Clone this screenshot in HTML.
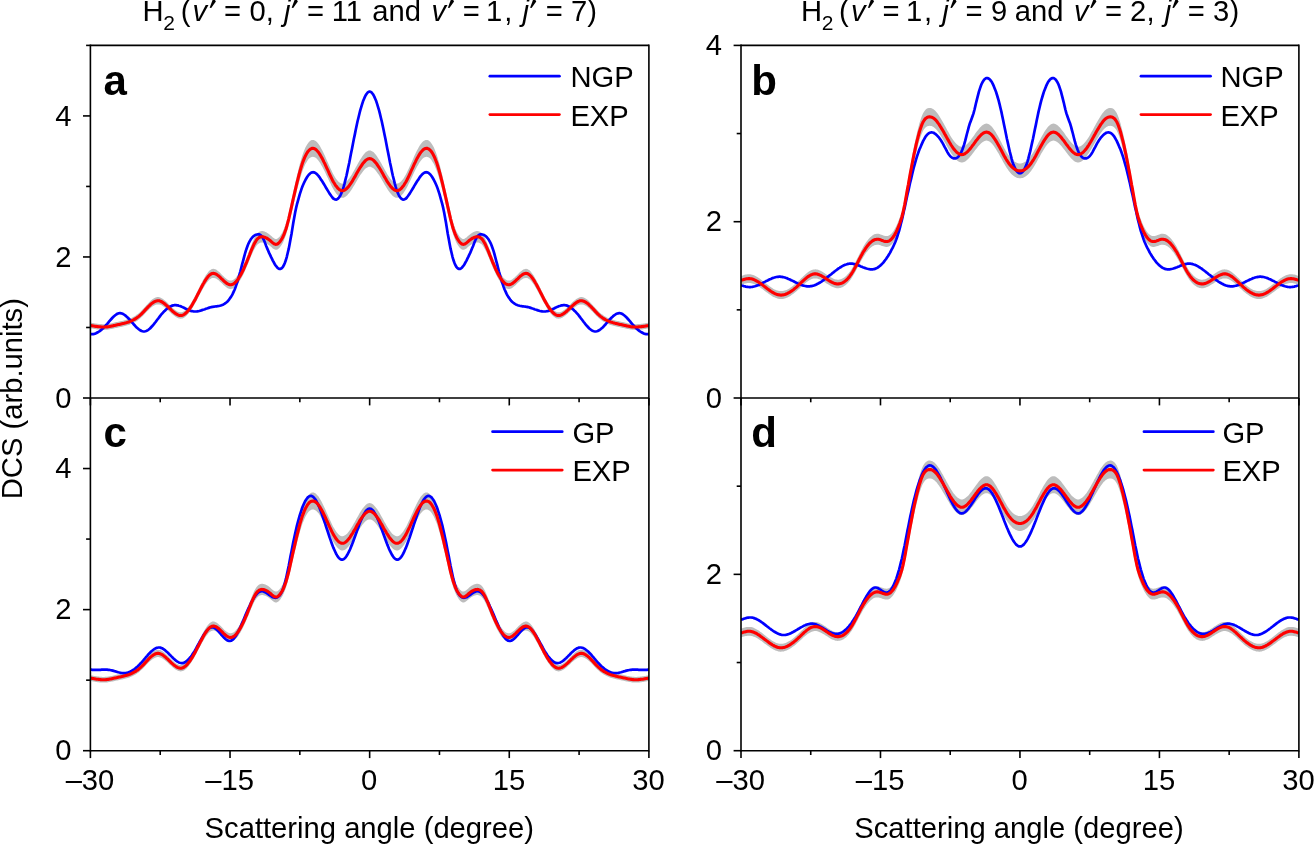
<!DOCTYPE html><html><head><meta charset="utf-8"><style>html,body{margin:0;padding:0;background:#fff}svg{display:block}text{font-family:"Liberation Sans",sans-serif;fill:#000}svg{will-change:transform}</style></head><body>
<svg width="1314" height="846" viewBox="0 0 1314 846">
<rect width="1314" height="846" fill="#fff"/>
<clipPath id="cpa"><rect x="90.4" y="45.4" width="558.5" height="352.6"/></clipPath>
<g clip-path="url(#cpa)" fill="none" stroke-linejoin="round">
<path d="M90.4,322.5 L91.3,322.7 L92.3,322.9 L93.2,323.0 L94.1,323.2 L95.1,323.4 L96.0,323.5 L96.9,323.7 L97.8,323.8 L98.8,323.9 L99.7,324.0 L100.6,324.1 L101.6,324.1 L102.5,324.2 L103.4,324.2 L104.4,324.2 L105.3,324.2 L106.2,324.1 L107.2,324.0 L108.1,323.9 L109.0,323.7 L109.9,323.6 L110.9,323.4 L111.8,323.2 L112.7,323.0 L113.7,322.8 L114.6,322.5 L115.5,322.3 L116.5,322.1 L117.4,321.9 L118.3,321.7 L119.3,321.5 L120.2,321.3 L121.1,321.1 L122.0,320.9 L123.0,320.7 L123.9,320.4 L124.8,320.2 L125.8,319.9 L126.7,319.6 L127.6,319.3 L128.6,319.0 L129.5,318.7 L130.4,318.3 L131.4,317.9 L132.3,317.4 L133.2,317.0 L134.1,316.4 L135.1,315.9 L136.0,315.3 L136.9,314.6 L137.9,313.9 L138.8,313.2 L139.7,312.4 L140.7,311.5 L141.6,310.6 L142.5,309.6 L143.5,308.6 L144.4,307.6 L145.3,306.5 L146.2,305.5 L147.2,304.5 L148.1,303.4 L149.0,302.5 L150.0,301.5 L150.9,300.6 L151.8,299.8 L152.8,299.1 L153.7,298.5 L154.6,297.9 L155.6,297.5 L156.5,297.2 L157.4,297.1 L158.4,297.0 L159.3,297.2 L160.2,297.5 L161.1,297.9 L162.1,298.4 L163.0,299.0 L163.9,299.7 L164.9,300.4 L165.8,301.2 L166.7,302.1 L167.7,303.0 L168.6,303.9 L169.5,304.9 L170.5,305.8 L171.4,306.7 L172.3,307.6 L173.2,308.5 L174.2,309.2 L175.1,310.0 L176.0,310.6 L177.0,311.2 L177.9,311.7 L178.8,312.0 L179.8,312.2 L180.7,312.3 L181.6,312.2 L182.6,312.0 L183.5,311.6 L184.4,311.0 L185.3,310.3 L186.3,309.4 L187.2,308.4 L188.1,307.3 L189.1,306.1 L190.0,304.7 L190.9,303.3 L191.9,301.8 L192.8,300.2 L193.7,298.5 L194.7,296.8 L195.6,295.0 L196.5,293.1 L197.4,291.3 L198.4,289.4 L199.3,287.5 L200.2,285.6 L201.2,283.7 L202.1,281.9 L203.0,280.1 L204.0,278.4 L204.9,276.8 L205.8,275.3 L206.8,273.9 L207.7,272.7 L208.6,271.6 L209.5,270.6 L210.5,269.9 L211.4,269.3 L212.3,269.0 L213.3,268.8 L214.2,268.9 L215.1,269.2 L216.1,269.6 L217.0,270.2 L217.9,270.9 L218.9,271.7 L219.8,272.6 L220.7,273.5 L221.6,274.4 L222.6,275.4 L223.5,276.3 L224.4,277.2 L225.4,278.1 L226.3,278.8 L227.2,279.5 L228.2,280.0 L229.1,280.4 L230.0,280.6 L231.0,280.6 L231.9,280.4 L232.8,280.1 L233.7,279.5 L234.7,278.8 L235.6,277.9 L236.5,276.8 L237.5,275.6 L238.4,274.3 L239.3,272.8 L240.3,271.2 L241.2,269.4 L242.1,267.6 L243.1,265.6 L244.0,263.6 L244.9,261.4 L245.8,259.2 L246.8,256.9 L247.7,254.5 L248.6,252.1 L249.6,249.7 L250.5,247.3 L251.4,244.9 L252.4,242.6 L253.3,240.5 L254.2,238.5 L255.2,236.7 L256.1,235.1 L257.0,233.8 L258.0,232.8 L258.9,232.1 L259.8,231.6 L260.7,231.3 L261.7,231.1 L262.6,231.1 L263.5,231.3 L264.5,231.5 L265.4,231.9 L266.3,232.3 L267.3,232.9 L268.2,233.5 L269.1,234.2 L270.1,234.9 L271.0,235.8 L271.9,236.6 L272.8,237.4 L273.8,238.1 L274.7,238.7 L275.6,238.9 L276.6,238.9 L277.5,238.5 L278.4,237.8 L279.4,236.9 L280.3,235.7 L281.2,234.3 L282.2,232.7 L283.1,230.8 L284.0,228.7 L284.9,226.2 L285.9,223.4 L286.8,220.2 L287.7,216.7 L288.7,212.9 L289.6,208.8 L290.5,204.6 L291.5,200.2 L292.4,195.9 L293.3,191.6 L294.3,187.4 L295.2,183.3 L296.1,179.3 L297.0,175.3 L298.0,171.4 L298.9,167.6 L299.8,164.0 L300.8,160.7 L301.7,157.5 L302.6,154.7 L303.6,152.1 L304.5,149.7 L305.4,147.6 L306.4,145.8 L307.3,144.2 L308.2,142.9 L309.1,141.8 L310.1,140.9 L311.0,140.3 L311.9,140.0 L312.9,139.9 L313.8,140.0 L314.7,140.4 L315.7,141.0 L316.6,141.8 L317.5,142.8 L318.5,144.0 L319.4,145.3 L320.3,146.8 L321.2,148.5 L322.2,150.2 L323.1,152.1 L324.0,154.0 L325.0,156.1 L325.9,158.2 L326.8,160.3 L327.8,162.4 L328.7,164.5 L329.6,166.6 L330.6,168.7 L331.5,170.6 L332.4,172.5 L333.3,174.3 L334.3,176.0 L335.2,177.5 L336.1,178.9 L337.1,180.1 L338.0,181.2 L338.9,182.1 L339.9,182.8 L340.8,183.2 L341.7,183.5 L342.7,183.6 L343.6,183.4 L344.5,183.0 L345.4,182.4 L346.4,181.6 L347.3,180.7 L348.2,179.6 L349.2,178.4 L350.1,177.1 L351.0,175.7 L352.0,174.2 L352.9,172.6 L353.8,171.0 L354.8,169.3 L355.7,167.6 L356.6,165.9 L357.5,164.2 L358.5,162.6 L359.4,161.0 L360.3,159.4 L361.3,157.9 L362.2,156.5 L363.1,155.2 L364.1,154.1 L365.0,153.0 L365.9,152.1 L366.9,151.4 L367.8,150.9 L368.7,150.6 L369.6,150.5 L370.6,150.6 L371.5,150.9 L372.4,151.4 L373.4,152.1 L374.3,153.0 L375.2,154.1 L376.2,155.2 L377.1,156.5 L378.0,157.9 L379.0,159.4 L379.9,161.0 L380.8,162.6 L381.8,164.2 L382.7,165.9 L383.6,167.6 L384.5,169.3 L385.5,171.0 L386.4,172.6 L387.3,174.2 L388.3,175.7 L389.2,177.1 L390.1,178.4 L391.1,179.6 L392.0,180.7 L392.9,181.6 L393.9,182.4 L394.8,183.0 L395.7,183.4 L396.6,183.6 L397.6,183.5 L398.5,183.2 L399.4,182.8 L400.4,182.1 L401.3,181.2 L402.2,180.1 L403.2,178.9 L404.1,177.5 L405.0,176.0 L406.0,174.3 L406.9,172.5 L407.8,170.6 L408.7,168.7 L409.7,166.6 L410.6,164.5 L411.5,162.4 L412.5,160.3 L413.4,158.2 L414.3,156.1 L415.3,154.0 L416.2,152.1 L417.1,150.2 L418.1,148.5 L419.0,146.8 L419.9,145.3 L420.8,144.0 L421.8,142.8 L422.7,141.8 L423.6,141.0 L424.6,140.4 L425.5,140.0 L426.4,139.9 L427.4,140.0 L428.3,140.3 L429.2,140.9 L430.2,141.8 L431.1,142.9 L432.0,144.2 L432.9,145.8 L433.9,147.6 L434.8,149.7 L435.7,152.1 L436.7,154.7 L437.6,157.5 L438.5,160.7 L439.5,164.0 L440.4,167.6 L441.3,171.4 L442.3,175.3 L443.2,179.3 L444.1,183.3 L445.0,187.4 L446.0,191.6 L446.9,195.9 L447.8,200.2 L448.8,204.6 L449.7,208.8 L450.6,212.9 L451.6,216.7 L452.5,220.2 L453.4,223.4 L454.4,226.2 L455.3,228.7 L456.2,230.8 L457.1,232.7 L458.1,234.3 L459.0,235.7 L459.9,236.9 L460.9,237.8 L461.8,238.5 L462.7,238.9 L463.7,238.9 L464.6,238.7 L465.5,238.1 L466.5,237.4 L467.4,236.6 L468.3,235.8 L469.2,234.9 L470.2,234.2 L471.1,233.5 L472.0,232.9 L473.0,232.3 L473.9,231.9 L474.8,231.5 L475.8,231.3 L476.7,231.1 L477.6,231.1 L478.6,231.3 L479.5,231.6 L480.4,232.1 L481.4,232.8 L482.3,233.8 L483.2,235.1 L484.1,236.7 L485.1,238.5 L486.0,240.5 L486.9,242.6 L487.9,244.9 L488.8,247.3 L489.7,249.7 L490.7,252.1 L491.6,254.5 L492.5,256.9 L493.5,259.2 L494.4,261.4 L495.3,263.6 L496.2,265.6 L497.2,267.6 L498.1,269.4 L499.0,271.2 L500.0,272.8 L500.9,274.3 L501.8,275.6 L502.8,276.8 L503.7,277.9 L504.6,278.8 L505.6,279.5 L506.5,280.1 L507.4,280.4 L508.3,280.6 L509.3,280.6 L510.2,280.4 L511.1,280.0 L512.1,279.5 L513.0,278.8 L513.9,278.1 L514.9,277.2 L515.8,276.3 L516.7,275.4 L517.7,274.4 L518.6,273.5 L519.5,272.6 L520.4,271.7 L521.4,270.9 L522.3,270.2 L523.2,269.6 L524.2,269.2 L525.1,268.9 L526.0,268.8 L527.0,269.0 L527.9,269.3 L528.8,269.9 L529.8,270.6 L530.7,271.6 L531.6,272.7 L532.5,273.9 L533.5,275.3 L534.4,276.8 L535.3,278.4 L536.3,280.1 L537.2,281.9 L538.1,283.7 L539.1,285.6 L540.0,287.5 L540.9,289.4 L541.9,291.3 L542.8,293.1 L543.7,295.0 L544.6,296.8 L545.6,298.5 L546.5,300.2 L547.4,301.8 L548.4,303.3 L549.3,304.7 L550.2,306.1 L551.2,307.3 L552.1,308.4 L553.0,309.4 L554.0,310.3 L554.9,311.0 L555.8,311.6 L556.7,312.0 L557.7,312.2 L558.6,312.3 L559.5,312.2 L560.5,312.0 L561.4,311.7 L562.3,311.2 L563.3,310.6 L564.2,310.0 L565.1,309.2 L566.1,308.5 L567.0,307.6 L567.9,306.7 L568.8,305.8 L569.8,304.9 L570.7,303.9 L571.6,303.0 L572.6,302.1 L573.5,301.2 L574.4,300.4 L575.4,299.7 L576.3,299.0 L577.2,298.4 L578.2,297.9 L579.1,297.5 L580.0,297.2 L580.9,297.0 L581.9,297.1 L582.8,297.2 L583.7,297.5 L584.7,297.9 L585.6,298.5 L586.5,299.1 L587.5,299.8 L588.4,300.6 L589.3,301.5 L590.3,302.5 L591.2,303.4 L592.1,304.5 L593.1,305.5 L594.0,306.5 L594.9,307.6 L595.8,308.6 L596.8,309.6 L597.7,310.6 L598.6,311.5 L599.6,312.4 L600.5,313.2 L601.4,313.9 L602.4,314.6 L603.3,315.3 L604.2,315.9 L605.2,316.4 L606.1,317.0 L607.0,317.4 L607.9,317.9 L608.9,318.3 L609.8,318.7 L610.7,319.0 L611.7,319.3 L612.6,319.6 L613.5,319.9 L614.5,320.2 L615.4,320.4 L616.3,320.7 L617.3,320.9 L618.2,321.1 L619.1,321.3 L620.0,321.5 L621.0,321.7 L621.9,321.9 L622.8,322.1 L623.8,322.3 L624.7,322.5 L625.6,322.8 L626.6,323.0 L627.5,323.2 L628.4,323.4 L629.4,323.6 L630.3,323.7 L631.2,323.9 L632.1,324.0 L633.1,324.1 L634.0,324.2 L634.9,324.2 L635.9,324.2 L636.8,324.2 L637.7,324.1 L638.7,324.1 L639.6,324.0 L640.5,323.9 L641.5,323.8 L642.4,323.7 L643.3,323.5 L644.2,323.4 L645.2,323.2 L646.1,323.0 L647.0,322.9 L648.0,322.7 L648.9,322.5 L648.9,328.3 L648.0,328.5 L647.0,328.6 L646.1,328.8 L645.2,328.9 L644.2,329.1 L643.3,329.2 L642.4,329.4 L641.5,329.5 L640.5,329.6 L639.6,329.7 L638.7,329.8 L637.7,329.8 L636.8,329.9 L635.9,329.9 L634.9,329.9 L634.0,329.8 L633.1,329.8 L632.1,329.7 L631.2,329.6 L630.3,329.4 L629.4,329.3 L628.4,329.1 L627.5,328.9 L626.6,328.7 L625.6,328.5 L624.7,328.3 L623.8,328.1 L622.8,327.9 L621.9,327.7 L621.0,327.5 L620.0,327.3 L619.1,327.1 L618.2,326.9 L617.3,326.7 L616.3,326.5 L615.4,326.3 L614.5,326.1 L613.5,325.8 L612.6,325.6 L611.7,325.3 L610.7,325.0 L609.8,324.7 L608.9,324.3 L607.9,323.9 L607.0,323.5 L606.1,323.1 L605.2,322.6 L604.2,322.1 L603.3,321.5 L602.4,320.9 L601.4,320.2 L600.5,319.5 L599.6,318.8 L598.6,318.0 L597.7,317.1 L596.8,316.2 L595.8,315.2 L594.9,314.3 L594.0,313.3 L593.1,312.3 L592.1,311.3 L591.2,310.4 L590.3,309.5 L589.3,308.6 L588.4,307.8 L587.5,307.0 L586.5,306.3 L585.6,305.7 L584.7,305.2 L583.7,304.8 L582.8,304.5 L581.9,304.4 L580.9,304.4 L580.0,304.5 L579.1,304.8 L578.2,305.1 L577.2,305.6 L576.3,306.2 L575.4,306.8 L574.4,307.5 L573.5,308.3 L572.6,309.1 L571.6,310.0 L570.7,310.8 L569.8,311.7 L568.8,312.6 L567.9,313.5 L567.0,314.3 L566.1,315.1 L565.1,315.8 L564.2,316.5 L563.3,317.1 L562.3,317.7 L561.4,318.1 L560.5,318.4 L559.5,318.6 L558.6,318.7 L557.7,318.6 L556.7,318.4 L555.8,318.0 L554.9,317.5 L554.0,316.8 L553.0,316.0 L552.1,315.1 L551.2,314.0 L550.2,312.9 L549.3,311.6 L548.4,310.2 L547.4,308.8 L546.5,307.3 L545.6,305.7 L544.6,304.1 L543.7,302.4 L542.8,300.7 L541.9,299.0 L540.9,297.2 L540.0,295.4 L539.1,293.6 L538.1,291.9 L537.2,290.2 L536.3,288.5 L535.3,286.9 L534.4,285.4 L533.5,284.0 L532.5,282.7 L531.6,281.5 L530.7,280.4 L529.8,279.6 L528.8,278.9 L527.9,278.3 L527.0,278.0 L526.0,277.9 L525.1,278.0 L524.2,278.2 L523.2,278.6 L522.3,279.2 L521.4,279.8 L520.4,280.6 L519.5,281.4 L518.6,282.2 L517.7,283.1 L516.7,284.0 L515.8,284.9 L514.9,285.8 L513.9,286.5 L513.0,287.3 L512.1,287.9 L511.1,288.4 L510.2,288.7 L509.3,288.9 L508.3,289.0 L507.4,288.8 L506.5,288.4 L505.6,287.9 L504.6,287.2 L503.7,286.4 L502.8,285.4 L501.8,284.3 L500.9,283.0 L500.0,281.6 L499.0,280.1 L498.1,278.5 L497.2,276.7 L496.2,274.9 L495.3,272.9 L494.4,270.9 L493.5,268.8 L492.5,266.7 L491.6,264.5 L490.7,262.2 L489.7,259.9 L488.8,257.6 L487.9,255.4 L486.9,253.3 L486.0,251.2 L485.1,249.4 L484.1,247.7 L483.2,246.2 L482.3,245.0 L481.4,244.1 L480.4,243.4 L479.5,242.9 L478.6,242.6 L477.6,242.5 L476.7,242.5 L475.8,242.6 L474.8,242.8 L473.9,243.2 L473.0,243.6 L472.0,244.1 L471.1,244.7 L470.2,245.3 L469.2,246.1 L468.3,246.8 L467.4,247.6 L466.5,248.4 L465.5,249.1 L464.6,249.6 L463.7,249.8 L462.7,249.8 L461.8,249.4 L460.9,248.8 L459.9,247.9 L459.0,246.7 L458.1,245.4 L457.1,243.9 L456.2,242.2 L455.3,240.2 L454.4,237.8 L453.4,235.2 L452.5,232.2 L451.6,228.9 L450.6,225.3 L449.7,221.5 L448.8,217.5 L447.8,213.5 L446.9,209.4 L446.0,205.4 L445.0,201.4 L444.1,197.6 L443.2,193.8 L442.3,190.1 L441.3,186.4 L440.4,182.9 L439.5,179.5 L438.5,176.3 L437.6,173.4 L436.7,170.7 L435.7,168.3 L434.8,166.1 L433.9,164.1 L432.9,162.4 L432.0,160.9 L431.1,159.6 L430.2,158.6 L429.2,157.8 L428.3,157.2 L427.4,156.9 L426.4,156.8 L425.5,156.9 L424.6,157.3 L423.6,157.8 L422.7,158.6 L421.8,159.5 L420.8,160.7 L419.9,161.9 L419.0,163.3 L418.1,164.9 L417.1,166.5 L416.2,168.3 L415.3,170.1 L414.3,172.0 L413.4,174.0 L412.5,176.0 L411.5,178.0 L410.6,180.0 L409.7,181.9 L408.7,183.8 L407.8,185.7 L406.9,187.5 L406.0,189.1 L405.0,190.7 L404.1,192.1 L403.2,193.4 L402.2,194.6 L401.3,195.6 L400.4,196.4 L399.4,197.1 L398.5,197.5 L397.6,197.8 L396.6,197.8 L395.7,197.7 L394.8,197.3 L393.9,196.7 L392.9,196.0 L392.0,195.2 L391.1,194.1 L390.1,193.0 L389.2,191.8 L388.3,190.4 L387.3,189.0 L386.4,187.5 L385.5,186.0 L384.5,184.4 L383.6,182.8 L382.7,181.3 L381.8,179.7 L380.8,178.1 L379.9,176.6 L379.0,175.1 L378.0,173.7 L377.1,172.4 L376.2,171.2 L375.2,170.1 L374.3,169.1 L373.4,168.3 L372.4,167.7 L371.5,167.2 L370.6,166.8 L369.6,166.7 L368.7,166.8 L367.8,167.2 L366.9,167.7 L365.9,168.3 L365.0,169.1 L364.1,170.1 L363.1,171.2 L362.2,172.4 L361.3,173.7 L360.3,175.1 L359.4,176.6 L358.5,178.1 L357.5,179.7 L356.6,181.3 L355.7,182.8 L354.8,184.4 L353.8,186.0 L352.9,187.5 L352.0,189.0 L351.0,190.4 L350.1,191.8 L349.2,193.0 L348.2,194.1 L347.3,195.2 L346.4,196.0 L345.4,196.7 L344.5,197.3 L343.6,197.7 L342.7,197.8 L341.7,197.8 L340.8,197.5 L339.9,197.1 L338.9,196.4 L338.0,195.6 L337.1,194.6 L336.1,193.4 L335.2,192.1 L334.3,190.7 L333.3,189.1 L332.4,187.5 L331.5,185.7 L330.6,183.8 L329.6,181.9 L328.7,180.0 L327.8,178.0 L326.8,176.0 L325.9,174.0 L325.0,172.0 L324.0,170.1 L323.1,168.3 L322.2,166.5 L321.2,164.9 L320.3,163.3 L319.4,161.9 L318.5,160.7 L317.5,159.5 L316.6,158.6 L315.7,157.8 L314.7,157.3 L313.8,156.9 L312.9,156.8 L311.9,156.9 L311.0,157.2 L310.1,157.8 L309.1,158.6 L308.2,159.6 L307.3,160.9 L306.4,162.4 L305.4,164.1 L304.5,166.1 L303.6,168.3 L302.6,170.7 L301.7,173.4 L300.8,176.3 L299.8,179.5 L298.9,182.9 L298.0,186.4 L297.0,190.1 L296.1,193.8 L295.2,197.6 L294.3,201.4 L293.3,205.4 L292.4,209.4 L291.5,213.5 L290.5,217.5 L289.6,221.5 L288.7,225.3 L287.7,228.9 L286.8,232.2 L285.9,235.2 L284.9,237.8 L284.0,240.2 L283.1,242.2 L282.2,243.9 L281.2,245.4 L280.3,246.7 L279.4,247.9 L278.4,248.8 L277.5,249.4 L276.6,249.8 L275.6,249.8 L274.7,249.6 L273.8,249.1 L272.8,248.4 L271.9,247.6 L271.0,246.8 L270.1,246.1 L269.1,245.3 L268.2,244.7 L267.3,244.1 L266.3,243.6 L265.4,243.2 L264.5,242.8 L263.5,242.6 L262.6,242.5 L261.7,242.5 L260.7,242.6 L259.8,242.9 L258.9,243.4 L258.0,244.1 L257.0,245.0 L256.1,246.2 L255.2,247.7 L254.2,249.4 L253.3,251.2 L252.4,253.3 L251.4,255.4 L250.5,257.6 L249.6,259.9 L248.6,262.2 L247.7,264.5 L246.8,266.7 L245.8,268.8 L244.9,270.9 L244.0,272.9 L243.1,274.9 L242.1,276.7 L241.2,278.5 L240.3,280.1 L239.3,281.6 L238.4,283.0 L237.5,284.3 L236.5,285.4 L235.6,286.4 L234.7,287.2 L233.7,287.9 L232.8,288.4 L231.9,288.8 L231.0,289.0 L230.0,288.9 L229.1,288.7 L228.2,288.4 L227.2,287.9 L226.3,287.3 L225.4,286.5 L224.4,285.8 L223.5,284.9 L222.6,284.0 L221.6,283.1 L220.7,282.2 L219.8,281.4 L218.9,280.6 L217.9,279.8 L217.0,279.2 L216.1,278.6 L215.1,278.2 L214.2,278.0 L213.3,277.9 L212.3,278.0 L211.4,278.3 L210.5,278.9 L209.5,279.6 L208.6,280.4 L207.7,281.5 L206.8,282.7 L205.8,284.0 L204.9,285.4 L204.0,286.9 L203.0,288.5 L202.1,290.2 L201.2,291.9 L200.2,293.6 L199.3,295.4 L198.4,297.2 L197.4,299.0 L196.5,300.7 L195.6,302.4 L194.7,304.1 L193.7,305.7 L192.8,307.3 L191.9,308.8 L190.9,310.2 L190.0,311.6 L189.1,312.9 L188.1,314.0 L187.2,315.1 L186.3,316.0 L185.3,316.8 L184.4,317.5 L183.5,318.0 L182.6,318.4 L181.6,318.6 L180.7,318.7 L179.8,318.6 L178.8,318.4 L177.9,318.1 L177.0,317.7 L176.0,317.1 L175.1,316.5 L174.2,315.8 L173.2,315.1 L172.3,314.3 L171.4,313.5 L170.5,312.6 L169.5,311.7 L168.6,310.8 L167.7,310.0 L166.7,309.1 L165.8,308.3 L164.9,307.5 L163.9,306.8 L163.0,306.2 L162.1,305.6 L161.1,305.1 L160.2,304.8 L159.3,304.5 L158.4,304.4 L157.4,304.4 L156.5,304.5 L155.6,304.8 L154.6,305.2 L153.7,305.7 L152.8,306.3 L151.8,307.0 L150.9,307.8 L150.0,308.6 L149.0,309.5 L148.1,310.4 L147.2,311.3 L146.2,312.3 L145.3,313.3 L144.4,314.3 L143.5,315.2 L142.5,316.2 L141.6,317.1 L140.7,318.0 L139.7,318.8 L138.8,319.5 L137.9,320.2 L136.9,320.9 L136.0,321.5 L135.1,322.1 L134.1,322.6 L133.2,323.1 L132.3,323.5 L131.4,323.9 L130.4,324.3 L129.5,324.7 L128.6,325.0 L127.6,325.3 L126.7,325.6 L125.8,325.8 L124.8,326.1 L123.9,326.3 L123.0,326.5 L122.0,326.7 L121.1,326.9 L120.2,327.1 L119.3,327.3 L118.3,327.5 L117.4,327.7 L116.5,327.9 L115.5,328.1 L114.6,328.3 L113.7,328.5 L112.7,328.7 L111.8,328.9 L110.9,329.1 L109.9,329.3 L109.0,329.4 L108.1,329.6 L107.2,329.7 L106.2,329.8 L105.3,329.8 L104.4,329.9 L103.4,329.9 L102.5,329.9 L101.6,329.8 L100.6,329.8 L99.7,329.7 L98.8,329.6 L97.8,329.5 L96.9,329.4 L96.0,329.2 L95.1,329.1 L94.1,328.9 L93.2,328.8 L92.3,328.6 L91.3,328.5 L90.4,328.3Z" fill="#bdbdbd" stroke="none"/>
<path d="M90.4,334.2 L91.3,334.2 L92.3,334.2 L93.2,334.1 L94.1,333.9 L95.1,333.6 L96.0,333.3 L96.9,332.8 L97.8,332.3 L98.8,331.7 L99.7,331.1 L100.6,330.4 L101.6,329.6 L102.5,328.7 L103.4,327.9 L104.4,326.9 L105.3,326.0 L106.2,324.9 L107.2,323.9 L108.1,322.8 L109.0,321.7 L109.9,320.6 L110.9,319.5 L111.8,318.5 L112.7,317.5 L113.7,316.6 L114.6,315.7 L115.5,315.0 L116.5,314.3 L117.4,313.8 L118.3,313.4 L119.3,313.2 L120.2,313.2 L121.1,313.3 L122.0,313.5 L123.0,313.9 L123.9,314.5 L124.8,315.1 L125.8,315.8 L126.7,316.7 L127.6,317.5 L128.6,318.5 L129.5,319.5 L130.4,320.5 L131.4,321.6 L132.3,322.7 L133.2,323.7 L134.1,324.8 L135.1,325.8 L136.0,326.8 L136.9,327.7 L137.9,328.5 L138.8,329.3 L139.7,330.0 L140.7,330.5 L141.6,331.0 L142.5,331.3 L143.5,331.5 L144.4,331.5 L145.3,331.3 L146.2,331.0 L147.2,330.6 L148.1,330.0 L149.0,329.3 L150.0,328.5 L150.9,327.5 L151.8,326.5 L152.8,325.5 L153.7,324.4 L154.6,323.2 L155.6,322.0 L156.5,320.7 L157.4,319.5 L158.4,318.3 L159.3,317.1 L160.2,315.9 L161.1,314.7 L162.1,313.6 L163.0,312.6 L163.9,311.6 L164.9,310.7 L165.8,309.8 L166.7,309.0 L167.7,308.2 L168.6,307.6 L169.5,307.0 L170.5,306.4 L171.4,306.0 L172.3,305.6 L173.2,305.4 L174.2,305.2 L175.1,305.1 L176.0,305.2 L177.0,305.3 L177.9,305.4 L178.8,305.7 L179.8,306.0 L180.7,306.3 L181.6,306.7 L182.6,307.1 L183.5,307.6 L184.4,308.0 L185.3,308.5 L186.3,308.9 L187.2,309.4 L188.1,309.8 L189.1,310.2 L190.0,310.6 L190.9,310.9 L191.9,311.1 L192.8,311.3 L193.7,311.5 L194.7,311.5 L195.6,311.5 L196.5,311.5 L197.4,311.3 L198.4,311.2 L199.3,311.0 L200.2,310.7 L201.2,310.4 L202.1,310.1 L203.0,309.8 L204.0,309.5 L204.9,309.2 L205.8,308.8 L206.8,308.5 L207.7,308.2 L208.6,307.9 L209.5,307.6 L210.5,307.3 L211.4,307.1 L212.3,306.9 L213.3,306.8 L214.2,306.6 L215.1,306.5 L216.1,306.4 L217.0,306.3 L217.9,306.1 L218.9,306.0 L219.8,305.8 L220.7,305.5 L221.6,305.2 L222.6,304.8 L223.5,304.4 L224.4,303.9 L225.4,303.2 L226.3,302.5 L227.2,301.7 L228.2,300.7 L229.1,299.6 L230.0,298.3 L231.0,296.9 L231.9,295.4 L232.8,293.6 L233.7,291.6 L234.7,289.5 L235.6,287.1 L236.5,284.4 L237.5,281.5 L238.4,278.3 L239.3,275.0 L240.3,271.5 L241.2,268.0 L242.1,264.4 L243.1,260.8 L244.0,257.3 L244.9,254.0 L245.8,250.9 L246.8,248.0 L247.7,245.5 L248.6,243.3 L249.6,241.4 L250.5,239.8 L251.4,238.5 L252.4,237.3 L253.3,236.4 L254.2,235.7 L255.2,235.1 L256.1,234.7 L257.0,234.5 L258.0,234.3 L258.9,234.4 L259.8,234.6 L260.7,235.1 L261.7,236.1 L262.6,237.5 L263.5,239.3 L264.5,241.5 L265.4,243.9 L266.3,246.3 L267.3,248.6 L268.2,250.8 L269.1,252.9 L270.1,254.9 L271.0,256.9 L271.9,258.7 L272.8,260.6 L273.8,262.3 L274.7,264.0 L275.6,265.5 L276.6,266.7 L277.5,267.8 L278.4,268.5 L279.4,268.9 L280.3,269.0 L281.2,268.6 L282.2,267.8 L283.1,266.6 L284.0,264.9 L284.9,262.7 L285.9,260.0 L286.8,256.8 L287.7,253.0 L288.7,248.9 L289.6,244.3 L290.5,239.3 L291.5,234.0 L292.4,228.4 L293.3,222.8 L294.3,217.3 L295.2,212.3 L296.1,207.9 L297.0,204.2 L298.0,200.7 L298.9,197.4 L299.8,194.1 L300.8,191.1 L301.7,188.4 L302.6,186.0 L303.6,183.8 L304.5,181.8 L305.4,180.0 L306.4,178.3 L307.3,176.8 L308.2,175.5 L309.1,174.4 L310.1,173.5 L311.0,172.8 L311.9,172.4 L312.9,172.2 L313.8,172.3 L314.7,172.6 L315.7,173.2 L316.6,173.9 L317.5,174.8 L318.5,175.9 L319.4,177.1 L320.3,178.5 L321.2,179.9 L322.2,181.3 L323.1,182.8 L324.0,184.3 L325.0,185.9 L325.9,187.5 L326.8,189.0 L327.8,190.6 L328.7,192.1 L329.6,193.6 L330.6,195.0 L331.5,196.3 L332.4,197.5 L333.3,198.5 L334.3,199.1 L335.2,199.5 L336.1,199.6 L337.1,199.3 L338.0,198.6 L338.9,197.6 L339.9,196.3 L340.8,194.5 L341.7,192.4 L342.7,189.8 L343.6,186.9 L344.5,183.6 L345.4,179.9 L346.4,176.0 L347.3,171.9 L348.2,167.5 L349.2,163.0 L350.1,158.3 L351.0,153.6 L352.0,148.8 L352.9,144.0 L353.8,139.3 L354.8,134.6 L355.7,130.1 L356.6,125.7 L357.5,121.5 L358.5,117.5 L359.4,113.7 L360.3,110.2 L361.3,106.9 L362.2,103.9 L363.1,101.1 L364.1,98.7 L365.0,96.6 L365.9,94.9 L366.9,93.5 L367.8,92.4 L368.7,91.8 L369.6,91.6 L370.6,91.8 L371.5,92.4 L372.4,93.5 L373.4,94.9 L374.3,96.6 L375.2,98.7 L376.2,101.1 L377.1,103.9 L378.0,106.9 L379.0,110.2 L379.9,113.7 L380.8,117.5 L381.8,121.5 L382.7,125.7 L383.6,130.1 L384.5,134.6 L385.5,139.3 L386.4,144.0 L387.3,148.8 L388.3,153.6 L389.2,158.3 L390.1,163.0 L391.1,167.5 L392.0,171.9 L392.9,176.0 L393.9,179.9 L394.8,183.6 L395.7,186.9 L396.6,189.8 L397.6,192.4 L398.5,194.5 L399.4,196.3 L400.4,197.6 L401.3,198.6 L402.2,199.3 L403.2,199.6 L404.1,199.5 L405.0,199.1 L406.0,198.5 L406.9,197.5 L407.8,196.3 L408.7,195.0 L409.7,193.6 L410.6,192.1 L411.5,190.6 L412.5,189.0 L413.4,187.5 L414.3,185.9 L415.3,184.3 L416.2,182.8 L417.1,181.3 L418.1,179.9 L419.0,178.5 L419.9,177.1 L420.8,175.9 L421.8,174.8 L422.7,173.9 L423.6,173.2 L424.6,172.6 L425.5,172.3 L426.4,172.2 L427.4,172.4 L428.3,172.8 L429.2,173.5 L430.2,174.4 L431.1,175.5 L432.0,176.8 L432.9,178.3 L433.9,180.0 L434.8,181.8 L435.7,183.8 L436.7,186.0 L437.6,188.4 L438.5,191.1 L439.5,194.1 L440.4,197.4 L441.3,200.7 L442.3,204.2 L443.2,207.9 L444.1,212.3 L445.0,217.3 L446.0,222.8 L446.9,228.4 L447.8,234.0 L448.8,239.3 L449.7,244.3 L450.6,248.9 L451.6,253.0 L452.5,256.8 L453.4,260.0 L454.4,262.7 L455.3,264.9 L456.2,266.6 L457.1,267.8 L458.1,268.6 L459.0,269.0 L459.9,268.9 L460.9,268.5 L461.8,267.8 L462.7,266.7 L463.7,265.5 L464.6,264.0 L465.5,262.3 L466.5,260.6 L467.4,258.7 L468.3,256.9 L469.2,254.9 L470.2,252.9 L471.1,250.8 L472.0,248.6 L473.0,246.3 L473.9,243.9 L474.8,241.5 L475.8,239.3 L476.7,237.5 L477.6,236.1 L478.6,235.1 L479.5,234.6 L480.4,234.4 L481.4,234.3 L482.3,234.5 L483.2,234.7 L484.1,235.1 L485.1,235.7 L486.0,236.4 L486.9,237.3 L487.9,238.5 L488.8,239.8 L489.7,241.4 L490.7,243.3 L491.6,245.5 L492.5,248.0 L493.5,250.9 L494.4,254.0 L495.3,257.3 L496.2,260.8 L497.2,264.4 L498.1,268.0 L499.0,271.5 L500.0,275.0 L500.9,278.3 L501.8,281.5 L502.8,284.4 L503.7,287.1 L504.6,289.5 L505.6,291.6 L506.5,293.6 L507.4,295.4 L508.3,296.9 L509.3,298.3 L510.2,299.6 L511.1,300.7 L512.1,301.7 L513.0,302.5 L513.9,303.2 L514.9,303.9 L515.8,304.4 L516.7,304.8 L517.7,305.2 L518.6,305.5 L519.5,305.8 L520.4,306.0 L521.4,306.1 L522.3,306.3 L523.2,306.4 L524.2,306.5 L525.1,306.6 L526.0,306.8 L527.0,306.9 L527.9,307.1 L528.8,307.3 L529.8,307.6 L530.7,307.9 L531.6,308.2 L532.5,308.5 L533.5,308.8 L534.4,309.2 L535.3,309.5 L536.3,309.8 L537.2,310.1 L538.1,310.4 L539.1,310.7 L540.0,311.0 L540.9,311.2 L541.9,311.3 L542.8,311.5 L543.7,311.5 L544.6,311.5 L545.6,311.5 L546.5,311.3 L547.4,311.1 L548.4,310.9 L549.3,310.6 L550.2,310.2 L551.2,309.8 L552.1,309.4 L553.0,308.9 L554.0,308.5 L554.9,308.0 L555.8,307.6 L556.7,307.1 L557.7,306.7 L558.6,306.3 L559.5,306.0 L560.5,305.7 L561.4,305.4 L562.3,305.3 L563.3,305.2 L564.2,305.1 L565.1,305.2 L566.1,305.4 L567.0,305.6 L567.9,306.0 L568.8,306.4 L569.8,307.0 L570.7,307.6 L571.6,308.2 L572.6,309.0 L573.5,309.8 L574.4,310.7 L575.4,311.6 L576.3,312.6 L577.2,313.6 L578.2,314.7 L579.1,315.9 L580.0,317.1 L580.9,318.3 L581.9,319.5 L582.8,320.7 L583.7,322.0 L584.7,323.2 L585.6,324.4 L586.5,325.5 L587.5,326.5 L588.4,327.5 L589.3,328.5 L590.3,329.3 L591.2,330.0 L592.1,330.6 L593.1,331.0 L594.0,331.3 L594.9,331.5 L595.8,331.5 L596.8,331.3 L597.7,331.0 L598.6,330.5 L599.6,330.0 L600.5,329.3 L601.4,328.5 L602.4,327.7 L603.3,326.8 L604.2,325.8 L605.2,324.8 L606.1,323.7 L607.0,322.7 L607.9,321.6 L608.9,320.5 L609.8,319.5 L610.7,318.5 L611.7,317.5 L612.6,316.7 L613.5,315.8 L614.5,315.1 L615.4,314.5 L616.3,313.9 L617.3,313.5 L618.2,313.3 L619.1,313.2 L620.0,313.2 L621.0,313.4 L621.9,313.8 L622.8,314.3 L623.8,315.0 L624.7,315.7 L625.6,316.6 L626.6,317.5 L627.5,318.5 L628.4,319.5 L629.4,320.6 L630.3,321.7 L631.2,322.8 L632.1,323.9 L633.1,324.9 L634.0,326.0 L634.9,326.9 L635.9,327.9 L636.8,328.7 L637.7,329.6 L638.7,330.4 L639.6,331.1 L640.5,331.7 L641.5,332.3 L642.4,332.8 L643.3,333.3 L644.2,333.6 L645.2,333.9 L646.1,334.1 L647.0,334.2 L648.0,334.2 L648.9,334.2" stroke="#0000ff" stroke-width="2.7"/>
<path d="M90.4,325.4 L91.3,325.6 L92.3,325.7 L93.2,325.9 L94.1,326.1 L95.1,326.2 L96.0,326.4 L96.9,326.5 L97.8,326.6 L98.8,326.7 L99.7,326.8 L100.6,326.9 L101.6,327.0 L102.5,327.0 L103.4,327.0 L104.4,327.0 L105.3,327.0 L106.2,326.9 L107.2,326.9 L108.1,326.7 L109.0,326.6 L109.9,326.4 L110.9,326.3 L111.8,326.1 L112.7,325.9 L113.7,325.6 L114.6,325.4 L115.5,325.2 L116.5,325.0 L117.4,324.8 L118.3,324.6 L119.3,324.4 L120.2,324.2 L121.1,324.0 L122.0,323.8 L123.0,323.6 L123.9,323.4 L124.8,323.1 L125.8,322.9 L126.7,322.6 L127.6,322.3 L128.6,322.0 L129.5,321.7 L130.4,321.3 L131.4,320.9 L132.3,320.5 L133.2,320.0 L134.1,319.5 L135.1,319.0 L136.0,318.4 L136.9,317.8 L137.9,317.1 L138.8,316.4 L139.7,315.6 L140.7,314.7 L141.6,313.8 L142.5,312.9 L143.5,311.9 L144.4,310.9 L145.3,309.9 L146.2,308.9 L147.2,307.9 L148.1,306.9 L149.0,306.0 L150.0,305.1 L150.9,304.2 L151.8,303.4 L152.8,302.7 L153.7,302.1 L154.6,301.6 L155.6,301.2 L156.5,300.9 L157.4,300.7 L158.4,300.7 L159.3,300.8 L160.2,301.1 L161.1,301.5 L162.1,302.0 L163.0,302.6 L163.9,303.2 L164.9,304.0 L165.8,304.8 L166.7,305.6 L167.7,306.5 L168.6,307.4 L169.5,308.3 L170.5,309.2 L171.4,310.1 L172.3,310.9 L173.2,311.8 L174.2,312.5 L175.1,313.2 L176.0,313.9 L177.0,314.4 L177.9,314.9 L178.8,315.2 L179.8,315.4 L180.7,315.5 L181.6,315.4 L182.6,315.2 L183.5,314.8 L184.4,314.2 L185.3,313.5 L186.3,312.7 L187.2,311.7 L188.1,310.7 L189.1,309.5 L190.0,308.2 L190.9,306.8 L191.9,305.3 L192.8,303.7 L193.7,302.1 L194.7,300.4 L195.6,298.7 L196.5,296.9 L197.4,295.1 L198.4,293.3 L199.3,291.4 L200.2,289.6 L201.2,287.8 L202.1,286.0 L203.0,284.3 L204.0,282.7 L204.9,281.1 L205.8,279.6 L206.8,278.3 L207.7,277.1 L208.6,276.0 L209.5,275.1 L210.5,274.4 L211.4,273.8 L212.3,273.5 L213.3,273.4 L214.2,273.5 L215.1,273.7 L216.1,274.1 L217.0,274.7 L217.9,275.4 L218.9,276.1 L219.8,277.0 L220.7,277.9 L221.6,278.8 L222.6,279.7 L223.5,280.6 L224.4,281.5 L225.4,282.3 L226.3,283.0 L227.2,283.7 L228.2,284.2 L229.1,284.6 L230.0,284.8 L231.0,284.8 L231.9,284.6 L232.8,284.3 L233.7,283.7 L234.7,283.0 L235.6,282.2 L236.5,281.1 L237.5,280.0 L238.4,278.6 L239.3,277.2 L240.3,275.6 L241.2,273.9 L242.1,272.2 L243.1,270.3 L244.0,268.3 L244.9,266.2 L245.8,264.0 L246.8,261.8 L247.7,259.5 L248.6,257.2 L249.6,254.8 L250.5,252.4 L251.4,250.2 L252.4,247.9 L253.3,245.9 L254.2,243.9 L255.2,242.2 L256.1,240.7 L257.0,239.4 L258.0,238.4 L258.9,237.7 L259.8,237.2 L260.7,236.9 L261.7,236.8 L262.6,236.8 L263.5,236.9 L264.5,237.2 L265.4,237.5 L266.3,238.0 L267.3,238.5 L268.2,239.1 L269.1,239.8 L270.1,240.5 L271.0,241.3 L271.9,242.1 L272.8,242.9 L273.8,243.6 L274.7,244.1 L275.6,244.4 L276.6,244.3 L277.5,244.0 L278.4,243.3 L279.4,242.4 L280.3,241.2 L281.2,239.9 L282.2,238.3 L283.1,236.5 L284.0,234.4 L284.9,232.0 L285.9,229.3 L286.8,226.2 L287.7,222.8 L288.7,219.1 L289.6,215.2 L290.5,211.1 L291.5,206.8 L292.4,202.6 L293.3,198.5 L294.3,194.4 L295.2,190.4 L296.1,186.5 L297.0,182.7 L298.0,178.9 L298.9,175.2 L299.8,171.8 L300.8,168.5 L301.7,165.5 L302.6,162.7 L303.6,160.2 L304.5,157.9 L305.4,155.9 L306.4,154.1 L307.3,152.5 L308.2,151.2 L309.1,150.2 L310.1,149.4 L311.0,148.8 L311.9,148.4 L312.9,148.3 L313.8,148.5 L314.7,148.8 L315.7,149.4 L316.6,150.2 L317.5,151.2 L318.5,152.3 L319.4,153.6 L320.3,155.1 L321.2,156.7 L322.2,158.4 L323.1,160.2 L324.0,162.1 L325.0,164.0 L325.9,166.1 L326.8,168.1 L327.8,170.2 L328.7,172.2 L329.6,174.3 L330.6,176.3 L331.5,178.2 L332.4,180.0 L333.3,181.7 L334.3,183.3 L335.2,184.8 L336.1,186.1 L337.1,187.3 L338.0,188.4 L338.9,189.2 L339.9,189.9 L340.8,190.4 L341.7,190.6 L342.7,190.7 L343.6,190.5 L344.5,190.1 L345.4,189.6 L346.4,188.8 L347.3,187.9 L348.2,186.9 L349.2,185.7 L350.1,184.4 L351.0,183.1 L352.0,181.6 L352.9,180.1 L353.8,178.5 L354.8,176.9 L355.7,175.2 L356.6,173.6 L357.5,172.0 L358.5,170.3 L359.4,168.8 L360.3,167.3 L361.3,165.8 L362.2,164.5 L363.1,163.2 L364.1,162.1 L365.0,161.1 L365.9,160.2 L366.9,159.5 L367.8,159.0 L368.7,158.7 L369.6,158.6 L370.6,158.7 L371.5,159.0 L372.4,159.5 L373.4,160.2 L374.3,161.1 L375.2,162.1 L376.2,163.2 L377.1,164.5 L378.0,165.8 L379.0,167.3 L379.9,168.8 L380.8,170.3 L381.8,172.0 L382.7,173.6 L383.6,175.2 L384.5,176.9 L385.5,178.5 L386.4,180.1 L387.3,181.6 L388.3,183.1 L389.2,184.4 L390.1,185.7 L391.1,186.9 L392.0,187.9 L392.9,188.8 L393.9,189.6 L394.8,190.1 L395.7,190.5 L396.6,190.7 L397.6,190.6 L398.5,190.4 L399.4,189.9 L400.4,189.2 L401.3,188.4 L402.2,187.3 L403.2,186.1 L404.1,184.8 L405.0,183.3 L406.0,181.7 L406.9,180.0 L407.8,178.2 L408.7,176.3 L409.7,174.3 L410.6,172.2 L411.5,170.2 L412.5,168.1 L413.4,166.1 L414.3,164.0 L415.3,162.1 L416.2,160.2 L417.1,158.4 L418.1,156.7 L419.0,155.1 L419.9,153.6 L420.8,152.3 L421.8,151.2 L422.7,150.2 L423.6,149.4 L424.6,148.8 L425.5,148.5 L426.4,148.3 L427.4,148.4 L428.3,148.8 L429.2,149.4 L430.2,150.2 L431.1,151.2 L432.0,152.5 L432.9,154.1 L433.9,155.9 L434.8,157.9 L435.7,160.2 L436.7,162.7 L437.6,165.5 L438.5,168.5 L439.5,171.8 L440.4,175.2 L441.3,178.9 L442.3,182.7 L443.2,186.5 L444.1,190.4 L445.0,194.4 L446.0,198.5 L446.9,202.6 L447.8,206.8 L448.8,211.1 L449.7,215.2 L450.6,219.1 L451.6,222.8 L452.5,226.2 L453.4,229.3 L454.4,232.0 L455.3,234.4 L456.2,236.5 L457.1,238.3 L458.1,239.9 L459.0,241.2 L459.9,242.4 L460.9,243.3 L461.8,244.0 L462.7,244.3 L463.7,244.4 L464.6,244.1 L465.5,243.6 L466.5,242.9 L467.4,242.1 L468.3,241.3 L469.2,240.5 L470.2,239.8 L471.1,239.1 L472.0,238.5 L473.0,238.0 L473.9,237.5 L474.8,237.2 L475.8,236.9 L476.7,236.8 L477.6,236.8 L478.6,236.9 L479.5,237.2 L480.4,237.7 L481.4,238.4 L482.3,239.4 L483.2,240.7 L484.1,242.2 L485.1,243.9 L486.0,245.9 L486.9,247.9 L487.9,250.2 L488.8,252.4 L489.7,254.8 L490.7,257.2 L491.6,259.5 L492.5,261.8 L493.5,264.0 L494.4,266.2 L495.3,268.3 L496.2,270.3 L497.2,272.2 L498.1,273.9 L499.0,275.6 L500.0,277.2 L500.9,278.6 L501.8,280.0 L502.8,281.1 L503.7,282.2 L504.6,283.0 L505.6,283.7 L506.5,284.3 L507.4,284.6 L508.3,284.8 L509.3,284.8 L510.2,284.6 L511.1,284.2 L512.1,283.7 L513.0,283.0 L513.9,282.3 L514.9,281.5 L515.8,280.6 L516.7,279.7 L517.7,278.8 L518.6,277.9 L519.5,277.0 L520.4,276.1 L521.4,275.4 L522.3,274.7 L523.2,274.1 L524.2,273.7 L525.1,273.5 L526.0,273.4 L527.0,273.5 L527.9,273.8 L528.8,274.4 L529.8,275.1 L530.7,276.0 L531.6,277.1 L532.5,278.3 L533.5,279.6 L534.4,281.1 L535.3,282.7 L536.3,284.3 L537.2,286.0 L538.1,287.8 L539.1,289.6 L540.0,291.4 L540.9,293.3 L541.9,295.1 L542.8,296.9 L543.7,298.7 L544.6,300.4 L545.6,302.1 L546.5,303.7 L547.4,305.3 L548.4,306.8 L549.3,308.2 L550.2,309.5 L551.2,310.7 L552.1,311.7 L553.0,312.7 L554.0,313.5 L554.9,314.2 L555.8,314.8 L556.7,315.2 L557.7,315.4 L558.6,315.5 L559.5,315.4 L560.5,315.2 L561.4,314.9 L562.3,314.4 L563.3,313.9 L564.2,313.2 L565.1,312.5 L566.1,311.8 L567.0,310.9 L567.9,310.1 L568.8,309.2 L569.8,308.3 L570.7,307.4 L571.6,306.5 L572.6,305.6 L573.5,304.8 L574.4,304.0 L575.4,303.2 L576.3,302.6 L577.2,302.0 L578.2,301.5 L579.1,301.1 L580.0,300.8 L580.9,300.7 L581.9,300.7 L582.8,300.9 L583.7,301.2 L584.7,301.6 L585.6,302.1 L586.5,302.7 L587.5,303.4 L588.4,304.2 L589.3,305.1 L590.3,306.0 L591.2,306.9 L592.1,307.9 L593.1,308.9 L594.0,309.9 L594.9,310.9 L595.8,311.9 L596.8,312.9 L597.7,313.8 L598.6,314.7 L599.6,315.6 L600.5,316.4 L601.4,317.1 L602.4,317.8 L603.3,318.4 L604.2,319.0 L605.2,319.5 L606.1,320.0 L607.0,320.5 L607.9,320.9 L608.9,321.3 L609.8,321.7 L610.7,322.0 L611.7,322.3 L612.6,322.6 L613.5,322.9 L614.5,323.1 L615.4,323.4 L616.3,323.6 L617.3,323.8 L618.2,324.0 L619.1,324.2 L620.0,324.4 L621.0,324.6 L621.9,324.8 L622.8,325.0 L623.8,325.2 L624.7,325.4 L625.6,325.6 L626.6,325.9 L627.5,326.1 L628.4,326.3 L629.4,326.4 L630.3,326.6 L631.2,326.7 L632.1,326.9 L633.1,326.9 L634.0,327.0 L634.9,327.0 L635.9,327.0 L636.8,327.0 L637.7,327.0 L638.7,326.9 L639.6,326.8 L640.5,326.7 L641.5,326.6 L642.4,326.5 L643.3,326.4 L644.2,326.2 L645.2,326.1 L646.1,325.9 L647.0,325.7 L648.0,325.6 L648.9,325.4" stroke="#ff0000" stroke-width="3.1"/>
</g>
<clipPath id="cpb"><rect x="741.0" y="45.4" width="557.9" height="352.6"/></clipPath>
<g clip-path="url(#cpb)" fill="none" stroke-linejoin="round">
<path d="M741.0,276.0 L741.9,275.7 L742.9,275.4 L743.8,275.1 L744.7,274.8 L745.6,274.6 L746.6,274.4 L747.5,274.3 L748.4,274.2 L749.4,274.2 L750.3,274.3 L751.2,274.4 L752.2,274.7 L753.1,275.0 L754.0,275.3 L754.9,275.7 L755.9,276.2 L756.8,276.7 L757.7,277.3 L758.7,277.9 L759.6,278.6 L760.5,279.2 L761.5,279.9 L762.4,280.7 L763.3,281.4 L764.2,282.1 L765.2,282.9 L766.1,283.6 L767.0,284.3 L768.0,285.1 L768.9,285.8 L769.8,286.5 L770.8,287.1 L771.7,287.7 L772.6,288.3 L773.5,288.9 L774.5,289.4 L775.4,289.8 L776.3,290.2 L777.3,290.5 L778.2,290.8 L779.1,291.0 L780.1,291.1 L781.0,291.1 L781.9,291.1 L782.8,291.0 L783.8,290.8 L784.7,290.5 L785.6,290.2 L786.6,289.9 L787.5,289.4 L788.4,288.9 L789.4,288.4 L790.3,287.8 L791.2,287.2 L792.1,286.5 L793.1,285.8 L794.0,285.0 L794.9,284.3 L795.9,283.4 L796.8,282.6 L797.7,281.7 L798.6,280.8 L799.6,279.9 L800.5,279.0 L801.4,278.1 L802.4,277.2 L803.3,276.3 L804.2,275.4 L805.2,274.6 L806.1,273.7 L807.0,273.0 L807.9,272.3 L808.9,271.6 L809.8,271.0 L810.7,270.5 L811.7,270.1 L812.6,269.7 L813.5,269.5 L814.5,269.4 L815.4,269.3 L816.3,269.4 L817.2,269.6 L818.2,269.8 L819.1,270.2 L820.0,270.6 L821.0,271.0 L821.9,271.6 L822.8,272.1 L823.8,272.7 L824.7,273.3 L825.6,273.9 L826.5,274.6 L827.5,275.2 L828.4,275.9 L829.3,276.5 L830.3,277.0 L831.2,277.6 L832.1,278.1 L833.1,278.5 L834.0,278.9 L834.9,279.3 L835.8,279.5 L836.8,279.6 L837.7,279.7 L838.6,279.7 L839.6,279.6 L840.5,279.3 L841.4,279.0 L842.4,278.6 L843.3,278.1 L844.2,277.5 L845.1,276.8 L846.1,276.0 L847.0,275.1 L847.9,274.1 L848.9,272.9 L849.8,271.7 L850.7,270.4 L851.7,269.0 L852.6,267.4 L853.5,265.8 L854.4,264.0 L855.4,262.2 L856.3,260.4 L857.2,258.6 L858.2,256.7 L859.1,254.8 L860.0,253.0 L860.9,251.2 L861.9,249.4 L862.8,247.7 L863.7,246.1 L864.7,244.6 L865.6,243.1 L866.5,241.8 L867.5,240.5 L868.4,239.3 L869.3,238.3 L870.2,237.3 L871.2,236.4 L872.1,235.7 L873.0,235.0 L874.0,234.5 L874.9,234.1 L875.8,233.9 L876.8,233.7 L877.7,233.7 L878.6,233.8 L879.5,234.1 L880.5,234.4 L881.4,234.7 L882.3,235.1 L883.3,235.4 L884.2,235.7 L885.1,236.0 L886.1,236.1 L887.0,236.1 L887.9,235.9 L888.8,235.6 L889.8,235.1 L890.7,234.3 L891.6,233.4 L892.6,232.2 L893.5,230.9 L894.4,229.4 L895.4,227.8 L896.3,225.9 L897.2,223.9 L898.1,221.7 L899.1,219.3 L900.0,216.8 L900.9,214.1 L901.9,210.9 L902.8,207.2 L903.7,202.9 L904.7,198.1 L905.6,192.9 L906.5,187.7 L907.4,182.4 L908.4,177.1 L909.3,171.8 L910.2,166.6 L911.2,161.4 L912.1,156.4 L913.0,151.5 L913.9,146.8 L914.9,142.3 L915.8,138.0 L916.7,134.0 L917.7,130.1 L918.6,126.4 L919.5,123.0 L920.5,119.9 L921.4,117.2 L922.3,114.9 L923.2,113.0 L924.2,111.4 L925.1,110.2 L926.0,109.3 L927.0,108.6 L927.9,108.2 L928.8,108.0 L929.8,108.0 L930.7,108.1 L931.6,108.3 L932.5,108.7 L933.5,109.2 L934.4,110.0 L935.3,110.8 L936.3,111.9 L937.2,113.0 L938.1,114.3 L939.1,115.7 L940.0,117.2 L940.9,118.7 L941.8,120.3 L942.8,121.9 L943.7,123.6 L944.6,125.3 L945.6,127.0 L946.5,128.7 L947.4,130.4 L948.4,132.1 L949.3,133.8 L950.2,135.4 L951.1,136.9 L952.1,138.4 L953.0,139.8 L953.9,141.0 L954.9,142.2 L955.8,143.3 L956.7,144.2 L957.7,145.0 L958.6,145.7 L959.5,146.2 L960.4,146.6 L961.4,146.7 L962.3,146.7 L963.2,146.6 L964.2,146.2 L965.1,145.7 L966.0,145.0 L966.9,144.2 L967.9,143.3 L968.8,142.3 L969.7,141.2 L970.7,140.0 L971.6,138.8 L972.5,137.5 L973.5,136.2 L974.4,134.9 L975.3,133.6 L976.2,132.3 L977.2,131.1 L978.1,129.9 L979.0,128.7 L980.0,127.6 L980.9,126.7 L981.8,125.8 L982.8,125.1 L983.7,124.4 L984.6,124.0 L985.5,123.7 L986.5,123.6 L987.4,123.7 L988.3,124.0 L989.3,124.5 L990.2,125.2 L991.1,126.0 L992.1,127.0 L993.0,128.2 L993.9,129.4 L994.8,130.8 L995.8,132.3 L996.7,133.9 L997.6,135.6 L998.6,137.3 L999.5,139.0 L1000.4,140.8 L1001.4,142.6 L1002.3,144.4 L1003.2,146.1 L1004.1,147.9 L1005.1,149.6 L1006.0,151.2 L1006.9,152.8 L1007.9,154.3 L1008.8,155.6 L1009.7,156.9 L1010.7,158.1 L1011.6,159.1 L1012.5,160.0 L1013.4,160.8 L1014.4,161.5 L1015.3,162.1 L1016.2,162.6 L1017.2,163.0 L1018.1,163.3 L1019.0,163.4 L1020.0,163.5 L1020.9,163.4 L1021.8,163.3 L1022.7,163.0 L1023.7,162.6 L1024.6,162.1 L1025.5,161.5 L1026.5,160.8 L1027.4,160.0 L1028.3,159.1 L1029.2,158.1 L1030.2,156.9 L1031.1,155.6 L1032.0,154.3 L1033.0,152.8 L1033.9,151.2 L1034.8,149.6 L1035.8,147.9 L1036.7,146.1 L1037.6,144.4 L1038.5,142.6 L1039.5,140.8 L1040.4,139.0 L1041.3,137.3 L1042.3,135.6 L1043.2,133.9 L1044.1,132.3 L1045.1,130.8 L1046.0,129.4 L1046.9,128.2 L1047.8,127.0 L1048.8,126.0 L1049.7,125.2 L1050.6,124.5 L1051.6,124.0 L1052.5,123.7 L1053.4,123.6 L1054.4,123.7 L1055.3,124.0 L1056.2,124.4 L1057.1,125.1 L1058.1,125.8 L1059.0,126.7 L1059.9,127.6 L1060.9,128.7 L1061.8,129.9 L1062.7,131.1 L1063.7,132.3 L1064.6,133.6 L1065.5,134.9 L1066.4,136.2 L1067.4,137.5 L1068.3,138.8 L1069.2,140.0 L1070.2,141.2 L1071.1,142.3 L1072.0,143.3 L1073.0,144.2 L1073.9,145.0 L1074.8,145.7 L1075.7,146.2 L1076.7,146.6 L1077.6,146.7 L1078.5,146.7 L1079.5,146.6 L1080.4,146.2 L1081.3,145.7 L1082.2,145.0 L1083.2,144.2 L1084.1,143.3 L1085.0,142.2 L1086.0,141.0 L1086.9,139.8 L1087.8,138.4 L1088.8,136.9 L1089.7,135.4 L1090.6,133.8 L1091.5,132.1 L1092.5,130.4 L1093.4,128.7 L1094.3,127.0 L1095.3,125.3 L1096.2,123.6 L1097.1,121.9 L1098.1,120.3 L1099.0,118.7 L1099.9,117.2 L1100.8,115.7 L1101.8,114.3 L1102.7,113.0 L1103.6,111.9 L1104.6,110.8 L1105.5,110.0 L1106.4,109.2 L1107.4,108.7 L1108.3,108.3 L1109.2,108.1 L1110.1,108.0 L1111.1,108.0 L1112.0,108.2 L1112.9,108.6 L1113.9,109.3 L1114.8,110.2 L1115.7,111.4 L1116.7,113.0 L1117.6,114.9 L1118.5,117.2 L1119.4,119.9 L1120.4,123.0 L1121.3,126.4 L1122.2,130.1 L1123.2,134.0 L1124.1,138.0 L1125.0,142.3 L1126.0,146.8 L1126.9,151.5 L1127.8,156.4 L1128.7,161.4 L1129.7,166.6 L1130.6,171.8 L1131.5,177.1 L1132.5,182.4 L1133.4,187.7 L1134.3,192.9 L1135.2,198.1 L1136.2,202.9 L1137.1,207.2 L1138.0,210.9 L1139.0,214.1 L1139.9,216.8 L1140.8,219.3 L1141.8,221.7 L1142.7,223.9 L1143.6,225.9 L1144.5,227.8 L1145.5,229.4 L1146.4,230.9 L1147.3,232.2 L1148.3,233.4 L1149.2,234.3 L1150.1,235.1 L1151.1,235.6 L1152.0,235.9 L1152.9,236.1 L1153.8,236.1 L1154.8,236.0 L1155.7,235.7 L1156.6,235.4 L1157.6,235.1 L1158.5,234.7 L1159.4,234.4 L1160.4,234.1 L1161.3,233.8 L1162.2,233.7 L1163.1,233.7 L1164.1,233.9 L1165.0,234.1 L1165.9,234.5 L1166.9,235.0 L1167.8,235.7 L1168.7,236.4 L1169.7,237.3 L1170.6,238.3 L1171.5,239.3 L1172.4,240.5 L1173.4,241.8 L1174.3,243.1 L1175.2,244.6 L1176.2,246.1 L1177.1,247.7 L1178.0,249.4 L1179.0,251.2 L1179.9,253.0 L1180.8,254.8 L1181.7,256.7 L1182.7,258.6 L1183.6,260.4 L1184.5,262.2 L1185.5,264.0 L1186.4,265.8 L1187.3,267.4 L1188.2,269.0 L1189.2,270.4 L1190.1,271.7 L1191.0,272.9 L1192.0,274.1 L1192.9,275.1 L1193.8,276.0 L1194.8,276.8 L1195.7,277.5 L1196.6,278.1 L1197.5,278.6 L1198.5,279.0 L1199.4,279.3 L1200.3,279.6 L1201.3,279.7 L1202.2,279.7 L1203.1,279.6 L1204.1,279.5 L1205.0,279.3 L1205.9,278.9 L1206.8,278.5 L1207.8,278.1 L1208.7,277.6 L1209.6,277.0 L1210.6,276.5 L1211.5,275.9 L1212.4,275.2 L1213.4,274.6 L1214.3,273.9 L1215.2,273.3 L1216.1,272.7 L1217.1,272.1 L1218.0,271.6 L1218.9,271.0 L1219.9,270.6 L1220.8,270.2 L1221.7,269.8 L1222.7,269.6 L1223.6,269.4 L1224.5,269.3 L1225.4,269.4 L1226.4,269.5 L1227.3,269.7 L1228.2,270.1 L1229.2,270.5 L1230.1,271.0 L1231.0,271.6 L1232.0,272.3 L1232.9,273.0 L1233.8,273.7 L1234.7,274.6 L1235.7,275.4 L1236.6,276.3 L1237.5,277.2 L1238.5,278.1 L1239.4,279.0 L1240.3,279.9 L1241.3,280.8 L1242.2,281.7 L1243.1,282.6 L1244.0,283.4 L1245.0,284.3 L1245.9,285.0 L1246.8,285.8 L1247.8,286.5 L1248.7,287.2 L1249.6,287.8 L1250.5,288.4 L1251.5,288.9 L1252.4,289.4 L1253.3,289.9 L1254.3,290.2 L1255.2,290.5 L1256.1,290.8 L1257.1,291.0 L1258.0,291.1 L1258.9,291.1 L1259.8,291.1 L1260.8,291.0 L1261.7,290.8 L1262.6,290.5 L1263.6,290.2 L1264.5,289.8 L1265.4,289.4 L1266.4,288.9 L1267.3,288.3 L1268.2,287.7 L1269.1,287.1 L1270.1,286.5 L1271.0,285.8 L1271.9,285.1 L1272.9,284.3 L1273.8,283.6 L1274.7,282.9 L1275.7,282.1 L1276.6,281.4 L1277.5,280.7 L1278.4,279.9 L1279.4,279.2 L1280.3,278.6 L1281.2,277.9 L1282.2,277.3 L1283.1,276.7 L1284.0,276.2 L1285.0,275.7 L1285.9,275.3 L1286.8,275.0 L1287.7,274.7 L1288.7,274.4 L1289.6,274.3 L1290.5,274.2 L1291.5,274.2 L1292.4,274.3 L1293.3,274.4 L1294.3,274.6 L1295.2,274.8 L1296.1,275.1 L1297.0,275.4 L1298.0,275.7 L1298.9,276.0 L1298.9,284.8 L1298.0,284.4 L1297.0,284.1 L1296.1,283.9 L1295.2,283.6 L1294.3,283.4 L1293.3,283.2 L1292.4,283.1 L1291.5,283.0 L1290.5,283.0 L1289.6,283.1 L1288.7,283.2 L1287.7,283.4 L1286.8,283.7 L1285.9,284.1 L1285.0,284.5 L1284.0,284.9 L1283.1,285.4 L1282.2,285.9 L1281.2,286.5 L1280.3,287.1 L1279.4,287.8 L1278.4,288.4 L1277.5,289.1 L1276.6,289.8 L1275.7,290.5 L1274.7,291.2 L1273.8,291.9 L1272.9,292.6 L1271.9,293.3 L1271.0,293.9 L1270.1,294.6 L1269.1,295.2 L1268.2,295.8 L1267.3,296.4 L1266.4,296.9 L1265.4,297.3 L1264.5,297.8 L1263.6,298.1 L1262.6,298.5 L1261.7,298.7 L1260.8,298.9 L1259.8,299.0 L1258.9,299.0 L1258.0,299.0 L1257.1,298.9 L1256.1,298.7 L1255.2,298.5 L1254.3,298.2 L1253.3,297.8 L1252.4,297.4 L1251.5,296.9 L1250.5,296.4 L1249.6,295.9 L1248.7,295.3 L1247.8,294.6 L1246.8,294.0 L1245.9,293.3 L1245.0,292.5 L1244.0,291.7 L1243.1,290.9 L1242.2,290.1 L1241.3,289.3 L1240.3,288.4 L1239.4,287.6 L1238.5,286.7 L1237.5,285.8 L1236.6,285.0 L1235.7,284.1 L1234.7,283.3 L1233.8,282.6 L1232.9,281.8 L1232.0,281.2 L1231.0,280.5 L1230.1,280.0 L1229.2,279.5 L1228.2,279.1 L1227.3,278.8 L1226.4,278.5 L1225.4,278.4 L1224.5,278.4 L1223.6,278.5 L1222.7,278.6 L1221.7,278.9 L1220.8,279.2 L1219.9,279.6 L1218.9,280.0 L1218.0,280.5 L1217.1,281.0 L1216.1,281.6 L1215.2,282.2 L1214.3,282.8 L1213.4,283.4 L1212.4,284.0 L1211.5,284.6 L1210.6,285.1 L1209.6,285.7 L1208.7,286.2 L1207.8,286.7 L1206.8,287.1 L1205.9,287.5 L1205.0,287.8 L1204.1,288.0 L1203.1,288.2 L1202.2,288.2 L1201.3,288.2 L1200.3,288.1 L1199.4,287.9 L1198.5,287.6 L1197.5,287.2 L1196.6,286.7 L1195.7,286.1 L1194.8,285.5 L1193.8,284.7 L1192.9,283.8 L1192.0,282.9 L1191.0,281.8 L1190.1,280.7 L1189.2,279.4 L1188.2,278.0 L1187.3,276.6 L1186.4,275.0 L1185.5,273.4 L1184.5,271.7 L1183.6,270.0 L1182.7,268.2 L1181.7,266.4 L1180.8,264.7 L1179.9,262.9 L1179.0,261.2 L1178.0,259.6 L1177.1,258.0 L1176.2,256.4 L1175.2,255.0 L1174.3,253.6 L1173.4,252.3 L1172.4,251.2 L1171.5,250.0 L1170.6,249.0 L1169.7,248.1 L1168.7,247.3 L1167.8,246.6 L1166.9,246.0 L1165.9,245.5 L1165.0,245.1 L1164.1,244.9 L1163.1,244.7 L1162.2,244.7 L1161.3,244.8 L1160.4,245.0 L1159.4,245.3 L1158.5,245.7 L1157.6,246.0 L1156.6,246.3 L1155.7,246.6 L1154.8,246.8 L1153.8,247.0 L1152.9,247.0 L1152.0,246.8 L1151.1,246.5 L1150.1,246.0 L1149.2,245.3 L1148.3,244.4 L1147.3,243.3 L1146.4,242.1 L1145.5,240.7 L1144.5,239.1 L1143.6,237.3 L1142.7,235.4 L1141.8,233.4 L1140.8,231.1 L1139.9,228.8 L1139.0,226.2 L1138.0,223.2 L1137.1,219.7 L1136.2,215.6 L1135.2,211.0 L1134.3,206.2 L1133.4,201.2 L1132.5,196.2 L1131.5,191.2 L1130.6,186.2 L1129.7,181.2 L1128.7,176.4 L1127.8,171.6 L1126.9,167.0 L1126.0,162.5 L1125.0,158.3 L1124.1,154.3 L1123.2,150.4 L1122.2,146.8 L1121.3,143.3 L1120.4,140.1 L1119.4,137.1 L1118.5,134.6 L1117.6,132.4 L1116.7,130.6 L1115.7,129.1 L1114.8,127.9 L1113.9,127.0 L1112.9,126.4 L1112.0,126.1 L1111.1,125.9 L1110.1,125.8 L1109.2,125.9 L1108.3,126.1 L1107.4,126.5 L1106.4,127.0 L1105.5,127.7 L1104.6,128.5 L1103.6,129.5 L1102.7,130.6 L1101.8,131.8 L1100.8,133.1 L1099.9,134.5 L1099.0,136.0 L1098.1,137.5 L1097.1,139.0 L1096.2,140.6 L1095.3,142.2 L1094.3,143.8 L1093.4,145.5 L1092.5,147.1 L1091.5,148.7 L1090.6,150.2 L1089.7,151.7 L1088.8,153.2 L1087.8,154.6 L1086.9,155.9 L1086.0,157.1 L1085.0,158.2 L1084.1,159.2 L1083.2,160.1 L1082.2,160.9 L1081.3,161.5 L1080.4,162.0 L1079.5,162.3 L1078.5,162.5 L1077.6,162.5 L1076.7,162.3 L1075.7,162.0 L1074.8,161.5 L1073.9,160.9 L1073.0,160.1 L1072.0,159.2 L1071.1,158.3 L1070.2,157.2 L1069.2,156.1 L1068.3,155.0 L1067.4,153.8 L1066.4,152.5 L1065.5,151.3 L1064.6,150.1 L1063.7,148.9 L1062.7,147.7 L1061.8,146.5 L1060.9,145.4 L1059.9,144.4 L1059.0,143.5 L1058.1,142.7 L1057.1,142.0 L1056.2,141.4 L1055.3,141.0 L1054.4,140.7 L1053.4,140.6 L1052.5,140.7 L1051.6,141.0 L1050.6,141.4 L1049.7,142.1 L1048.8,142.9 L1047.8,143.8 L1046.9,144.9 L1046.0,146.1 L1045.1,147.5 L1044.1,148.9 L1043.2,150.4 L1042.3,151.9 L1041.3,153.5 L1040.4,155.2 L1039.5,156.9 L1038.5,158.6 L1037.6,160.2 L1036.7,161.9 L1035.8,163.6 L1034.8,165.2 L1033.9,166.7 L1033.0,168.2 L1032.0,169.6 L1031.1,170.9 L1030.2,172.1 L1029.2,173.2 L1028.3,174.2 L1027.4,175.0 L1026.5,175.8 L1025.5,176.5 L1024.6,177.0 L1023.7,177.5 L1022.7,177.9 L1021.8,178.1 L1020.9,178.3 L1020.0,178.3 L1019.0,178.3 L1018.1,178.1 L1017.2,177.9 L1016.2,177.5 L1015.3,177.0 L1014.4,176.5 L1013.4,175.8 L1012.5,175.0 L1011.6,174.2 L1010.7,173.2 L1009.7,172.1 L1008.8,170.9 L1007.9,169.6 L1006.9,168.2 L1006.0,166.7 L1005.1,165.2 L1004.1,163.6 L1003.2,161.9 L1002.3,160.2 L1001.4,158.6 L1000.4,156.9 L999.5,155.2 L998.6,153.5 L997.6,151.9 L996.7,150.4 L995.8,148.9 L994.8,147.5 L993.9,146.1 L993.0,144.9 L992.1,143.8 L991.1,142.9 L990.2,142.1 L989.3,141.4 L988.3,141.0 L987.4,140.7 L986.5,140.6 L985.5,140.7 L984.6,141.0 L983.7,141.4 L982.8,142.0 L981.8,142.7 L980.9,143.5 L980.0,144.4 L979.0,145.4 L978.1,146.5 L977.2,147.7 L976.2,148.9 L975.3,150.1 L974.4,151.3 L973.5,152.5 L972.5,153.8 L971.6,155.0 L970.7,156.1 L969.7,157.2 L968.8,158.3 L967.9,159.2 L966.9,160.1 L966.0,160.9 L965.1,161.5 L964.2,162.0 L963.2,162.3 L962.3,162.5 L961.4,162.5 L960.4,162.3 L959.5,162.0 L958.6,161.5 L957.7,160.9 L956.7,160.1 L955.8,159.2 L954.9,158.2 L953.9,157.1 L953.0,155.9 L952.1,154.6 L951.1,153.2 L950.2,151.7 L949.3,150.2 L948.4,148.7 L947.4,147.1 L946.5,145.5 L945.6,143.8 L944.6,142.2 L943.7,140.6 L942.8,139.0 L941.8,137.5 L940.9,136.0 L940.0,134.5 L939.1,133.1 L938.1,131.8 L937.2,130.6 L936.3,129.5 L935.3,128.5 L934.4,127.7 L933.5,127.0 L932.5,126.5 L931.6,126.1 L930.7,125.9 L929.8,125.8 L928.8,125.9 L927.9,126.1 L927.0,126.4 L926.0,127.0 L925.1,127.9 L924.2,129.1 L923.2,130.6 L922.3,132.4 L921.4,134.6 L920.5,137.1 L919.5,140.1 L918.6,143.3 L917.7,146.8 L916.7,150.4 L915.8,154.3 L914.9,158.3 L913.9,162.5 L913.0,167.0 L912.1,171.6 L911.2,176.4 L910.2,181.2 L909.3,186.2 L908.4,191.2 L907.4,196.2 L906.5,201.2 L905.6,206.2 L904.7,211.0 L903.7,215.6 L902.8,219.7 L901.9,223.2 L900.9,226.2 L900.0,228.8 L899.1,231.1 L898.1,233.4 L897.2,235.4 L896.3,237.3 L895.4,239.1 L894.4,240.7 L893.5,242.1 L892.6,243.3 L891.6,244.4 L890.7,245.3 L889.8,246.0 L888.8,246.5 L887.9,246.8 L887.0,247.0 L886.1,247.0 L885.1,246.8 L884.2,246.6 L883.3,246.3 L882.3,246.0 L881.4,245.7 L880.5,245.3 L879.5,245.0 L878.6,244.8 L877.7,244.7 L876.8,244.7 L875.8,244.9 L874.9,245.1 L874.0,245.5 L873.0,246.0 L872.1,246.6 L871.2,247.3 L870.2,248.1 L869.3,249.0 L868.4,250.0 L867.5,251.2 L866.5,252.3 L865.6,253.6 L864.7,255.0 L863.7,256.4 L862.8,258.0 L861.9,259.6 L860.9,261.2 L860.0,262.9 L859.1,264.7 L858.2,266.4 L857.2,268.2 L856.3,270.0 L855.4,271.7 L854.4,273.4 L853.5,275.0 L852.6,276.6 L851.7,278.0 L850.7,279.4 L849.8,280.7 L848.9,281.8 L847.9,282.9 L847.0,283.8 L846.1,284.7 L845.1,285.5 L844.2,286.1 L843.3,286.7 L842.4,287.2 L841.4,287.6 L840.5,287.9 L839.6,288.1 L838.6,288.2 L837.7,288.2 L836.8,288.2 L835.8,288.0 L834.9,287.8 L834.0,287.5 L833.1,287.1 L832.1,286.7 L831.2,286.2 L830.3,285.7 L829.3,285.1 L828.4,284.6 L827.5,284.0 L826.5,283.4 L825.6,282.8 L824.7,282.2 L823.8,281.6 L822.8,281.0 L821.9,280.5 L821.0,280.0 L820.0,279.6 L819.1,279.2 L818.2,278.9 L817.2,278.6 L816.3,278.5 L815.4,278.4 L814.5,278.4 L813.5,278.5 L812.6,278.8 L811.7,279.1 L810.7,279.5 L809.8,280.0 L808.9,280.5 L807.9,281.2 L807.0,281.8 L806.1,282.6 L805.2,283.3 L804.2,284.1 L803.3,285.0 L802.4,285.8 L801.4,286.7 L800.5,287.6 L799.6,288.4 L798.6,289.3 L797.7,290.1 L796.8,290.9 L795.9,291.7 L794.9,292.5 L794.0,293.3 L793.1,294.0 L792.1,294.6 L791.2,295.3 L790.3,295.9 L789.4,296.4 L788.4,296.9 L787.5,297.4 L786.6,297.8 L785.6,298.2 L784.7,298.5 L783.8,298.7 L782.8,298.9 L781.9,299.0 L781.0,299.0 L780.1,299.0 L779.1,298.9 L778.2,298.7 L777.3,298.5 L776.3,298.1 L775.4,297.8 L774.5,297.3 L773.5,296.9 L772.6,296.4 L771.7,295.8 L770.8,295.2 L769.8,294.6 L768.9,293.9 L768.0,293.3 L767.0,292.6 L766.1,291.9 L765.2,291.2 L764.2,290.5 L763.3,289.8 L762.4,289.1 L761.5,288.4 L760.5,287.8 L759.6,287.1 L758.7,286.5 L757.7,285.9 L756.8,285.4 L755.9,284.9 L754.9,284.5 L754.0,284.1 L753.1,283.7 L752.2,283.4 L751.2,283.2 L750.3,283.1 L749.4,283.0 L748.4,283.0 L747.5,283.1 L746.6,283.2 L745.6,283.4 L744.7,283.6 L743.8,283.9 L742.9,284.1 L741.9,284.4 L741.0,284.8Z" fill="#bdbdbd" stroke="none"/>
<path d="M741.0,285.2 L741.9,285.5 L742.9,285.8 L743.8,286.1 L744.7,286.3 L745.6,286.6 L746.6,286.8 L747.5,286.9 L748.4,287.0 L749.4,287.1 L750.3,287.1 L751.2,287.0 L752.2,286.9 L753.1,286.7 L754.0,286.5 L754.9,286.3 L755.9,286.0 L756.8,285.6 L757.7,285.3 L758.7,284.9 L759.6,284.5 L760.5,284.0 L761.5,283.6 L762.4,283.1 L763.3,282.6 L764.2,282.1 L765.2,281.6 L766.1,281.1 L767.0,280.7 L768.0,280.2 L768.9,279.7 L769.8,279.3 L770.8,278.9 L771.7,278.5 L772.6,278.1 L773.5,277.8 L774.5,277.5 L775.4,277.2 L776.3,277.0 L777.3,276.9 L778.2,276.8 L779.1,276.7 L780.1,276.7 L781.0,276.8 L781.9,276.9 L782.8,277.1 L783.8,277.3 L784.7,277.5 L785.6,277.8 L786.6,278.1 L787.5,278.5 L788.4,278.9 L789.4,279.3 L790.3,279.7 L791.2,280.2 L792.1,280.6 L793.1,281.1 L794.0,281.5 L794.9,282.0 L795.9,282.5 L796.8,282.9 L797.7,283.4 L798.6,283.8 L799.6,284.2 L800.5,284.6 L801.4,285.0 L802.4,285.3 L803.3,285.6 L804.2,285.8 L805.2,286.0 L806.1,286.2 L807.0,286.3 L807.9,286.4 L808.9,286.4 L809.8,286.3 L810.7,286.2 L811.7,286.1 L812.6,285.8 L813.5,285.6 L814.5,285.3 L815.4,284.9 L816.3,284.5 L817.2,284.0 L818.2,283.5 L819.1,283.0 L820.0,282.5 L821.0,281.9 L821.9,281.3 L822.8,280.6 L823.8,279.9 L824.7,279.3 L825.6,278.6 L826.5,277.9 L827.5,277.1 L828.4,276.4 L829.3,275.6 L830.3,274.9 L831.2,274.2 L832.1,273.4 L833.1,272.7 L834.0,271.9 L834.9,271.2 L835.8,270.5 L836.8,269.8 L837.7,269.1 L838.6,268.4 L839.6,267.8 L840.5,267.2 L841.4,266.7 L842.4,266.1 L843.3,265.6 L844.2,265.2 L845.1,264.8 L846.1,264.5 L847.0,264.2 L847.9,263.9 L848.9,263.8 L849.8,263.6 L850.7,263.6 L851.7,263.6 L852.6,263.7 L853.5,263.9 L854.4,264.1 L855.4,264.3 L856.3,264.6 L857.2,264.9 L858.2,265.3 L859.1,265.6 L860.0,266.0 L860.9,266.4 L861.9,266.8 L862.8,267.2 L863.7,267.5 L864.7,267.9 L865.6,268.2 L866.5,268.5 L867.5,268.8 L868.4,269.0 L869.3,269.2 L870.2,269.3 L871.2,269.4 L872.1,269.4 L873.0,269.3 L874.0,269.1 L874.9,268.9 L875.8,268.5 L876.8,268.1 L877.7,267.6 L878.6,266.9 L879.5,266.2 L880.5,265.4 L881.4,264.6 L882.3,263.6 L883.3,262.6 L884.2,261.4 L885.1,260.2 L886.1,259.0 L887.0,257.6 L887.9,256.2 L888.8,254.7 L889.8,253.1 L890.7,251.5 L891.6,249.7 L892.6,247.9 L893.5,246.0 L894.4,244.0 L895.4,241.8 L896.3,239.4 L897.2,236.7 L898.1,233.9 L899.1,230.8 L900.0,227.4 L900.9,223.7 L901.9,219.9 L902.8,215.9 L903.7,211.8 L904.7,207.6 L905.6,203.3 L906.5,199.0 L907.4,194.8 L908.4,190.6 L909.3,186.4 L910.2,182.3 L911.2,178.3 L912.1,174.4 L913.0,170.7 L913.9,167.0 L914.9,163.6 L915.8,160.3 L916.7,157.3 L917.7,154.4 L918.6,151.8 L919.5,149.3 L920.5,147.1 L921.4,144.9 L922.3,142.9 L923.2,140.9 L924.2,139.1 L925.1,137.5 L926.0,136.1 L927.0,134.9 L927.9,134.0 L928.8,133.2 L929.8,132.8 L930.7,132.5 L931.6,132.4 L932.5,132.5 L933.5,132.8 L934.4,133.3 L935.3,133.9 L936.3,134.7 L937.2,135.6 L938.1,136.6 L939.1,137.7 L940.0,139.0 L940.9,140.3 L941.8,141.8 L942.8,143.4 L943.7,145.1 L944.6,146.9 L945.6,148.7 L946.5,150.4 L947.4,152.1 L948.4,153.7 L949.3,155.0 L950.2,156.1 L951.1,157.0 L952.1,157.7 L953.0,158.1 L953.9,158.4 L954.9,158.4 L955.8,158.3 L956.7,157.9 L957.7,157.3 L958.6,156.4 L959.5,155.2 L960.4,153.8 L961.4,151.9 L962.3,149.8 L963.2,147.2 L964.2,144.4 L965.1,141.2 L966.0,137.7 L966.9,134.0 L967.9,130.4 L968.8,126.9 L969.7,123.8 L970.7,121.2 L971.6,118.8 L972.5,116.3 L973.5,113.4 L974.4,110.0 L975.3,106.2 L976.2,102.3 L977.2,98.4 L978.1,94.8 L979.0,91.4 L980.0,88.4 L980.9,85.8 L981.8,83.6 L982.8,81.7 L983.7,80.3 L984.6,79.2 L985.5,78.5 L986.5,78.1 L987.4,78.1 L988.3,78.4 L989.3,79.0 L990.2,79.9 L991.1,81.1 L992.1,82.6 L993.0,84.4 L993.9,86.4 L994.8,88.7 L995.8,91.2 L996.7,94.0 L997.6,97.0 L998.6,100.3 L999.5,103.9 L1000.4,107.8 L1001.4,111.9 L1002.3,116.2 L1003.2,120.6 L1004.1,125.1 L1005.1,129.7 L1006.0,134.2 L1006.9,138.7 L1007.9,143.1 L1008.8,147.3 L1009.7,151.4 L1010.7,155.1 L1011.6,158.6 L1012.5,161.8 L1013.4,164.6 L1014.4,166.9 L1015.3,168.9 L1016.2,170.5 L1017.2,171.8 L1018.1,172.6 L1019.0,173.1 L1020.0,173.3 L1020.9,173.1 L1021.8,172.6 L1022.7,171.8 L1023.7,170.5 L1024.6,168.9 L1025.5,166.9 L1026.5,164.6 L1027.4,161.8 L1028.3,158.6 L1029.2,155.1 L1030.2,151.4 L1031.1,147.3 L1032.0,143.1 L1033.0,138.7 L1033.9,134.2 L1034.8,129.7 L1035.8,125.1 L1036.7,120.6 L1037.6,116.2 L1038.5,111.9 L1039.5,107.8 L1040.4,103.9 L1041.3,100.3 L1042.3,97.0 L1043.2,94.0 L1044.1,91.2 L1045.1,88.7 L1046.0,86.4 L1046.9,84.4 L1047.8,82.6 L1048.8,81.1 L1049.7,79.9 L1050.6,79.0 L1051.6,78.4 L1052.5,78.1 L1053.4,78.1 L1054.4,78.5 L1055.3,79.2 L1056.2,80.3 L1057.1,81.7 L1058.1,83.6 L1059.0,85.8 L1059.9,88.4 L1060.9,91.4 L1061.8,94.8 L1062.7,98.4 L1063.7,102.3 L1064.6,106.2 L1065.5,110.0 L1066.4,113.4 L1067.4,116.3 L1068.3,118.8 L1069.2,121.2 L1070.2,123.8 L1071.1,126.9 L1072.0,130.4 L1073.0,134.0 L1073.9,137.7 L1074.8,141.2 L1075.7,144.4 L1076.7,147.2 L1077.6,149.8 L1078.5,151.9 L1079.5,153.8 L1080.4,155.2 L1081.3,156.4 L1082.2,157.3 L1083.2,157.9 L1084.1,158.3 L1085.0,158.4 L1086.0,158.4 L1086.9,158.1 L1087.8,157.7 L1088.8,157.0 L1089.7,156.1 L1090.6,155.0 L1091.5,153.7 L1092.5,152.1 L1093.4,150.4 L1094.3,148.7 L1095.3,146.9 L1096.2,145.1 L1097.1,143.4 L1098.1,141.8 L1099.0,140.3 L1099.9,139.0 L1100.8,137.7 L1101.8,136.6 L1102.7,135.6 L1103.6,134.7 L1104.6,133.9 L1105.5,133.3 L1106.4,132.8 L1107.4,132.5 L1108.3,132.4 L1109.2,132.5 L1110.1,132.8 L1111.1,133.2 L1112.0,134.0 L1112.9,134.9 L1113.9,136.1 L1114.8,137.5 L1115.7,139.1 L1116.7,140.9 L1117.6,142.9 L1118.5,144.9 L1119.4,147.1 L1120.4,149.3 L1121.3,151.8 L1122.2,154.4 L1123.2,157.3 L1124.1,160.3 L1125.0,163.6 L1126.0,167.0 L1126.9,170.7 L1127.8,174.4 L1128.7,178.3 L1129.7,182.3 L1130.6,186.4 L1131.5,190.6 L1132.5,194.8 L1133.4,199.0 L1134.3,203.3 L1135.2,207.6 L1136.2,211.8 L1137.1,215.9 L1138.0,219.9 L1139.0,223.7 L1139.9,227.4 L1140.8,230.8 L1141.8,233.9 L1142.7,236.7 L1143.6,239.4 L1144.5,241.8 L1145.5,244.0 L1146.4,246.0 L1147.3,247.9 L1148.3,249.7 L1149.2,251.5 L1150.1,253.1 L1151.1,254.7 L1152.0,256.2 L1152.9,257.6 L1153.8,259.0 L1154.8,260.2 L1155.7,261.4 L1156.6,262.6 L1157.6,263.6 L1158.5,264.6 L1159.4,265.4 L1160.4,266.2 L1161.3,266.9 L1162.2,267.6 L1163.1,268.1 L1164.1,268.5 L1165.0,268.9 L1165.9,269.1 L1166.9,269.3 L1167.8,269.4 L1168.7,269.4 L1169.7,269.3 L1170.6,269.2 L1171.5,269.0 L1172.4,268.8 L1173.4,268.5 L1174.3,268.2 L1175.2,267.9 L1176.2,267.5 L1177.1,267.2 L1178.0,266.8 L1179.0,266.4 L1179.9,266.0 L1180.8,265.6 L1181.7,265.3 L1182.7,264.9 L1183.6,264.6 L1184.5,264.3 L1185.5,264.1 L1186.4,263.9 L1187.3,263.7 L1188.2,263.6 L1189.2,263.6 L1190.1,263.6 L1191.0,263.8 L1192.0,263.9 L1192.9,264.2 L1193.8,264.5 L1194.8,264.8 L1195.7,265.2 L1196.6,265.6 L1197.5,266.1 L1198.5,266.7 L1199.4,267.2 L1200.3,267.8 L1201.3,268.4 L1202.2,269.1 L1203.1,269.8 L1204.1,270.5 L1205.0,271.2 L1205.9,271.9 L1206.8,272.7 L1207.8,273.4 L1208.7,274.2 L1209.6,274.9 L1210.6,275.6 L1211.5,276.4 L1212.4,277.1 L1213.4,277.9 L1214.3,278.6 L1215.2,279.3 L1216.1,279.9 L1217.1,280.6 L1218.0,281.3 L1218.9,281.9 L1219.9,282.5 L1220.8,283.0 L1221.7,283.5 L1222.7,284.0 L1223.6,284.5 L1224.5,284.9 L1225.4,285.3 L1226.4,285.6 L1227.3,285.8 L1228.2,286.1 L1229.2,286.2 L1230.1,286.3 L1231.0,286.4 L1232.0,286.4 L1232.9,286.3 L1233.8,286.2 L1234.7,286.0 L1235.7,285.8 L1236.6,285.6 L1237.5,285.3 L1238.5,285.0 L1239.4,284.6 L1240.3,284.2 L1241.3,283.8 L1242.2,283.4 L1243.1,282.9 L1244.0,282.5 L1245.0,282.0 L1245.9,281.5 L1246.8,281.1 L1247.8,280.6 L1248.7,280.2 L1249.6,279.7 L1250.5,279.3 L1251.5,278.9 L1252.4,278.5 L1253.3,278.1 L1254.3,277.8 L1255.2,277.5 L1256.1,277.3 L1257.1,277.1 L1258.0,276.9 L1258.9,276.8 L1259.8,276.7 L1260.8,276.7 L1261.7,276.8 L1262.6,276.9 L1263.6,277.0 L1264.5,277.2 L1265.4,277.5 L1266.4,277.8 L1267.3,278.1 L1268.2,278.5 L1269.1,278.9 L1270.1,279.3 L1271.0,279.7 L1271.9,280.2 L1272.9,280.7 L1273.8,281.1 L1274.7,281.6 L1275.7,282.1 L1276.6,282.6 L1277.5,283.1 L1278.4,283.6 L1279.4,284.0 L1280.3,284.5 L1281.2,284.9 L1282.2,285.3 L1283.1,285.6 L1284.0,286.0 L1285.0,286.3 L1285.9,286.5 L1286.8,286.7 L1287.7,286.9 L1288.7,287.0 L1289.6,287.1 L1290.5,287.1 L1291.5,287.0 L1292.4,286.9 L1293.3,286.8 L1294.3,286.6 L1295.2,286.3 L1296.1,286.1 L1297.0,285.8 L1298.0,285.5 L1298.9,285.2" stroke="#0000ff" stroke-width="2.7"/>
<path d="M741.0,280.4 L741.9,280.1 L742.9,279.8 L743.8,279.5 L744.7,279.2 L745.6,279.0 L746.6,278.8 L747.5,278.7 L748.4,278.6 L749.4,278.6 L750.3,278.7 L751.2,278.8 L752.2,279.0 L753.1,279.3 L754.0,279.7 L754.9,280.1 L755.9,280.6 L756.8,281.1 L757.7,281.6 L758.7,282.2 L759.6,282.9 L760.5,283.5 L761.5,284.2 L762.4,284.9 L763.3,285.6 L764.2,286.3 L765.2,287.0 L766.1,287.8 L767.0,288.5 L768.0,289.2 L768.9,289.9 L769.8,290.5 L770.8,291.2 L771.7,291.8 L772.6,292.3 L773.5,292.9 L774.5,293.4 L775.4,293.8 L776.3,294.2 L777.3,294.5 L778.2,294.8 L779.1,294.9 L780.1,295.0 L781.0,295.1 L781.9,295.0 L782.8,294.9 L783.8,294.7 L784.7,294.5 L785.6,294.2 L786.6,293.8 L787.5,293.4 L788.4,292.9 L789.4,292.4 L790.3,291.9 L791.2,291.2 L792.1,290.6 L793.1,289.9 L794.0,289.2 L794.9,288.4 L795.9,287.6 L796.8,286.8 L797.7,285.9 L798.6,285.1 L799.6,284.2 L800.5,283.3 L801.4,282.4 L802.4,281.5 L803.3,280.6 L804.2,279.8 L805.2,278.9 L806.1,278.2 L807.0,277.4 L807.9,276.7 L808.9,276.1 L809.8,275.5 L810.7,275.0 L811.7,274.6 L812.6,274.3 L813.5,274.0 L814.5,273.9 L815.4,273.9 L816.3,273.9 L817.2,274.1 L818.2,274.4 L819.1,274.7 L820.0,275.1 L821.0,275.5 L821.9,276.0 L822.8,276.6 L823.8,277.1 L824.7,277.7 L825.6,278.4 L826.5,279.0 L827.5,279.6 L828.4,280.2 L829.3,280.8 L830.3,281.4 L831.2,281.9 L832.1,282.4 L833.1,282.8 L834.0,283.2 L834.9,283.5 L835.8,283.8 L836.8,283.9 L837.7,284.0 L838.6,283.9 L839.6,283.8 L840.5,283.6 L841.4,283.3 L842.4,282.9 L843.3,282.4 L844.2,281.8 L845.1,281.1 L846.1,280.3 L847.0,279.5 L847.9,278.5 L848.9,277.4 L849.8,276.2 L850.7,274.9 L851.7,273.5 L852.6,272.0 L853.5,270.4 L854.4,268.7 L855.4,267.0 L856.3,265.2 L857.2,263.4 L858.2,261.6 L859.1,259.7 L860.0,257.9 L860.9,256.2 L861.9,254.5 L862.8,252.8 L863.7,251.3 L864.7,249.8 L865.6,248.4 L866.5,247.1 L867.5,245.8 L868.4,244.7 L869.3,243.6 L870.2,242.7 L871.2,241.9 L872.1,241.1 L873.0,240.5 L874.0,240.0 L874.9,239.6 L875.8,239.4 L876.8,239.2 L877.7,239.2 L878.6,239.3 L879.5,239.6 L880.5,239.8 L881.4,240.2 L882.3,240.5 L883.3,240.9 L884.2,241.2 L885.1,241.4 L886.1,241.5 L887.0,241.5 L887.9,241.4 L888.8,241.1 L889.8,240.5 L890.7,239.8 L891.6,238.9 L892.6,237.8 L893.5,236.5 L894.4,235.1 L895.4,233.4 L896.3,231.6 L897.2,229.7 L898.1,227.5 L899.1,225.2 L900.0,222.8 L900.9,220.1 L901.9,217.0 L902.8,213.5 L903.7,209.3 L904.7,204.5 L905.6,199.6 L906.5,194.5 L907.4,189.3 L908.4,184.2 L909.3,179.0 L910.2,173.9 L911.2,168.9 L912.1,164.0 L913.0,159.2 L913.9,154.7 L914.9,150.3 L915.8,146.2 L916.7,142.2 L917.7,138.4 L918.6,134.9 L919.5,131.5 L920.5,128.5 L921.4,125.9 L922.3,123.6 L923.2,121.8 L924.2,120.2 L925.1,119.0 L926.0,118.2 L927.0,117.5 L927.9,117.1 L928.8,116.9 L929.8,116.9 L930.7,117.0 L931.6,117.2 L932.5,117.6 L933.5,118.1 L934.4,118.8 L935.3,119.7 L936.3,120.7 L937.2,121.8 L938.1,123.1 L939.1,124.4 L940.0,125.9 L940.9,127.3 L941.8,128.9 L942.8,130.5 L943.7,132.1 L944.6,133.8 L945.6,135.4 L946.5,137.1 L947.4,138.7 L948.4,140.4 L949.3,142.0 L950.2,143.5 L951.1,145.0 L952.1,146.5 L953.0,147.8 L953.9,149.1 L954.9,150.2 L955.8,151.2 L956.7,152.2 L957.7,152.9 L958.6,153.6 L959.5,154.1 L960.4,154.4 L961.4,154.6 L962.3,154.6 L963.2,154.4 L964.2,154.1 L965.1,153.6 L966.0,152.9 L966.9,152.2 L967.9,151.3 L968.8,150.3 L969.7,149.2 L970.7,148.1 L971.6,146.9 L972.5,145.6 L973.5,144.4 L974.4,143.1 L975.3,141.8 L976.2,140.6 L977.2,139.4 L978.1,138.2 L979.0,137.1 L980.0,136.0 L980.9,135.1 L981.8,134.2 L982.8,133.5 L983.7,132.9 L984.6,132.5 L985.5,132.2 L986.5,132.1 L987.4,132.2 L988.3,132.5 L989.3,133.0 L990.2,133.6 L991.1,134.4 L992.1,135.4 L993.0,136.5 L993.9,137.8 L994.8,139.1 L995.8,140.6 L996.7,142.1 L997.6,143.7 L998.6,145.4 L999.5,147.1 L1000.4,148.8 L1001.4,150.6 L1002.3,152.3 L1003.2,154.0 L1004.1,155.7 L1005.1,157.4 L1006.0,159.0 L1006.9,160.5 L1007.9,161.9 L1008.8,163.3 L1009.7,164.5 L1010.7,165.6 L1011.6,166.6 L1012.5,167.5 L1013.4,168.3 L1014.4,169.0 L1015.3,169.6 L1016.2,170.1 L1017.2,170.4 L1018.1,170.7 L1019.0,170.8 L1020.0,170.9 L1020.9,170.8 L1021.8,170.7 L1022.7,170.4 L1023.7,170.1 L1024.6,169.6 L1025.5,169.0 L1026.5,168.3 L1027.4,167.5 L1028.3,166.6 L1029.2,165.6 L1030.2,164.5 L1031.1,163.3 L1032.0,161.9 L1033.0,160.5 L1033.9,159.0 L1034.8,157.4 L1035.8,155.7 L1036.7,154.0 L1037.6,152.3 L1038.5,150.6 L1039.5,148.8 L1040.4,147.1 L1041.3,145.4 L1042.3,143.7 L1043.2,142.1 L1044.1,140.6 L1045.1,139.1 L1046.0,137.8 L1046.9,136.5 L1047.8,135.4 L1048.8,134.4 L1049.7,133.6 L1050.6,133.0 L1051.6,132.5 L1052.5,132.2 L1053.4,132.1 L1054.4,132.2 L1055.3,132.5 L1056.2,132.9 L1057.1,133.5 L1058.1,134.2 L1059.0,135.1 L1059.9,136.0 L1060.9,137.1 L1061.8,138.2 L1062.7,139.4 L1063.7,140.6 L1064.6,141.8 L1065.5,143.1 L1066.4,144.4 L1067.4,145.6 L1068.3,146.9 L1069.2,148.1 L1070.2,149.2 L1071.1,150.3 L1072.0,151.3 L1073.0,152.2 L1073.9,152.9 L1074.8,153.6 L1075.7,154.1 L1076.7,154.4 L1077.6,154.6 L1078.5,154.6 L1079.5,154.4 L1080.4,154.1 L1081.3,153.6 L1082.2,152.9 L1083.2,152.2 L1084.1,151.2 L1085.0,150.2 L1086.0,149.1 L1086.9,147.8 L1087.8,146.5 L1088.8,145.0 L1089.7,143.5 L1090.6,142.0 L1091.5,140.4 L1092.5,138.7 L1093.4,137.1 L1094.3,135.4 L1095.3,133.8 L1096.2,132.1 L1097.1,130.5 L1098.1,128.9 L1099.0,127.3 L1099.9,125.9 L1100.8,124.4 L1101.8,123.1 L1102.7,121.8 L1103.6,120.7 L1104.6,119.7 L1105.5,118.8 L1106.4,118.1 L1107.4,117.6 L1108.3,117.2 L1109.2,117.0 L1110.1,116.9 L1111.1,116.9 L1112.0,117.1 L1112.9,117.5 L1113.9,118.2 L1114.8,119.0 L1115.7,120.2 L1116.7,121.8 L1117.6,123.6 L1118.5,125.9 L1119.4,128.5 L1120.4,131.5 L1121.3,134.9 L1122.2,138.4 L1123.2,142.2 L1124.1,146.2 L1125.0,150.3 L1126.0,154.7 L1126.9,159.2 L1127.8,164.0 L1128.7,168.9 L1129.7,173.9 L1130.6,179.0 L1131.5,184.2 L1132.5,189.3 L1133.4,194.5 L1134.3,199.6 L1135.2,204.5 L1136.2,209.3 L1137.1,213.5 L1138.0,217.0 L1139.0,220.1 L1139.9,222.8 L1140.8,225.2 L1141.8,227.5 L1142.7,229.7 L1143.6,231.6 L1144.5,233.4 L1145.5,235.1 L1146.4,236.5 L1147.3,237.8 L1148.3,238.9 L1149.2,239.8 L1150.1,240.5 L1151.1,241.1 L1152.0,241.4 L1152.9,241.5 L1153.8,241.5 L1154.8,241.4 L1155.7,241.2 L1156.6,240.9 L1157.6,240.5 L1158.5,240.2 L1159.4,239.8 L1160.4,239.6 L1161.3,239.3 L1162.2,239.2 L1163.1,239.2 L1164.1,239.4 L1165.0,239.6 L1165.9,240.0 L1166.9,240.5 L1167.8,241.1 L1168.7,241.9 L1169.7,242.7 L1170.6,243.6 L1171.5,244.7 L1172.4,245.8 L1173.4,247.1 L1174.3,248.4 L1175.2,249.8 L1176.2,251.3 L1177.1,252.8 L1178.0,254.5 L1179.0,256.2 L1179.9,257.9 L1180.8,259.7 L1181.7,261.6 L1182.7,263.4 L1183.6,265.2 L1184.5,267.0 L1185.5,268.7 L1186.4,270.4 L1187.3,272.0 L1188.2,273.5 L1189.2,274.9 L1190.1,276.2 L1191.0,277.4 L1192.0,278.5 L1192.9,279.5 L1193.8,280.3 L1194.8,281.1 L1195.7,281.8 L1196.6,282.4 L1197.5,282.9 L1198.5,283.3 L1199.4,283.6 L1200.3,283.8 L1201.3,283.9 L1202.2,284.0 L1203.1,283.9 L1204.1,283.8 L1205.0,283.5 L1205.9,283.2 L1206.8,282.8 L1207.8,282.4 L1208.7,281.9 L1209.6,281.4 L1210.6,280.8 L1211.5,280.2 L1212.4,279.6 L1213.4,279.0 L1214.3,278.4 L1215.2,277.7 L1216.1,277.1 L1217.1,276.6 L1218.0,276.0 L1218.9,275.5 L1219.9,275.1 L1220.8,274.7 L1221.7,274.4 L1222.7,274.1 L1223.6,273.9 L1224.5,273.9 L1225.4,273.9 L1226.4,274.0 L1227.3,274.3 L1228.2,274.6 L1229.2,275.0 L1230.1,275.5 L1231.0,276.1 L1232.0,276.7 L1232.9,277.4 L1233.8,278.2 L1234.7,278.9 L1235.7,279.8 L1236.6,280.6 L1237.5,281.5 L1238.5,282.4 L1239.4,283.3 L1240.3,284.2 L1241.3,285.1 L1242.2,285.9 L1243.1,286.8 L1244.0,287.6 L1245.0,288.4 L1245.9,289.2 L1246.8,289.9 L1247.8,290.6 L1248.7,291.2 L1249.6,291.9 L1250.5,292.4 L1251.5,292.9 L1252.4,293.4 L1253.3,293.8 L1254.3,294.2 L1255.2,294.5 L1256.1,294.7 L1257.1,294.9 L1258.0,295.0 L1258.9,295.1 L1259.8,295.0 L1260.8,294.9 L1261.7,294.8 L1262.6,294.5 L1263.6,294.2 L1264.5,293.8 L1265.4,293.4 L1266.4,292.9 L1267.3,292.3 L1268.2,291.8 L1269.1,291.2 L1270.1,290.5 L1271.0,289.9 L1271.9,289.2 L1272.9,288.5 L1273.8,287.8 L1274.7,287.0 L1275.7,286.3 L1276.6,285.6 L1277.5,284.9 L1278.4,284.2 L1279.4,283.5 L1280.3,282.9 L1281.2,282.2 L1282.2,281.6 L1283.1,281.1 L1284.0,280.6 L1285.0,280.1 L1285.9,279.7 L1286.8,279.3 L1287.7,279.0 L1288.7,278.8 L1289.6,278.7 L1290.5,278.6 L1291.5,278.6 L1292.4,278.7 L1293.3,278.8 L1294.3,279.0 L1295.2,279.2 L1296.1,279.5 L1297.0,279.8 L1298.0,280.1 L1298.9,280.4" stroke="#ff0000" stroke-width="3.1"/>
</g>
<clipPath id="cpc"><rect x="90.4" y="398.0" width="558.5" height="352.7"/></clipPath>
<g clip-path="url(#cpc)" fill="none" stroke-linejoin="round">
<path d="M90.4,675.2 L91.3,675.4 L92.3,675.5 L93.2,675.7 L94.1,675.9 L95.1,676.0 L96.0,676.2 L96.9,676.3 L97.8,676.5 L98.8,676.6 L99.7,676.7 L100.6,676.8 L101.6,676.8 L102.5,676.9 L103.4,676.9 L104.4,676.9 L105.3,676.8 L106.2,676.8 L107.2,676.7 L108.1,676.6 L109.0,676.4 L109.9,676.3 L110.9,676.1 L111.8,675.9 L112.7,675.7 L113.7,675.4 L114.6,675.2 L115.5,675.0 L116.5,674.8 L117.4,674.6 L118.3,674.4 L119.3,674.2 L120.2,674.0 L121.1,673.8 L122.0,673.5 L123.0,673.3 L123.9,673.1 L124.8,672.9 L125.8,672.6 L126.7,672.3 L127.6,672.0 L128.6,671.7 L129.5,671.3 L130.4,671.0 L131.4,670.6 L132.3,670.1 L133.2,669.6 L134.1,669.1 L135.1,668.6 L136.0,668.0 L136.9,667.3 L137.9,666.6 L138.8,665.9 L139.7,665.0 L140.7,664.2 L141.6,663.3 L142.5,662.3 L143.5,661.3 L144.4,660.3 L145.3,659.2 L146.2,658.2 L147.2,657.1 L148.1,656.1 L149.0,655.1 L150.0,654.2 L150.9,653.3 L151.8,652.5 L152.8,651.8 L153.7,651.1 L154.6,650.6 L155.6,650.2 L156.5,649.9 L157.4,649.7 L158.4,649.7 L159.3,649.9 L160.2,650.1 L161.1,650.5 L162.1,651.0 L163.0,651.6 L163.9,652.3 L164.9,653.1 L165.8,653.9 L166.7,654.8 L167.7,655.7 L168.6,656.6 L169.5,657.5 L170.5,658.5 L171.4,659.4 L172.3,660.3 L173.2,661.1 L174.2,661.9 L175.1,662.7 L176.0,663.3 L177.0,663.9 L177.9,664.3 L178.8,664.7 L179.8,664.9 L180.7,665.0 L181.6,664.9 L182.6,664.7 L183.5,664.3 L184.4,663.7 L185.3,663.0 L186.3,662.1 L187.2,661.1 L188.1,660.0 L189.1,658.7 L190.0,657.4 L190.9,656.0 L191.9,654.4 L192.8,652.8 L193.7,651.2 L194.7,649.4 L195.6,647.6 L196.5,645.8 L197.4,643.9 L198.4,642.1 L199.3,640.2 L200.2,638.3 L201.2,636.4 L202.1,634.6 L203.0,632.8 L204.0,631.1 L204.9,629.5 L205.8,628.0 L206.8,626.6 L207.7,625.3 L208.6,624.2 L209.5,623.3 L210.5,622.5 L211.4,622.0 L212.3,621.6 L213.3,621.5 L214.2,621.6 L215.1,621.9 L216.1,622.3 L217.0,622.9 L217.9,623.6 L218.9,624.4 L219.8,625.2 L220.7,626.1 L221.6,627.1 L222.6,628.0 L223.5,629.0 L224.4,629.9 L225.4,630.7 L226.3,631.5 L227.2,632.1 L228.2,632.7 L229.1,633.1 L230.0,633.3 L231.0,633.3 L231.9,633.1 L232.8,632.7 L233.7,632.2 L234.7,631.5 L235.6,630.6 L236.5,629.5 L237.5,628.3 L238.4,627.0 L239.3,625.5 L240.3,623.8 L241.2,622.1 L242.1,620.3 L243.1,618.3 L244.0,616.2 L244.9,614.1 L245.8,611.9 L246.8,609.6 L247.7,607.2 L248.6,604.8 L249.6,602.3 L250.5,599.9 L251.4,597.6 L252.4,595.3 L253.3,593.1 L254.2,591.1 L255.2,589.3 L256.1,587.8 L257.0,586.5 L258.0,585.5 L258.9,584.7 L259.8,584.2 L260.7,583.9 L261.7,583.8 L262.6,583.8 L263.5,583.9 L264.5,584.2 L265.4,584.5 L266.3,585.0 L267.3,585.5 L268.2,586.1 L269.1,586.8 L270.1,587.6 L271.0,588.4 L271.9,589.3 L272.8,590.1 L273.8,590.8 L274.7,591.3 L275.6,591.6 L276.6,591.6 L277.5,591.2 L278.4,590.5 L279.4,589.5 L280.3,588.3 L281.2,586.9 L282.2,585.3 L283.1,583.5 L284.0,581.3 L284.9,578.8 L285.9,576.0 L286.8,572.9 L287.7,569.4 L288.7,565.5 L289.6,561.5 L290.5,557.2 L291.5,552.9 L292.4,548.5 L293.3,544.2 L294.3,540.0 L295.2,535.9 L296.1,531.9 L297.0,527.9 L298.0,524.0 L298.9,520.3 L299.8,516.7 L300.8,513.3 L301.7,510.2 L302.6,507.3 L303.6,504.7 L304.5,502.4 L305.4,500.3 L306.4,498.4 L307.3,496.8 L308.2,495.5 L309.1,494.4 L310.1,493.6 L311.0,493.0 L311.9,492.6 L312.9,492.5 L313.8,492.6 L314.7,493.0 L315.7,493.6 L316.6,494.4 L317.5,495.4 L318.5,496.6 L319.4,498.0 L320.3,499.5 L321.2,501.1 L322.2,502.9 L323.1,504.7 L324.0,506.7 L325.0,508.7 L325.9,510.8 L326.8,512.9 L327.8,515.0 L328.7,517.2 L329.6,519.3 L330.6,521.3 L331.5,523.3 L332.4,525.2 L333.3,526.9 L334.3,528.6 L335.2,530.1 L336.1,531.5 L337.1,532.7 L338.0,533.8 L338.9,534.7 L339.9,535.4 L340.8,535.9 L341.7,536.2 L342.7,536.2 L343.6,536.0 L344.5,535.6 L345.4,535.0 L346.4,534.3 L347.3,533.4 L348.2,532.3 L349.2,531.1 L350.1,529.7 L351.0,528.3 L352.0,526.8 L352.9,525.2 L353.8,523.6 L354.8,521.9 L355.7,520.2 L356.6,518.6 L357.5,516.9 L358.5,515.2 L359.4,513.6 L360.3,512.0 L361.3,510.5 L362.2,509.1 L363.1,507.9 L364.1,506.7 L365.0,505.7 L365.9,504.8 L366.9,504.1 L367.8,503.5 L368.7,503.2 L369.6,503.1 L370.6,503.2 L371.5,503.5 L372.4,504.1 L373.4,504.8 L374.3,505.7 L375.2,506.7 L376.2,507.9 L377.1,509.1 L378.0,510.5 L379.0,512.0 L379.9,513.6 L380.8,515.2 L381.8,516.9 L382.7,518.6 L383.6,520.2 L384.5,521.9 L385.5,523.6 L386.4,525.2 L387.3,526.8 L388.3,528.3 L389.2,529.7 L390.1,531.1 L391.1,532.3 L392.0,533.4 L392.9,534.3 L393.9,535.0 L394.8,535.6 L395.7,536.0 L396.6,536.2 L397.6,536.2 L398.5,535.9 L399.4,535.4 L400.4,534.7 L401.3,533.8 L402.2,532.7 L403.2,531.5 L404.1,530.1 L405.0,528.6 L406.0,526.9 L406.9,525.2 L407.8,523.3 L408.7,521.3 L409.7,519.3 L410.6,517.2 L411.5,515.0 L412.5,512.9 L413.4,510.8 L414.3,508.7 L415.3,506.7 L416.2,504.7 L417.1,502.9 L418.1,501.1 L419.0,499.5 L419.9,498.0 L420.8,496.6 L421.8,495.4 L422.7,494.4 L423.6,493.6 L424.6,493.0 L425.5,492.6 L426.4,492.5 L427.4,492.6 L428.3,493.0 L429.2,493.6 L430.2,494.4 L431.1,495.5 L432.0,496.8 L432.9,498.4 L433.9,500.3 L434.8,502.4 L435.7,504.7 L436.7,507.3 L437.6,510.2 L438.5,513.3 L439.5,516.7 L440.4,520.3 L441.3,524.0 L442.3,527.9 L443.2,531.9 L444.1,535.9 L445.0,540.0 L446.0,544.2 L446.9,548.5 L447.8,552.9 L448.8,557.2 L449.7,561.5 L450.6,565.5 L451.6,569.4 L452.5,572.9 L453.4,576.0 L454.4,578.8 L455.3,581.3 L456.2,583.5 L457.1,585.3 L458.1,586.9 L459.0,588.3 L459.9,589.5 L460.9,590.5 L461.8,591.2 L462.7,591.6 L463.7,591.6 L464.6,591.3 L465.5,590.8 L466.5,590.1 L467.4,589.3 L468.3,588.4 L469.2,587.6 L470.2,586.8 L471.1,586.1 L472.0,585.5 L473.0,585.0 L473.9,584.5 L474.8,584.2 L475.8,583.9 L476.7,583.8 L477.6,583.8 L478.6,583.9 L479.5,584.2 L480.4,584.7 L481.4,585.5 L482.3,586.5 L483.2,587.8 L484.1,589.3 L485.1,591.1 L486.0,593.1 L486.9,595.3 L487.9,597.6 L488.8,599.9 L489.7,602.3 L490.7,604.8 L491.6,607.2 L492.5,609.6 L493.5,611.9 L494.4,614.1 L495.3,616.2 L496.2,618.3 L497.2,620.3 L498.1,622.1 L499.0,623.8 L500.0,625.5 L500.9,627.0 L501.8,628.3 L502.8,629.5 L503.7,630.6 L504.6,631.5 L505.6,632.2 L506.5,632.7 L507.4,633.1 L508.3,633.3 L509.3,633.3 L510.2,633.1 L511.1,632.7 L512.1,632.1 L513.0,631.5 L513.9,630.7 L514.9,629.9 L515.8,629.0 L516.7,628.0 L517.7,627.1 L518.6,626.1 L519.5,625.2 L520.4,624.4 L521.4,623.6 L522.3,622.9 L523.2,622.3 L524.2,621.9 L525.1,621.6 L526.0,621.5 L527.0,621.6 L527.9,622.0 L528.8,622.5 L529.8,623.3 L530.7,624.2 L531.6,625.3 L532.5,626.6 L533.5,628.0 L534.4,629.5 L535.3,631.1 L536.3,632.8 L537.2,634.6 L538.1,636.4 L539.1,638.3 L540.0,640.2 L540.9,642.1 L541.9,643.9 L542.8,645.8 L543.7,647.6 L544.6,649.4 L545.6,651.2 L546.5,652.8 L547.4,654.4 L548.4,656.0 L549.3,657.4 L550.2,658.7 L551.2,660.0 L552.1,661.1 L553.0,662.1 L554.0,663.0 L554.9,663.7 L555.8,664.3 L556.7,664.7 L557.7,664.9 L558.6,665.0 L559.5,664.9 L560.5,664.7 L561.4,664.3 L562.3,663.9 L563.3,663.3 L564.2,662.7 L565.1,661.9 L566.1,661.1 L567.0,660.3 L567.9,659.4 L568.8,658.5 L569.8,657.5 L570.7,656.6 L571.6,655.7 L572.6,654.8 L573.5,653.9 L574.4,653.1 L575.4,652.3 L576.3,651.6 L577.2,651.0 L578.2,650.5 L579.1,650.1 L580.0,649.9 L580.9,649.7 L581.9,649.7 L582.8,649.9 L583.7,650.2 L584.7,650.6 L585.6,651.1 L586.5,651.8 L587.5,652.5 L588.4,653.3 L589.3,654.2 L590.3,655.1 L591.2,656.1 L592.1,657.1 L593.1,658.2 L594.0,659.2 L594.9,660.3 L595.8,661.3 L596.8,662.3 L597.7,663.3 L598.6,664.2 L599.6,665.0 L600.5,665.9 L601.4,666.6 L602.4,667.3 L603.3,668.0 L604.2,668.6 L605.2,669.1 L606.1,669.6 L607.0,670.1 L607.9,670.6 L608.9,671.0 L609.8,671.3 L610.7,671.7 L611.7,672.0 L612.6,672.3 L613.5,672.6 L614.5,672.9 L615.4,673.1 L616.3,673.3 L617.3,673.5 L618.2,673.8 L619.1,674.0 L620.0,674.2 L621.0,674.4 L621.9,674.6 L622.8,674.8 L623.8,675.0 L624.7,675.2 L625.6,675.4 L626.6,675.7 L627.5,675.9 L628.4,676.1 L629.4,676.3 L630.3,676.4 L631.2,676.6 L632.1,676.7 L633.1,676.8 L634.0,676.8 L634.9,676.9 L635.9,676.9 L636.8,676.9 L637.7,676.8 L638.7,676.8 L639.6,676.7 L640.5,676.6 L641.5,676.5 L642.4,676.3 L643.3,676.2 L644.2,676.0 L645.2,675.9 L646.1,675.7 L647.0,675.5 L648.0,675.4 L648.9,675.2 L648.9,681.0 L648.0,681.1 L647.0,681.3 L646.1,681.5 L645.2,681.6 L644.2,681.8 L643.3,681.9 L642.4,682.0 L641.5,682.2 L640.5,682.3 L639.6,682.4 L638.7,682.4 L637.7,682.5 L636.8,682.5 L635.9,682.6 L634.9,682.5 L634.0,682.5 L633.1,682.5 L632.1,682.4 L631.2,682.3 L630.3,682.1 L629.4,682.0 L628.4,681.8 L627.5,681.6 L626.6,681.4 L625.6,681.2 L624.7,681.0 L623.8,680.8 L622.8,680.6 L621.9,680.4 L621.0,680.2 L620.0,680.0 L619.1,679.8 L618.2,679.6 L617.3,679.4 L616.3,679.2 L615.4,679.0 L614.5,678.8 L613.5,678.5 L612.6,678.3 L611.7,678.0 L610.7,677.7 L609.8,677.4 L608.9,677.0 L607.9,676.6 L607.0,676.2 L606.1,675.8 L605.2,675.3 L604.2,674.7 L603.3,674.2 L602.4,673.6 L601.4,672.9 L600.5,672.2 L599.6,671.4 L598.6,670.6 L597.7,669.8 L596.8,668.9 L595.8,667.9 L594.9,666.9 L594.0,666.0 L593.1,665.0 L592.1,664.0 L591.2,663.1 L590.3,662.1 L589.3,661.3 L588.4,660.4 L587.5,659.7 L586.5,659.0 L585.6,658.4 L584.7,657.9 L583.7,657.5 L582.8,657.2 L581.9,657.1 L580.9,657.1 L580.0,657.2 L579.1,657.4 L578.2,657.8 L577.2,658.3 L576.3,658.9 L575.4,659.5 L574.4,660.2 L573.5,661.0 L572.6,661.8 L571.6,662.6 L570.7,663.5 L569.8,664.4 L568.8,665.3 L567.9,666.1 L567.0,667.0 L566.1,667.8 L565.1,668.5 L564.2,669.2 L563.3,669.8 L562.3,670.3 L561.4,670.8 L560.5,671.1 L559.5,671.3 L558.6,671.4 L557.7,671.3 L556.7,671.1 L555.8,670.7 L554.9,670.2 L554.0,669.5 L553.0,668.7 L552.1,667.7 L551.2,666.7 L550.2,665.5 L549.3,664.3 L548.4,662.9 L547.4,661.5 L546.5,660.0 L545.6,658.4 L544.6,656.8 L543.7,655.1 L542.8,653.4 L541.9,651.6 L540.9,649.8 L540.0,648.1 L539.1,646.3 L538.1,644.5 L537.2,642.8 L536.3,641.2 L535.3,639.6 L534.4,638.1 L533.5,636.6 L532.5,635.3 L531.6,634.2 L530.7,633.1 L529.8,632.2 L528.8,631.5 L527.9,631.0 L527.0,630.7 L526.0,630.6 L525.1,630.6 L524.2,630.9 L523.2,631.3 L522.3,631.9 L521.4,632.5 L520.4,633.2 L519.5,634.1 L518.6,634.9 L517.7,635.8 L516.7,636.7 L515.8,637.6 L514.9,638.4 L513.9,639.2 L513.0,639.9 L512.1,640.5 L511.1,641.0 L510.2,641.4 L509.3,641.6 L508.3,641.6 L507.4,641.5 L506.5,641.1 L505.6,640.6 L504.6,639.9 L503.7,639.1 L502.8,638.1 L501.8,636.9 L500.9,635.7 L500.0,634.3 L499.0,632.8 L498.1,631.1 L497.2,629.4 L496.2,627.5 L495.3,625.6 L494.4,623.6 L493.5,621.5 L492.5,619.3 L491.6,617.1 L490.7,614.9 L489.7,612.6 L488.8,610.3 L487.9,608.1 L486.9,605.9 L486.0,603.9 L485.1,602.0 L484.1,600.3 L483.2,598.9 L482.3,597.7 L481.4,596.7 L480.4,596.0 L479.5,595.5 L478.6,595.3 L477.6,595.1 L476.7,595.1 L475.8,595.3 L474.8,595.5 L473.9,595.8 L473.0,596.3 L472.0,596.8 L471.1,597.3 L470.2,598.0 L469.2,598.7 L468.3,599.5 L467.4,600.3 L466.5,601.1 L465.5,601.7 L464.6,602.2 L463.7,602.5 L462.7,602.4 L461.8,602.1 L460.9,601.4 L459.9,600.5 L459.0,599.4 L458.1,598.1 L457.1,596.6 L456.2,594.8 L455.3,592.8 L454.4,590.5 L453.4,587.9 L452.5,584.9 L451.6,581.6 L450.6,578.0 L449.7,574.2 L448.8,570.2 L447.8,566.1 L446.9,562.0 L446.0,558.0 L445.0,554.1 L444.1,550.2 L443.2,546.4 L442.3,542.7 L441.3,539.0 L440.4,535.5 L439.5,532.1 L438.5,529.0 L437.6,526.0 L436.7,523.3 L435.7,520.9 L434.8,518.7 L433.9,516.7 L432.9,515.0 L432.0,513.5 L431.1,512.2 L430.2,511.2 L429.2,510.4 L428.3,509.9 L427.4,509.5 L426.4,509.4 L425.5,509.6 L424.6,509.9 L423.6,510.5 L422.7,511.2 L421.8,512.2 L420.8,513.3 L419.9,514.6 L419.0,516.0 L418.1,517.5 L417.1,519.2 L416.2,520.9 L415.3,522.7 L414.3,524.6 L413.4,526.6 L412.5,528.6 L411.5,530.6 L410.6,532.6 L409.7,534.6 L408.7,536.5 L407.8,538.3 L406.9,540.1 L406.0,541.8 L405.0,543.3 L404.1,544.8 L403.2,546.1 L402.2,547.2 L401.3,548.2 L400.4,549.1 L399.4,549.7 L398.5,550.2 L397.6,550.4 L396.6,550.5 L395.7,550.3 L394.8,549.9 L393.9,549.4 L392.9,548.7 L392.0,547.8 L391.1,546.8 L390.1,545.6 L389.2,544.4 L388.3,543.1 L387.3,541.7 L386.4,540.2 L385.5,538.6 L384.5,537.1 L383.6,535.5 L382.7,533.9 L381.8,532.3 L380.8,530.8 L379.9,529.2 L379.0,527.8 L378.0,526.4 L377.1,525.1 L376.2,523.9 L375.2,522.8 L374.3,521.8 L373.4,521.0 L372.4,520.3 L371.5,519.8 L370.6,519.5 L369.6,519.4 L368.7,519.5 L367.8,519.8 L366.9,520.3 L365.9,521.0 L365.0,521.8 L364.1,522.8 L363.1,523.9 L362.2,525.1 L361.3,526.4 L360.3,527.8 L359.4,529.2 L358.5,530.8 L357.5,532.3 L356.6,533.9 L355.7,535.5 L354.8,537.1 L353.8,538.6 L352.9,540.2 L352.0,541.7 L351.0,543.1 L350.1,544.4 L349.2,545.6 L348.2,546.8 L347.3,547.8 L346.4,548.7 L345.4,549.4 L344.5,549.9 L343.6,550.3 L342.7,550.5 L341.7,550.4 L340.8,550.2 L339.9,549.7 L338.9,549.1 L338.0,548.2 L337.1,547.2 L336.1,546.1 L335.2,544.8 L334.3,543.3 L333.3,541.8 L332.4,540.1 L331.5,538.3 L330.6,536.5 L329.6,534.6 L328.7,532.6 L327.8,530.6 L326.8,528.6 L325.9,526.6 L325.0,524.6 L324.0,522.7 L323.1,520.9 L322.2,519.2 L321.2,517.5 L320.3,516.0 L319.4,514.6 L318.5,513.3 L317.5,512.2 L316.6,511.2 L315.7,510.5 L314.7,509.9 L313.8,509.6 L312.9,509.4 L311.9,509.5 L311.0,509.9 L310.1,510.4 L309.1,511.2 L308.2,512.2 L307.3,513.5 L306.4,515.0 L305.4,516.7 L304.5,518.7 L303.6,520.9 L302.6,523.3 L301.7,526.0 L300.8,529.0 L299.8,532.1 L298.9,535.5 L298.0,539.0 L297.0,542.7 L296.1,546.4 L295.2,550.2 L294.3,554.1 L293.3,558.0 L292.4,562.0 L291.5,566.1 L290.5,570.2 L289.6,574.2 L288.7,578.0 L287.7,581.6 L286.8,584.9 L285.9,587.9 L284.9,590.5 L284.0,592.8 L283.1,594.8 L282.2,596.6 L281.2,598.1 L280.3,599.4 L279.4,600.5 L278.4,601.4 L277.5,602.1 L276.6,602.4 L275.6,602.5 L274.7,602.2 L273.8,601.7 L272.8,601.1 L271.9,600.3 L271.0,599.5 L270.1,598.7 L269.1,598.0 L268.2,597.3 L267.3,596.8 L266.3,596.3 L265.4,595.8 L264.5,595.5 L263.5,595.3 L262.6,595.1 L261.7,595.1 L260.7,595.3 L259.8,595.5 L258.9,596.0 L258.0,596.7 L257.0,597.7 L256.1,598.9 L255.2,600.3 L254.2,602.0 L253.3,603.9 L252.4,605.9 L251.4,608.1 L250.5,610.3 L249.6,612.6 L248.6,614.9 L247.7,617.1 L246.8,619.3 L245.8,621.5 L244.9,623.6 L244.0,625.6 L243.1,627.5 L242.1,629.4 L241.2,631.1 L240.3,632.8 L239.3,634.3 L238.4,635.7 L237.5,636.9 L236.5,638.1 L235.6,639.1 L234.7,639.9 L233.7,640.6 L232.8,641.1 L231.9,641.5 L231.0,641.6 L230.0,641.6 L229.1,641.4 L228.2,641.0 L227.2,640.5 L226.3,639.9 L225.4,639.2 L224.4,638.4 L223.5,637.6 L222.6,636.7 L221.6,635.8 L220.7,634.9 L219.8,634.1 L218.9,633.2 L217.9,632.5 L217.0,631.9 L216.1,631.3 L215.1,630.9 L214.2,630.6 L213.3,630.6 L212.3,630.7 L211.4,631.0 L210.5,631.5 L209.5,632.2 L208.6,633.1 L207.7,634.2 L206.8,635.3 L205.8,636.6 L204.9,638.1 L204.0,639.6 L203.0,641.2 L202.1,642.8 L201.2,644.5 L200.2,646.3 L199.3,648.1 L198.4,649.8 L197.4,651.6 L196.5,653.4 L195.6,655.1 L194.7,656.8 L193.7,658.4 L192.8,660.0 L191.9,661.5 L190.9,662.9 L190.0,664.3 L189.1,665.5 L188.1,666.7 L187.2,667.7 L186.3,668.7 L185.3,669.5 L184.4,670.2 L183.5,670.7 L182.6,671.1 L181.6,671.3 L180.7,671.4 L179.8,671.3 L178.8,671.1 L177.9,670.8 L177.0,670.3 L176.0,669.8 L175.1,669.2 L174.2,668.5 L173.2,667.8 L172.3,667.0 L171.4,666.1 L170.5,665.3 L169.5,664.4 L168.6,663.5 L167.7,662.6 L166.7,661.8 L165.8,661.0 L164.9,660.2 L163.9,659.5 L163.0,658.9 L162.1,658.3 L161.1,657.8 L160.2,657.4 L159.3,657.2 L158.4,657.1 L157.4,657.1 L156.5,657.2 L155.6,657.5 L154.6,657.9 L153.7,658.4 L152.8,659.0 L151.8,659.7 L150.9,660.4 L150.0,661.3 L149.0,662.1 L148.1,663.1 L147.2,664.0 L146.2,665.0 L145.3,666.0 L144.4,666.9 L143.5,667.9 L142.5,668.9 L141.6,669.8 L140.7,670.6 L139.7,671.4 L138.8,672.2 L137.9,672.9 L136.9,673.6 L136.0,674.2 L135.1,674.7 L134.1,675.3 L133.2,675.8 L132.3,676.2 L131.4,676.6 L130.4,677.0 L129.5,677.4 L128.6,677.7 L127.6,678.0 L126.7,678.3 L125.8,678.5 L124.8,678.8 L123.9,679.0 L123.0,679.2 L122.0,679.4 L121.1,679.6 L120.2,679.8 L119.3,680.0 L118.3,680.2 L117.4,680.4 L116.5,680.6 L115.5,680.8 L114.6,681.0 L113.7,681.2 L112.7,681.4 L111.8,681.6 L110.9,681.8 L109.9,682.0 L109.0,682.1 L108.1,682.3 L107.2,682.4 L106.2,682.5 L105.3,682.5 L104.4,682.5 L103.4,682.6 L102.5,682.5 L101.6,682.5 L100.6,682.4 L99.7,682.4 L98.8,682.3 L97.8,682.2 L96.9,682.0 L96.0,681.9 L95.1,681.8 L94.1,681.6 L93.2,681.5 L92.3,681.3 L91.3,681.1 L90.4,681.0Z" fill="#bdbdbd" stroke="none"/>
<path d="M90.4,669.7 L91.3,669.7 L92.3,669.8 L93.2,669.8 L94.1,669.8 L95.1,669.8 L96.0,669.8 L96.9,669.8 L97.8,669.8 L98.8,669.8 L99.7,669.8 L100.6,669.8 L101.6,669.7 L102.5,669.7 L103.4,669.7 L104.4,669.6 L105.3,669.6 L106.2,669.7 L107.2,669.7 L108.1,669.8 L109.0,669.9 L109.9,670.0 L110.9,670.2 L111.8,670.4 L112.7,670.6 L113.7,670.9 L114.6,671.2 L115.5,671.4 L116.5,671.7 L117.4,672.0 L118.3,672.3 L119.3,672.5 L120.2,672.7 L121.1,672.9 L122.0,673.0 L123.0,673.1 L123.9,673.1 L124.8,673.1 L125.8,673.0 L126.7,672.8 L127.6,672.6 L128.6,672.3 L129.5,671.9 L130.4,671.5 L131.4,671.0 L132.3,670.5 L133.2,669.9 L134.1,669.3 L135.1,668.6 L136.0,667.8 L136.9,667.0 L137.9,666.2 L138.8,665.3 L139.7,664.3 L140.7,663.3 L141.6,662.3 L142.5,661.3 L143.5,660.2 L144.4,659.1 L145.3,658.0 L146.2,656.9 L147.2,655.8 L148.1,654.7 L149.0,653.7 L150.0,652.7 L150.9,651.8 L151.8,651.0 L152.8,650.2 L153.7,649.5 L154.6,648.9 L155.6,648.3 L156.5,647.9 L157.4,647.7 L158.4,647.5 L159.3,647.5 L160.2,647.6 L161.1,647.9 L162.1,648.3 L163.0,648.8 L163.9,649.4 L164.9,650.1 L165.8,650.9 L166.7,651.7 L167.7,652.6 L168.6,653.5 L169.5,654.5 L170.5,655.4 L171.4,656.4 L172.3,657.3 L173.2,658.2 L174.2,659.1 L175.1,659.9 L176.0,660.6 L177.0,661.3 L177.9,661.9 L178.8,662.4 L179.8,662.8 L180.7,663.0 L181.6,663.1 L182.6,663.1 L183.5,662.9 L184.4,662.5 L185.3,662.0 L186.3,661.4 L187.2,660.6 L188.1,659.7 L189.1,658.7 L190.0,657.6 L190.9,656.5 L191.9,655.2 L192.8,653.8 L193.7,652.4 L194.7,650.9 L195.6,649.3 L196.5,647.7 L197.4,646.0 L198.4,644.3 L199.3,642.6 L200.2,640.9 L201.2,639.3 L202.1,637.6 L203.0,636.1 L204.0,634.6 L204.9,633.2 L205.8,631.9 L206.8,630.7 L207.7,629.7 L208.6,628.8 L209.5,628.1 L210.5,627.6 L211.4,627.4 L212.3,627.3 L213.3,627.5 L214.2,627.8 L215.1,628.4 L216.1,629.1 L217.0,629.9 L217.9,630.8 L218.9,631.8 L219.8,632.9 L220.7,634.0 L221.6,635.1 L222.6,636.1 L223.5,637.1 L224.4,638.1 L225.4,639.0 L226.3,639.7 L227.2,640.3 L228.2,640.8 L229.1,641.0 L230.0,641.0 L231.0,640.8 L231.9,640.3 L232.8,639.6 L233.7,638.7 L234.7,637.5 L235.6,636.2 L236.5,634.7 L237.5,633.0 L238.4,631.2 L239.3,629.3 L240.3,627.3 L241.2,625.2 L242.1,623.0 L243.1,620.9 L244.0,618.7 L244.9,616.5 L245.8,614.3 L246.8,612.1 L247.7,610.0 L248.6,608.0 L249.6,606.0 L250.5,604.0 L251.4,602.2 L252.4,600.5 L253.3,598.9 L254.2,597.4 L255.2,596.0 L256.1,594.8 L257.0,593.7 L258.0,592.8 L258.9,592.1 L259.8,591.6 L260.7,591.3 L261.7,591.2 L262.6,591.2 L263.5,591.5 L264.5,591.9 L265.4,592.3 L266.3,592.9 L267.3,593.5 L268.2,594.2 L269.1,594.9 L270.1,595.5 L271.0,596.1 L271.9,596.7 L272.8,597.2 L273.8,597.5 L274.7,597.7 L275.6,597.8 L276.6,597.6 L277.5,597.2 L278.4,596.6 L279.4,595.7 L280.3,594.5 L281.2,593.0 L282.2,591.1 L283.1,588.8 L284.0,586.0 L284.9,582.8 L285.9,579.2 L286.8,575.1 L287.7,570.7 L288.7,566.0 L289.6,561.2 L290.5,556.3 L291.5,551.4 L292.4,546.7 L293.3,542.0 L294.3,537.6 L295.2,533.3 L296.1,529.2 L297.0,525.4 L298.0,521.7 L298.9,518.3 L299.8,515.1 L300.8,512.1 L301.7,509.3 L302.6,506.8 L303.6,504.5 L304.5,502.5 L305.4,500.7 L306.4,499.2 L307.3,498.0 L308.2,497.0 L309.1,496.4 L310.1,496.0 L311.0,495.9 L311.9,496.1 L312.9,496.7 L313.8,497.5 L314.7,498.6 L315.7,499.9 L316.6,501.5 L317.5,503.4 L318.5,505.4 L319.4,507.6 L320.3,509.9 L321.2,512.4 L322.2,515.0 L323.1,517.7 L324.0,520.4 L325.0,523.2 L325.9,526.1 L326.8,528.9 L327.8,531.8 L328.7,534.6 L329.6,537.4 L330.6,540.1 L331.5,542.7 L332.4,545.2 L333.3,547.6 L334.3,549.8 L335.2,551.8 L336.1,553.7 L337.1,555.4 L338.0,556.8 L338.9,557.9 L339.9,558.8 L340.8,559.4 L341.7,559.7 L342.7,559.6 L343.6,559.2 L344.5,558.5 L345.4,557.6 L346.4,556.3 L347.3,554.8 L348.2,553.1 L349.2,551.2 L350.1,549.2 L351.0,546.9 L352.0,544.6 L352.9,542.2 L353.8,539.7 L354.8,537.1 L355.7,534.5 L356.6,532.0 L357.5,529.4 L358.5,526.9 L359.4,524.4 L360.3,522.0 L361.3,519.8 L362.2,517.7 L363.1,515.7 L364.1,513.9 L365.0,512.4 L365.9,511.0 L366.9,510.0 L367.8,509.2 L368.7,508.7 L369.6,508.5 L370.6,508.7 L371.5,509.2 L372.4,510.0 L373.4,511.0 L374.3,512.4 L375.2,513.9 L376.2,515.7 L377.1,517.7 L378.0,519.8 L379.0,522.0 L379.9,524.4 L380.8,526.9 L381.8,529.4 L382.7,532.0 L383.6,534.5 L384.5,537.1 L385.5,539.7 L386.4,542.2 L387.3,544.6 L388.3,546.9 L389.2,549.2 L390.1,551.2 L391.1,553.1 L392.0,554.8 L392.9,556.3 L393.9,557.6 L394.8,558.5 L395.7,559.2 L396.6,559.6 L397.6,559.7 L398.5,559.4 L399.4,558.8 L400.4,557.9 L401.3,556.8 L402.2,555.4 L403.2,553.7 L404.1,551.8 L405.0,549.8 L406.0,547.6 L406.9,545.2 L407.8,542.7 L408.7,540.1 L409.7,537.4 L410.6,534.6 L411.5,531.8 L412.5,528.9 L413.4,526.1 L414.3,523.2 L415.3,520.4 L416.2,517.7 L417.1,515.0 L418.1,512.4 L419.0,509.9 L419.9,507.6 L420.8,505.4 L421.8,503.4 L422.7,501.5 L423.6,499.9 L424.6,498.6 L425.5,497.5 L426.4,496.7 L427.4,496.1 L428.3,495.9 L429.2,496.0 L430.2,496.4 L431.1,497.0 L432.0,498.0 L432.9,499.2 L433.9,500.7 L434.8,502.5 L435.7,504.5 L436.7,506.8 L437.6,509.3 L438.5,512.1 L439.5,515.1 L440.4,518.3 L441.3,521.7 L442.3,525.4 L443.2,529.2 L444.1,533.3 L445.0,537.6 L446.0,542.0 L446.9,546.7 L447.8,551.4 L448.8,556.3 L449.7,561.2 L450.6,566.0 L451.6,570.7 L452.5,575.1 L453.4,579.2 L454.4,582.8 L455.3,586.0 L456.2,588.8 L457.1,591.1 L458.1,593.0 L459.0,594.5 L459.9,595.7 L460.9,596.6 L461.8,597.2 L462.7,597.6 L463.7,597.8 L464.6,597.7 L465.5,597.5 L466.5,597.2 L467.4,596.7 L468.3,596.1 L469.2,595.5 L470.2,594.9 L471.1,594.2 L472.0,593.5 L473.0,592.9 L473.9,592.3 L474.8,591.9 L475.8,591.5 L476.7,591.2 L477.6,591.2 L478.6,591.3 L479.5,591.6 L480.4,592.1 L481.4,592.8 L482.3,593.7 L483.2,594.8 L484.1,596.0 L485.1,597.4 L486.0,598.9 L486.9,600.5 L487.9,602.2 L488.8,604.0 L489.7,606.0 L490.7,608.0 L491.6,610.0 L492.5,612.1 L493.5,614.3 L494.4,616.5 L495.3,618.7 L496.2,620.9 L497.2,623.0 L498.1,625.2 L499.0,627.3 L500.0,629.3 L500.9,631.2 L501.8,633.0 L502.8,634.7 L503.7,636.2 L504.6,637.5 L505.6,638.7 L506.5,639.6 L507.4,640.3 L508.3,640.8 L509.3,641.0 L510.2,641.0 L511.1,640.8 L512.1,640.3 L513.0,639.7 L513.9,639.0 L514.9,638.1 L515.8,637.1 L516.7,636.1 L517.7,635.1 L518.6,634.0 L519.5,632.9 L520.4,631.8 L521.4,630.8 L522.3,629.9 L523.2,629.1 L524.2,628.4 L525.1,627.8 L526.0,627.5 L527.0,627.3 L527.9,627.4 L528.8,627.6 L529.8,628.1 L530.7,628.8 L531.6,629.7 L532.5,630.7 L533.5,631.9 L534.4,633.2 L535.3,634.6 L536.3,636.1 L537.2,637.6 L538.1,639.3 L539.1,640.9 L540.0,642.6 L540.9,644.3 L541.9,646.0 L542.8,647.7 L543.7,649.3 L544.6,650.9 L545.6,652.4 L546.5,653.8 L547.4,655.2 L548.4,656.5 L549.3,657.6 L550.2,658.7 L551.2,659.7 L552.1,660.6 L553.0,661.4 L554.0,662.0 L554.9,662.5 L555.8,662.9 L556.7,663.1 L557.7,663.1 L558.6,663.0 L559.5,662.8 L560.5,662.4 L561.4,661.9 L562.3,661.3 L563.3,660.6 L564.2,659.9 L565.1,659.1 L566.1,658.2 L567.0,657.3 L567.9,656.4 L568.8,655.4 L569.8,654.5 L570.7,653.5 L571.6,652.6 L572.6,651.7 L573.5,650.9 L574.4,650.1 L575.4,649.4 L576.3,648.8 L577.2,648.3 L578.2,647.9 L579.1,647.6 L580.0,647.5 L580.9,647.5 L581.9,647.7 L582.8,647.9 L583.7,648.3 L584.7,648.9 L585.6,649.5 L586.5,650.2 L587.5,651.0 L588.4,651.8 L589.3,652.7 L590.3,653.7 L591.2,654.7 L592.1,655.8 L593.1,656.9 L594.0,658.0 L594.9,659.1 L595.8,660.2 L596.8,661.3 L597.7,662.3 L598.6,663.3 L599.6,664.3 L600.5,665.3 L601.4,666.2 L602.4,667.0 L603.3,667.8 L604.2,668.6 L605.2,669.3 L606.1,669.9 L607.0,670.5 L607.9,671.0 L608.9,671.5 L609.8,671.9 L610.7,672.3 L611.7,672.6 L612.6,672.8 L613.5,673.0 L614.5,673.1 L615.4,673.1 L616.3,673.1 L617.3,673.0 L618.2,672.9 L619.1,672.7 L620.0,672.5 L621.0,672.3 L621.9,672.0 L622.8,671.7 L623.8,671.4 L624.7,671.2 L625.6,670.9 L626.6,670.6 L627.5,670.4 L628.4,670.2 L629.4,670.0 L630.3,669.9 L631.2,669.8 L632.1,669.7 L633.1,669.7 L634.0,669.6 L634.9,669.6 L635.9,669.7 L636.8,669.7 L637.7,669.7 L638.7,669.8 L639.6,669.8 L640.5,669.8 L641.5,669.8 L642.4,669.8 L643.3,669.8 L644.2,669.8 L645.2,669.8 L646.1,669.8 L647.0,669.8 L648.0,669.7 L648.9,669.7" stroke="#0000ff" stroke-width="2.7"/>
<path d="M90.4,678.1 L91.3,678.3 L92.3,678.4 L93.2,678.6 L94.1,678.8 L95.1,678.9 L96.0,679.1 L96.9,679.2 L97.8,679.3 L98.8,679.4 L99.7,679.5 L100.6,679.6 L101.6,679.7 L102.5,679.7 L103.4,679.7 L104.4,679.7 L105.3,679.7 L106.2,679.6 L107.2,679.5 L108.1,679.4 L109.0,679.3 L109.9,679.1 L110.9,678.9 L111.8,678.7 L112.7,678.5 L113.7,678.3 L114.6,678.1 L115.5,677.9 L116.5,677.7 L117.4,677.5 L118.3,677.3 L119.3,677.1 L120.2,676.9 L121.1,676.7 L122.0,676.5 L123.0,676.3 L123.9,676.0 L124.8,675.8 L125.8,675.6 L126.7,675.3 L127.6,675.0 L128.6,674.7 L129.5,674.4 L130.4,674.0 L131.4,673.6 L132.3,673.2 L133.2,672.7 L134.1,672.2 L135.1,671.7 L136.0,671.1 L136.9,670.4 L137.9,669.8 L138.8,669.0 L139.7,668.2 L140.7,667.4 L141.6,666.5 L142.5,665.6 L143.5,664.6 L144.4,663.6 L145.3,662.6 L146.2,661.6 L147.2,660.6 L148.1,659.6 L149.0,658.6 L150.0,657.7 L150.9,656.9 L151.8,656.1 L152.8,655.4 L153.7,654.8 L154.6,654.2 L155.6,653.8 L156.5,653.5 L157.4,653.4 L158.4,653.4 L159.3,653.5 L160.2,653.8 L161.1,654.2 L162.1,654.7 L163.0,655.2 L163.9,655.9 L164.9,656.7 L165.8,657.4 L166.7,658.3 L167.7,659.2 L168.6,660.1 L169.5,661.0 L170.5,661.9 L171.4,662.8 L172.3,663.6 L173.2,664.4 L174.2,665.2 L175.1,665.9 L176.0,666.6 L177.0,667.1 L177.9,667.6 L178.8,667.9 L179.8,668.1 L180.7,668.2 L181.6,668.1 L182.6,667.9 L183.5,667.5 L184.4,666.9 L185.3,666.2 L186.3,665.4 L187.2,664.4 L188.1,663.3 L189.1,662.1 L190.0,660.8 L190.9,659.4 L191.9,658.0 L192.8,656.4 L193.7,654.8 L194.7,653.1 L195.6,651.4 L196.5,649.6 L197.4,647.8 L198.4,646.0 L199.3,644.1 L200.2,642.3 L201.2,640.5 L202.1,638.7 L203.0,637.0 L204.0,635.3 L204.9,633.8 L205.8,632.3 L206.8,631.0 L207.7,629.7 L208.6,628.7 L209.5,627.8 L210.5,627.0 L211.4,626.5 L212.3,626.2 L213.3,626.0 L214.2,626.1 L215.1,626.4 L216.1,626.8 L217.0,627.4 L217.9,628.0 L218.9,628.8 L219.8,629.6 L220.7,630.5 L221.6,631.4 L222.6,632.4 L223.5,633.3 L224.4,634.1 L225.4,635.0 L226.3,635.7 L227.2,636.3 L228.2,636.9 L229.1,637.2 L230.0,637.4 L231.0,637.5 L231.9,637.3 L232.8,636.9 L233.7,636.4 L234.7,635.7 L235.6,634.8 L236.5,633.8 L237.5,632.6 L238.4,631.3 L239.3,629.9 L240.3,628.3 L241.2,626.6 L242.1,624.8 L243.1,622.9 L244.0,620.9 L244.9,618.8 L245.8,616.7 L246.8,614.5 L247.7,612.2 L248.6,609.8 L249.6,607.5 L250.5,605.1 L251.4,602.8 L252.4,600.6 L253.3,598.5 L254.2,596.6 L255.2,594.8 L256.1,593.3 L257.0,592.1 L258.0,591.1 L258.9,590.4 L259.8,589.9 L260.7,589.6 L261.7,589.4 L262.6,589.5 L263.5,589.6 L264.5,589.8 L265.4,590.2 L266.3,590.6 L267.3,591.1 L268.2,591.7 L269.1,592.4 L270.1,593.2 L271.0,594.0 L271.9,594.8 L272.8,595.6 L273.8,596.3 L274.7,596.8 L275.6,597.0 L276.6,597.0 L277.5,596.6 L278.4,595.9 L279.4,595.0 L280.3,593.9 L281.2,592.5 L282.2,591.0 L283.1,589.2 L284.0,587.1 L284.9,584.7 L285.9,582.0 L286.8,578.9 L287.7,575.5 L288.7,571.8 L289.6,567.8 L290.5,563.7 L291.5,559.5 L292.4,555.3 L293.3,551.1 L294.3,547.1 L295.2,543.1 L296.1,539.2 L297.0,535.3 L298.0,531.5 L298.9,527.9 L299.8,524.4 L300.8,521.1 L301.7,518.1 L302.6,515.3 L303.6,512.8 L304.5,510.5 L305.4,508.5 L306.4,506.7 L307.3,505.2 L308.2,503.9 L309.1,502.8 L310.1,502.0 L311.0,501.4 L311.9,501.1 L312.9,501.0 L313.8,501.1 L314.7,501.5 L315.7,502.0 L316.6,502.8 L317.5,503.8 L318.5,505.0 L319.4,506.3 L320.3,507.7 L321.2,509.3 L322.2,511.0 L323.1,512.8 L324.0,514.7 L325.0,516.7 L325.9,518.7 L326.8,520.8 L327.8,522.8 L328.7,524.9 L329.6,526.9 L330.6,528.9 L331.5,530.8 L332.4,532.6 L333.3,534.4 L334.3,536.0 L335.2,537.4 L336.1,538.8 L337.1,540.0 L338.0,541.0 L338.9,541.9 L339.9,542.5 L340.8,543.0 L341.7,543.3 L342.7,543.3 L343.6,543.2 L344.5,542.8 L345.4,542.2 L346.4,541.5 L347.3,540.6 L348.2,539.5 L349.2,538.4 L350.1,537.1 L351.0,535.7 L352.0,534.2 L352.9,532.7 L353.8,531.1 L354.8,529.5 L355.7,527.9 L356.6,526.2 L357.5,524.6 L358.5,523.0 L359.4,521.4 L360.3,519.9 L361.3,518.5 L362.2,517.1 L363.1,515.9 L364.1,514.7 L365.0,513.7 L365.9,512.9 L366.9,512.2 L367.8,511.7 L368.7,511.3 L369.6,511.2 L370.6,511.3 L371.5,511.7 L372.4,512.2 L373.4,512.9 L374.3,513.7 L375.2,514.7 L376.2,515.9 L377.1,517.1 L378.0,518.5 L379.0,519.9 L379.9,521.4 L380.8,523.0 L381.8,524.6 L382.7,526.2 L383.6,527.9 L384.5,529.5 L385.5,531.1 L386.4,532.7 L387.3,534.2 L388.3,535.7 L389.2,537.1 L390.1,538.4 L391.1,539.5 L392.0,540.6 L392.9,541.5 L393.9,542.2 L394.8,542.8 L395.7,543.2 L396.6,543.3 L397.6,543.3 L398.5,543.0 L399.4,542.5 L400.4,541.9 L401.3,541.0 L402.2,540.0 L403.2,538.8 L404.1,537.4 L405.0,536.0 L406.0,534.4 L406.9,532.6 L407.8,530.8 L408.7,528.9 L409.7,526.9 L410.6,524.9 L411.5,522.8 L412.5,520.8 L413.4,518.7 L414.3,516.7 L415.3,514.7 L416.2,512.8 L417.1,511.0 L418.1,509.3 L419.0,507.7 L419.9,506.3 L420.8,505.0 L421.8,503.8 L422.7,502.8 L423.6,502.0 L424.6,501.5 L425.5,501.1 L426.4,501.0 L427.4,501.1 L428.3,501.4 L429.2,502.0 L430.2,502.8 L431.1,503.9 L432.0,505.2 L432.9,506.7 L433.9,508.5 L434.8,510.5 L435.7,512.8 L436.7,515.3 L437.6,518.1 L438.5,521.1 L439.5,524.4 L440.4,527.9 L441.3,531.5 L442.3,535.3 L443.2,539.2 L444.1,543.1 L445.0,547.1 L446.0,551.1 L446.9,555.3 L447.8,559.5 L448.8,563.7 L449.7,567.8 L450.6,571.8 L451.6,575.5 L452.5,578.9 L453.4,582.0 L454.4,584.7 L455.3,587.1 L456.2,589.2 L457.1,591.0 L458.1,592.5 L459.0,593.9 L459.9,595.0 L460.9,595.9 L461.8,596.6 L462.7,597.0 L463.7,597.0 L464.6,596.8 L465.5,596.3 L466.5,595.6 L467.4,594.8 L468.3,594.0 L469.2,593.2 L470.2,592.4 L471.1,591.7 L472.0,591.1 L473.0,590.6 L473.9,590.2 L474.8,589.8 L475.8,589.6 L476.7,589.5 L477.6,589.4 L478.6,589.6 L479.5,589.9 L480.4,590.4 L481.4,591.1 L482.3,592.1 L483.2,593.3 L484.1,594.8 L485.1,596.6 L486.0,598.5 L486.9,600.6 L487.9,602.8 L488.8,605.1 L489.7,607.5 L490.7,609.8 L491.6,612.2 L492.5,614.5 L493.5,616.7 L494.4,618.8 L495.3,620.9 L496.2,622.9 L497.2,624.8 L498.1,626.6 L499.0,628.3 L500.0,629.9 L500.9,631.3 L501.8,632.6 L502.8,633.8 L503.7,634.8 L504.6,635.7 L505.6,636.4 L506.5,636.9 L507.4,637.3 L508.3,637.5 L509.3,637.4 L510.2,637.2 L511.1,636.9 L512.1,636.3 L513.0,635.7 L513.9,635.0 L514.9,634.1 L515.8,633.3 L516.7,632.4 L517.7,631.4 L518.6,630.5 L519.5,629.6 L520.4,628.8 L521.4,628.0 L522.3,627.4 L523.2,626.8 L524.2,626.4 L525.1,626.1 L526.0,626.0 L527.0,626.2 L527.9,626.5 L528.8,627.0 L529.8,627.8 L530.7,628.7 L531.6,629.7 L532.5,631.0 L533.5,632.3 L534.4,633.8 L535.3,635.3 L536.3,637.0 L537.2,638.7 L538.1,640.5 L539.1,642.3 L540.0,644.1 L540.9,646.0 L541.9,647.8 L542.8,649.6 L543.7,651.4 L544.6,653.1 L545.6,654.8 L546.5,656.4 L547.4,658.0 L548.4,659.4 L549.3,660.8 L550.2,662.1 L551.2,663.3 L552.1,664.4 L553.0,665.4 L554.0,666.2 L554.9,666.9 L555.8,667.5 L556.7,667.9 L557.7,668.1 L558.6,668.2 L559.5,668.1 L560.5,667.9 L561.4,667.6 L562.3,667.1 L563.3,666.6 L564.2,665.9 L565.1,665.2 L566.1,664.4 L567.0,663.6 L567.9,662.8 L568.8,661.9 L569.8,661.0 L570.7,660.1 L571.6,659.2 L572.6,658.3 L573.5,657.4 L574.4,656.7 L575.4,655.9 L576.3,655.2 L577.2,654.7 L578.2,654.2 L579.1,653.8 L580.0,653.5 L580.9,653.4 L581.9,653.4 L582.8,653.5 L583.7,653.8 L584.7,654.2 L585.6,654.8 L586.5,655.4 L587.5,656.1 L588.4,656.9 L589.3,657.7 L590.3,658.6 L591.2,659.6 L592.1,660.6 L593.1,661.6 L594.0,662.6 L594.9,663.6 L595.8,664.6 L596.8,665.6 L597.7,666.5 L598.6,667.4 L599.6,668.2 L600.5,669.0 L601.4,669.8 L602.4,670.4 L603.3,671.1 L604.2,671.7 L605.2,672.2 L606.1,672.7 L607.0,673.2 L607.9,673.6 L608.9,674.0 L609.8,674.4 L610.7,674.7 L611.7,675.0 L612.6,675.3 L613.5,675.6 L614.5,675.8 L615.4,676.0 L616.3,676.3 L617.3,676.5 L618.2,676.7 L619.1,676.9 L620.0,677.1 L621.0,677.3 L621.9,677.5 L622.8,677.7 L623.8,677.9 L624.7,678.1 L625.6,678.3 L626.6,678.5 L627.5,678.7 L628.4,678.9 L629.4,679.1 L630.3,679.3 L631.2,679.4 L632.1,679.5 L633.1,679.6 L634.0,679.7 L634.9,679.7 L635.9,679.7 L636.8,679.7 L637.7,679.7 L638.7,679.6 L639.6,679.5 L640.5,679.4 L641.5,679.3 L642.4,679.2 L643.3,679.1 L644.2,678.9 L645.2,678.8 L646.1,678.6 L647.0,678.4 L648.0,678.3 L648.9,678.1" stroke="#ff0000" stroke-width="3.1"/>
</g>
<clipPath id="cpd"><rect x="741.0" y="398.0" width="557.9" height="352.7"/></clipPath>
<g clip-path="url(#cpd)" fill="none" stroke-linejoin="round">
<path d="M741.0,628.7 L741.9,628.4 L742.9,628.1 L743.8,627.8 L744.7,627.5 L745.6,627.3 L746.6,627.1 L747.5,626.9 L748.4,626.9 L749.4,626.9 L750.3,626.9 L751.2,627.1 L752.2,627.3 L753.1,627.6 L754.0,628.0 L754.9,628.4 L755.9,628.9 L756.8,629.4 L757.7,630.0 L758.7,630.6 L759.6,631.2 L760.5,631.9 L761.5,632.6 L762.4,633.3 L763.3,634.1 L764.2,634.8 L765.2,635.5 L766.1,636.3 L767.0,637.0 L768.0,637.7 L768.9,638.4 L769.8,639.1 L770.8,639.8 L771.7,640.4 L772.6,641.0 L773.5,641.5 L774.5,642.0 L775.4,642.5 L776.3,642.9 L777.3,643.2 L778.2,643.5 L779.1,643.7 L780.1,643.8 L781.0,643.8 L781.9,643.8 L782.8,643.7 L783.8,643.5 L784.7,643.2 L785.6,642.9 L786.6,642.5 L787.5,642.1 L788.4,641.6 L789.4,641.1 L790.3,640.5 L791.2,639.9 L792.1,639.2 L793.1,638.5 L794.0,637.7 L794.9,636.9 L795.9,636.1 L796.8,635.3 L797.7,634.4 L798.6,633.5 L799.6,632.6 L800.5,631.7 L801.4,630.8 L802.4,629.9 L803.3,629.0 L804.2,628.1 L805.2,627.2 L806.1,626.4 L807.0,625.6 L807.9,624.9 L808.9,624.3 L809.8,623.7 L810.7,623.2 L811.7,622.7 L812.6,622.4 L813.5,622.2 L814.5,622.0 L815.4,622.0 L816.3,622.1 L817.2,622.2 L818.2,622.5 L819.1,622.8 L820.0,623.2 L821.0,623.7 L821.9,624.2 L822.8,624.8 L823.8,625.4 L824.7,626.0 L825.6,626.6 L826.5,627.3 L827.5,627.9 L828.4,628.5 L829.3,629.1 L830.3,629.7 L831.2,630.3 L832.1,630.8 L833.1,631.2 L834.0,631.6 L834.9,631.9 L835.8,632.2 L836.8,632.3 L837.7,632.4 L838.6,632.3 L839.6,632.2 L840.5,632.0 L841.4,631.7 L842.4,631.3 L843.3,630.8 L844.2,630.2 L845.1,629.5 L846.1,628.7 L847.0,627.7 L847.9,626.7 L848.9,625.6 L849.8,624.4 L850.7,623.1 L851.7,621.6 L852.6,620.1 L853.5,618.4 L854.4,616.7 L855.4,614.9 L856.3,613.1 L857.2,611.2 L858.2,609.3 L859.1,607.5 L860.0,605.6 L860.9,603.8 L861.9,602.1 L862.8,600.4 L863.7,598.8 L864.7,597.2 L865.6,595.8 L866.5,594.4 L867.5,593.2 L868.4,592.0 L869.3,590.9 L870.2,590.0 L871.2,589.1 L872.1,588.3 L873.0,587.7 L874.0,587.2 L874.9,586.8 L875.8,586.5 L876.8,586.4 L877.7,586.4 L878.6,586.5 L879.5,586.7 L880.5,587.0 L881.4,587.4 L882.3,587.7 L883.3,588.1 L884.2,588.4 L885.1,588.6 L886.1,588.7 L887.0,588.8 L887.9,588.6 L888.8,588.3 L889.8,587.7 L890.7,587.0 L891.6,586.0 L892.6,584.9 L893.5,583.6 L894.4,582.1 L895.4,580.4 L896.3,578.6 L897.2,576.5 L898.1,574.3 L899.1,572.0 L900.0,569.5 L900.9,566.7 L901.9,563.6 L902.8,559.9 L903.7,555.6 L904.7,550.7 L905.6,545.6 L906.5,540.4 L907.4,535.1 L908.4,529.7 L909.3,524.5 L910.2,519.2 L911.2,514.0 L912.1,509.0 L913.0,504.1 L913.9,499.4 L914.9,494.9 L915.8,490.7 L916.7,486.6 L917.7,482.7 L918.6,479.1 L919.5,475.6 L920.5,472.5 L921.4,469.8 L922.3,467.5 L923.2,465.6 L924.2,464.0 L925.1,462.8 L926.0,461.9 L927.0,461.2 L927.9,460.8 L928.8,460.6 L929.8,460.6 L930.7,460.7 L931.6,460.9 L932.5,461.3 L933.5,461.9 L934.4,462.6 L935.3,463.5 L936.3,464.5 L937.2,465.7 L938.1,466.9 L939.1,468.3 L940.0,469.8 L940.9,471.3 L941.8,472.9 L942.8,474.6 L943.7,476.2 L944.6,477.9 L945.6,479.6 L946.5,481.4 L947.4,483.1 L948.4,484.7 L949.3,486.4 L950.2,488.0 L951.1,489.5 L952.1,491.0 L953.0,492.4 L953.9,493.7 L954.9,494.8 L955.8,495.9 L956.7,496.8 L957.7,497.7 L958.6,498.3 L959.5,498.8 L960.4,499.2 L961.4,499.4 L962.3,499.4 L963.2,499.2 L964.2,498.8 L965.1,498.3 L966.0,497.6 L966.9,496.8 L967.9,495.9 L968.8,494.9 L969.7,493.8 L970.7,492.6 L971.6,491.4 L972.5,490.1 L973.5,488.8 L974.4,487.5 L975.3,486.2 L976.2,484.9 L977.2,483.7 L978.1,482.5 L979.0,481.3 L980.0,480.3 L980.9,479.3 L981.8,478.4 L982.8,477.7 L983.7,477.1 L984.6,476.6 L985.5,476.3 L986.5,476.2 L987.4,476.3 L988.3,476.6 L989.3,477.1 L990.2,477.8 L991.1,478.6 L992.1,479.6 L993.0,480.8 L993.9,482.1 L994.8,483.5 L995.8,485.0 L996.7,486.5 L997.6,488.2 L998.6,489.9 L999.5,491.6 L1000.4,493.4 L1001.4,495.2 L1002.3,497.0 L1003.2,498.8 L1004.1,500.5 L1005.1,502.2 L1006.0,503.8 L1006.9,505.4 L1007.9,506.9 L1008.8,508.3 L1009.7,509.5 L1010.7,510.7 L1011.6,511.7 L1012.5,512.7 L1013.4,513.5 L1014.4,514.2 L1015.3,514.8 L1016.2,515.3 L1017.2,515.6 L1018.1,515.9 L1019.0,516.1 L1020.0,516.1 L1020.9,516.1 L1021.8,515.9 L1022.7,515.6 L1023.7,515.3 L1024.6,514.8 L1025.5,514.2 L1026.5,513.5 L1027.4,512.7 L1028.3,511.7 L1029.2,510.7 L1030.2,509.5 L1031.1,508.3 L1032.0,506.9 L1033.0,505.4 L1033.9,503.8 L1034.8,502.2 L1035.8,500.5 L1036.7,498.8 L1037.6,497.0 L1038.5,495.2 L1039.5,493.4 L1040.4,491.6 L1041.3,489.9 L1042.3,488.2 L1043.2,486.5 L1044.1,485.0 L1045.1,483.5 L1046.0,482.1 L1046.9,480.8 L1047.8,479.6 L1048.8,478.6 L1049.7,477.8 L1050.6,477.1 L1051.6,476.6 L1052.5,476.3 L1053.4,476.2 L1054.4,476.3 L1055.3,476.6 L1056.2,477.1 L1057.1,477.7 L1058.1,478.4 L1059.0,479.3 L1059.9,480.3 L1060.9,481.3 L1061.8,482.5 L1062.7,483.7 L1063.7,484.9 L1064.6,486.2 L1065.5,487.5 L1066.4,488.8 L1067.4,490.1 L1068.3,491.4 L1069.2,492.6 L1070.2,493.8 L1071.1,494.9 L1072.0,495.9 L1073.0,496.8 L1073.9,497.6 L1074.8,498.3 L1075.7,498.8 L1076.7,499.2 L1077.6,499.4 L1078.5,499.4 L1079.5,499.2 L1080.4,498.8 L1081.3,498.3 L1082.2,497.7 L1083.2,496.8 L1084.1,495.9 L1085.0,494.8 L1086.0,493.7 L1086.9,492.4 L1087.8,491.0 L1088.8,489.5 L1089.7,488.0 L1090.6,486.4 L1091.5,484.7 L1092.5,483.1 L1093.4,481.4 L1094.3,479.6 L1095.3,477.9 L1096.2,476.2 L1097.1,474.6 L1098.1,472.9 L1099.0,471.3 L1099.9,469.8 L1100.8,468.3 L1101.8,466.9 L1102.7,465.7 L1103.6,464.5 L1104.6,463.5 L1105.5,462.6 L1106.4,461.9 L1107.4,461.3 L1108.3,460.9 L1109.2,460.7 L1110.1,460.6 L1111.1,460.6 L1112.0,460.8 L1112.9,461.2 L1113.9,461.9 L1114.8,462.8 L1115.7,464.0 L1116.7,465.6 L1117.6,467.5 L1118.5,469.8 L1119.4,472.5 L1120.4,475.6 L1121.3,479.1 L1122.2,482.7 L1123.2,486.6 L1124.1,490.7 L1125.0,494.9 L1126.0,499.4 L1126.9,504.1 L1127.8,509.0 L1128.7,514.0 L1129.7,519.2 L1130.6,524.5 L1131.5,529.7 L1132.5,535.1 L1133.4,540.4 L1134.3,545.6 L1135.2,550.7 L1136.2,555.6 L1137.1,559.9 L1138.0,563.6 L1139.0,566.7 L1139.9,569.5 L1140.8,572.0 L1141.8,574.3 L1142.7,576.5 L1143.6,578.6 L1144.5,580.4 L1145.5,582.1 L1146.4,583.6 L1147.3,584.9 L1148.3,586.0 L1149.2,587.0 L1150.1,587.7 L1151.1,588.3 L1152.0,588.6 L1152.9,588.8 L1153.8,588.7 L1154.8,588.6 L1155.7,588.4 L1156.6,588.1 L1157.6,587.7 L1158.5,587.4 L1159.4,587.0 L1160.4,586.7 L1161.3,586.5 L1162.2,586.4 L1163.1,586.4 L1164.1,586.5 L1165.0,586.8 L1165.9,587.2 L1166.9,587.7 L1167.8,588.3 L1168.7,589.1 L1169.7,590.0 L1170.6,590.9 L1171.5,592.0 L1172.4,593.2 L1173.4,594.4 L1174.3,595.8 L1175.2,597.2 L1176.2,598.8 L1177.1,600.4 L1178.0,602.1 L1179.0,603.8 L1179.9,605.6 L1180.8,607.5 L1181.7,609.3 L1182.7,611.2 L1183.6,613.1 L1184.5,614.9 L1185.5,616.7 L1186.4,618.4 L1187.3,620.1 L1188.2,621.6 L1189.2,623.1 L1190.1,624.4 L1191.0,625.6 L1192.0,626.7 L1192.9,627.7 L1193.8,628.7 L1194.8,629.5 L1195.7,630.2 L1196.6,630.8 L1197.5,631.3 L1198.5,631.7 L1199.4,632.0 L1200.3,632.2 L1201.3,632.3 L1202.2,632.4 L1203.1,632.3 L1204.1,632.2 L1205.0,631.9 L1205.9,631.6 L1206.8,631.2 L1207.8,630.8 L1208.7,630.3 L1209.6,629.7 L1210.6,629.1 L1211.5,628.5 L1212.4,627.9 L1213.4,627.3 L1214.3,626.6 L1215.2,626.0 L1216.1,625.4 L1217.1,624.8 L1218.0,624.2 L1218.9,623.7 L1219.9,623.2 L1220.8,622.8 L1221.7,622.5 L1222.7,622.2 L1223.6,622.1 L1224.5,622.0 L1225.4,622.0 L1226.4,622.2 L1227.3,622.4 L1228.2,622.7 L1229.2,623.2 L1230.1,623.7 L1231.0,624.3 L1232.0,624.9 L1232.9,625.6 L1233.8,626.4 L1234.7,627.2 L1235.7,628.1 L1236.6,629.0 L1237.5,629.9 L1238.5,630.8 L1239.4,631.7 L1240.3,632.6 L1241.3,633.5 L1242.2,634.4 L1243.1,635.3 L1244.0,636.1 L1245.0,636.9 L1245.9,637.7 L1246.8,638.5 L1247.8,639.2 L1248.7,639.9 L1249.6,640.5 L1250.5,641.1 L1251.5,641.6 L1252.4,642.1 L1253.3,642.5 L1254.3,642.9 L1255.2,643.2 L1256.1,643.5 L1257.1,643.7 L1258.0,643.8 L1258.9,643.8 L1259.8,643.8 L1260.8,643.7 L1261.7,643.5 L1262.6,643.2 L1263.6,642.9 L1264.5,642.5 L1265.4,642.0 L1266.4,641.5 L1267.3,641.0 L1268.2,640.4 L1269.1,639.8 L1270.1,639.1 L1271.0,638.4 L1271.9,637.7 L1272.9,637.0 L1273.8,636.3 L1274.7,635.5 L1275.7,634.8 L1276.6,634.1 L1277.5,633.3 L1278.4,632.6 L1279.4,631.9 L1280.3,631.2 L1281.2,630.6 L1282.2,630.0 L1283.1,629.4 L1284.0,628.9 L1285.0,628.4 L1285.9,628.0 L1286.8,627.6 L1287.7,627.3 L1288.7,627.1 L1289.6,626.9 L1290.5,626.9 L1291.5,626.9 L1292.4,626.9 L1293.3,627.1 L1294.3,627.3 L1295.2,627.5 L1296.1,627.8 L1297.0,628.1 L1298.0,628.4 L1298.9,628.7 L1298.9,637.4 L1298.0,637.1 L1297.0,636.8 L1296.1,636.5 L1295.2,636.3 L1294.3,636.0 L1293.3,635.9 L1292.4,635.7 L1291.5,635.7 L1290.5,635.7 L1289.6,635.7 L1288.7,635.9 L1287.7,636.1 L1286.8,636.4 L1285.9,636.7 L1285.0,637.1 L1284.0,637.6 L1283.1,638.1 L1282.2,638.6 L1281.2,639.2 L1280.3,639.8 L1279.4,640.4 L1278.4,641.1 L1277.5,641.8 L1276.6,642.5 L1275.7,643.2 L1274.7,643.9 L1273.8,644.6 L1272.9,645.3 L1271.9,645.9 L1271.0,646.6 L1270.1,647.3 L1269.1,647.9 L1268.2,648.5 L1267.3,649.0 L1266.4,649.5 L1265.4,650.0 L1264.5,650.4 L1263.6,650.8 L1262.6,651.1 L1261.7,651.4 L1260.8,651.5 L1259.8,651.7 L1258.9,651.7 L1258.0,651.6 L1257.1,651.5 L1256.1,651.4 L1255.2,651.1 L1254.3,650.8 L1253.3,650.5 L1252.4,650.1 L1251.5,649.6 L1250.5,649.1 L1249.6,648.6 L1248.7,648.0 L1247.8,647.3 L1246.8,646.6 L1245.9,645.9 L1245.0,645.2 L1244.0,644.4 L1243.1,643.6 L1242.2,642.8 L1241.3,642.0 L1240.3,641.1 L1239.4,640.2 L1238.5,639.4 L1237.5,638.5 L1236.6,637.6 L1235.7,636.8 L1234.7,636.0 L1233.8,635.2 L1232.9,634.5 L1232.0,633.8 L1231.0,633.2 L1230.1,632.7 L1229.2,632.2 L1228.2,631.8 L1227.3,631.4 L1226.4,631.2 L1225.4,631.1 L1224.5,631.1 L1223.6,631.1 L1222.7,631.3 L1221.7,631.5 L1220.8,631.9 L1219.9,632.2 L1218.9,632.7 L1218.0,633.2 L1217.1,633.7 L1216.1,634.3 L1215.2,634.8 L1214.3,635.4 L1213.4,636.0 L1212.4,636.6 L1211.5,637.2 L1210.6,637.8 L1209.6,638.4 L1208.7,638.9 L1207.8,639.4 L1206.8,639.8 L1205.9,640.1 L1205.0,640.4 L1204.1,640.7 L1203.1,640.8 L1202.2,640.9 L1201.3,640.8 L1200.3,640.7 L1199.4,640.5 L1198.5,640.2 L1197.5,639.8 L1196.6,639.4 L1195.7,638.8 L1194.8,638.1 L1193.8,637.4 L1192.9,636.5 L1192.0,635.5 L1191.0,634.5 L1190.1,633.3 L1189.2,632.1 L1188.2,630.7 L1187.3,629.2 L1186.4,627.7 L1185.5,626.1 L1184.5,624.4 L1183.6,622.6 L1182.7,620.9 L1181.7,619.1 L1180.8,617.3 L1179.9,615.6 L1179.0,613.9 L1178.0,612.2 L1177.1,610.6 L1176.2,609.1 L1175.2,607.7 L1174.3,606.3 L1173.4,605.0 L1172.4,603.8 L1171.5,602.7 L1170.6,601.7 L1169.7,600.8 L1168.7,599.9 L1167.8,599.2 L1166.9,598.6 L1165.9,598.1 L1165.0,597.8 L1164.1,597.5 L1163.1,597.4 L1162.2,597.4 L1161.3,597.5 L1160.4,597.7 L1159.4,598.0 L1158.5,598.3 L1157.6,598.7 L1156.6,599.0 L1155.7,599.3 L1154.8,599.5 L1153.8,599.6 L1152.9,599.6 L1152.0,599.5 L1151.1,599.2 L1150.1,598.7 L1149.2,597.9 L1148.3,597.1 L1147.3,596.0 L1146.4,594.7 L1145.5,593.3 L1144.5,591.7 L1143.6,590.0 L1142.7,588.1 L1141.8,586.0 L1140.8,583.8 L1139.9,581.4 L1139.0,578.8 L1138.0,575.8 L1137.1,572.3 L1136.2,568.2 L1135.2,563.7 L1134.3,558.8 L1133.4,553.9 L1132.5,548.9 L1131.5,543.8 L1130.6,538.8 L1129.7,533.9 L1128.7,529.0 L1127.8,524.2 L1126.9,519.6 L1126.0,515.2 L1125.0,510.9 L1124.1,506.9 L1123.2,503.1 L1122.2,499.4 L1121.3,495.9 L1120.4,492.7 L1119.4,489.8 L1118.5,487.2 L1117.6,485.0 L1116.7,483.2 L1115.7,481.7 L1114.8,480.5 L1113.9,479.7 L1112.9,479.1 L1112.0,478.7 L1111.1,478.5 L1110.1,478.5 L1109.2,478.5 L1108.3,478.8 L1107.4,479.1 L1106.4,479.7 L1105.5,480.3 L1104.6,481.2 L1103.6,482.1 L1102.7,483.2 L1101.8,484.5 L1100.8,485.8 L1099.9,487.2 L1099.0,488.6 L1098.1,490.1 L1097.1,491.7 L1096.2,493.2 L1095.3,494.8 L1094.3,496.5 L1093.4,498.1 L1092.5,499.7 L1091.5,501.3 L1090.6,502.8 L1089.7,504.4 L1088.8,505.8 L1087.8,507.2 L1086.9,508.5 L1086.0,509.7 L1085.0,510.8 L1084.1,511.8 L1083.2,512.7 L1082.2,513.5 L1081.3,514.1 L1080.4,514.6 L1079.5,514.9 L1078.5,515.1 L1077.6,515.1 L1076.7,514.9 L1075.7,514.6 L1074.8,514.1 L1073.9,513.5 L1073.0,512.7 L1072.0,511.9 L1071.1,510.9 L1070.2,509.9 L1069.2,508.8 L1068.3,507.6 L1067.4,506.4 L1066.4,505.2 L1065.5,503.9 L1064.6,502.7 L1063.7,501.5 L1062.7,500.3 L1061.8,499.2 L1060.9,498.1 L1059.9,497.1 L1059.0,496.1 L1058.1,495.3 L1057.1,494.6 L1056.2,494.0 L1055.3,493.6 L1054.4,493.3 L1053.4,493.2 L1052.5,493.3 L1051.6,493.6 L1050.6,494.1 L1049.7,494.7 L1048.8,495.5 L1047.8,496.5 L1046.9,497.6 L1046.0,498.8 L1045.1,500.1 L1044.1,501.5 L1043.2,503.0 L1042.3,504.6 L1041.3,506.2 L1040.4,507.8 L1039.5,509.5 L1038.5,511.2 L1037.6,512.9 L1036.7,514.6 L1035.8,516.2 L1034.8,517.8 L1033.9,519.4 L1033.0,520.8 L1032.0,522.2 L1031.1,523.5 L1030.2,524.7 L1029.2,525.8 L1028.3,526.8 L1027.4,527.7 L1026.5,528.4 L1025.5,529.1 L1024.6,529.7 L1023.7,530.1 L1022.7,530.5 L1021.8,530.8 L1020.9,530.9 L1020.0,531.0 L1019.0,530.9 L1018.1,530.8 L1017.2,530.5 L1016.2,530.1 L1015.3,529.7 L1014.4,529.1 L1013.4,528.4 L1012.5,527.7 L1011.6,526.8 L1010.7,525.8 L1009.7,524.7 L1008.8,523.5 L1007.9,522.2 L1006.9,520.8 L1006.0,519.4 L1005.1,517.8 L1004.1,516.2 L1003.2,514.6 L1002.3,512.9 L1001.4,511.2 L1000.4,509.5 L999.5,507.8 L998.6,506.2 L997.6,504.6 L996.7,503.0 L995.8,501.5 L994.8,500.1 L993.9,498.8 L993.0,497.6 L992.1,496.5 L991.1,495.5 L990.2,494.7 L989.3,494.1 L988.3,493.6 L987.4,493.3 L986.5,493.2 L985.5,493.3 L984.6,493.6 L983.7,494.0 L982.8,494.6 L981.8,495.3 L980.9,496.1 L980.0,497.1 L979.0,498.1 L978.1,499.2 L977.2,500.3 L976.2,501.5 L975.3,502.7 L974.4,503.9 L973.5,505.2 L972.5,506.4 L971.6,507.6 L970.7,508.8 L969.7,509.9 L968.8,510.9 L967.9,511.9 L966.9,512.7 L966.0,513.5 L965.1,514.1 L964.2,514.6 L963.2,514.9 L962.3,515.1 L961.4,515.1 L960.4,514.9 L959.5,514.6 L958.6,514.1 L957.7,513.5 L956.7,512.7 L955.8,511.8 L954.9,510.8 L953.9,509.7 L953.0,508.5 L952.1,507.2 L951.1,505.8 L950.2,504.4 L949.3,502.8 L948.4,501.3 L947.4,499.7 L946.5,498.1 L945.6,496.5 L944.6,494.8 L943.7,493.2 L942.8,491.7 L941.8,490.1 L940.9,488.6 L940.0,487.2 L939.1,485.8 L938.1,484.5 L937.2,483.2 L936.3,482.1 L935.3,481.2 L934.4,480.3 L933.5,479.7 L932.5,479.1 L931.6,478.8 L930.7,478.5 L929.8,478.5 L928.8,478.5 L927.9,478.7 L927.0,479.1 L926.0,479.7 L925.1,480.5 L924.2,481.7 L923.2,483.2 L922.3,485.0 L921.4,487.2 L920.5,489.8 L919.5,492.7 L918.6,495.9 L917.7,499.4 L916.7,503.1 L915.8,506.9 L914.9,510.9 L913.9,515.2 L913.0,519.6 L912.1,524.2 L911.2,529.0 L910.2,533.9 L909.3,538.8 L908.4,543.8 L907.4,548.9 L906.5,553.9 L905.6,558.8 L904.7,563.7 L903.7,568.2 L902.8,572.3 L901.9,575.8 L900.9,578.8 L900.0,581.4 L899.1,583.8 L898.1,586.0 L897.2,588.1 L896.3,590.0 L895.4,591.7 L894.4,593.3 L893.5,594.7 L892.6,596.0 L891.6,597.1 L890.7,597.9 L889.8,598.7 L888.8,599.2 L887.9,599.5 L887.0,599.6 L886.1,599.6 L885.1,599.5 L884.2,599.3 L883.3,599.0 L882.3,598.7 L881.4,598.3 L880.5,598.0 L879.5,597.7 L878.6,597.5 L877.7,597.4 L876.8,597.4 L875.8,597.5 L874.9,597.8 L874.0,598.1 L873.0,598.6 L872.1,599.2 L871.2,599.9 L870.2,600.8 L869.3,601.7 L868.4,602.7 L867.5,603.8 L866.5,605.0 L865.6,606.3 L864.7,607.7 L863.7,609.1 L862.8,610.6 L861.9,612.2 L860.9,613.9 L860.0,615.6 L859.1,617.3 L858.2,619.1 L857.2,620.9 L856.3,622.6 L855.4,624.4 L854.4,626.1 L853.5,627.7 L852.6,629.2 L851.7,630.7 L850.7,632.1 L849.8,633.3 L848.9,634.5 L847.9,635.5 L847.0,636.5 L846.1,637.4 L845.1,638.1 L844.2,638.8 L843.3,639.4 L842.4,639.8 L841.4,640.2 L840.5,640.5 L839.6,640.7 L838.6,640.8 L837.7,640.9 L836.8,640.8 L835.8,640.7 L834.9,640.4 L834.0,640.1 L833.1,639.8 L832.1,639.4 L831.2,638.9 L830.3,638.4 L829.3,637.8 L828.4,637.2 L827.5,636.6 L826.5,636.0 L825.6,635.4 L824.7,634.8 L823.8,634.3 L822.8,633.7 L821.9,633.2 L821.0,632.7 L820.0,632.2 L819.1,631.9 L818.2,631.5 L817.2,631.3 L816.3,631.1 L815.4,631.1 L814.5,631.1 L813.5,631.2 L812.6,631.4 L811.7,631.8 L810.7,632.2 L809.8,632.7 L808.9,633.2 L807.9,633.8 L807.0,634.5 L806.1,635.2 L805.2,636.0 L804.2,636.8 L803.3,637.6 L802.4,638.5 L801.4,639.4 L800.5,640.2 L799.6,641.1 L798.6,642.0 L797.7,642.8 L796.8,643.6 L795.9,644.4 L794.9,645.2 L794.0,645.9 L793.1,646.6 L792.1,647.3 L791.2,648.0 L790.3,648.6 L789.4,649.1 L788.4,649.6 L787.5,650.1 L786.6,650.5 L785.6,650.8 L784.7,651.1 L783.8,651.4 L782.8,651.5 L781.9,651.6 L781.0,651.7 L780.1,651.7 L779.1,651.5 L778.2,651.4 L777.3,651.1 L776.3,650.8 L775.4,650.4 L774.5,650.0 L773.5,649.5 L772.6,649.0 L771.7,648.5 L770.8,647.9 L769.8,647.3 L768.9,646.6 L768.0,645.9 L767.0,645.3 L766.1,644.6 L765.2,643.9 L764.2,643.2 L763.3,642.5 L762.4,641.8 L761.5,641.1 L760.5,640.4 L759.6,639.8 L758.7,639.2 L757.7,638.6 L756.8,638.1 L755.9,637.6 L754.9,637.1 L754.0,636.7 L753.1,636.4 L752.2,636.1 L751.2,635.9 L750.3,635.7 L749.4,635.7 L748.4,635.7 L747.5,635.7 L746.6,635.9 L745.6,636.0 L744.7,636.3 L743.8,636.5 L742.9,636.8 L741.9,637.1 L741.0,637.4Z" fill="#bdbdbd" stroke="none"/>
<path d="M741.0,619.8 L741.9,619.4 L742.9,619.1 L743.8,618.8 L744.7,618.5 L745.6,618.2 L746.6,617.9 L747.5,617.7 L748.4,617.6 L749.4,617.5 L750.3,617.5 L751.2,617.5 L752.2,617.6 L753.1,617.8 L754.0,618.1 L754.9,618.4 L755.9,618.8 L756.8,619.3 L757.7,619.7 L758.7,620.3 L759.6,620.8 L760.5,621.4 L761.5,622.1 L762.4,622.7 L763.3,623.4 L764.2,624.1 L765.2,624.9 L766.1,625.6 L767.0,626.3 L768.0,627.0 L768.9,627.8 L769.8,628.5 L770.8,629.2 L771.7,629.9 L772.6,630.5 L773.5,631.2 L774.5,631.8 L775.4,632.3 L776.3,632.8 L777.3,633.3 L778.2,633.7 L779.1,634.1 L780.1,634.4 L781.0,634.7 L781.9,634.9 L782.8,635.0 L783.8,635.0 L784.7,635.0 L785.6,634.9 L786.6,634.7 L787.5,634.4 L788.4,634.2 L789.4,633.8 L790.3,633.4 L791.2,633.0 L792.1,632.5 L793.1,632.0 L794.0,631.5 L794.9,631.0 L795.9,630.4 L796.8,629.9 L797.7,629.3 L798.6,628.7 L799.6,628.2 L800.5,627.6 L801.4,627.1 L802.4,626.6 L803.3,626.1 L804.2,625.6 L805.2,625.2 L806.1,624.8 L807.0,624.5 L807.9,624.2 L808.9,624.0 L809.8,623.8 L810.7,623.7 L811.7,623.7 L812.6,623.7 L813.5,623.8 L814.5,624.0 L815.4,624.3 L816.3,624.6 L817.2,625.0 L818.2,625.4 L819.1,625.9 L820.0,626.4 L821.0,626.9 L821.9,627.5 L822.8,628.0 L823.8,628.6 L824.7,629.2 L825.6,629.8 L826.5,630.3 L827.5,630.9 L828.4,631.4 L829.3,631.9 L830.3,632.3 L831.2,632.7 L832.1,633.1 L833.1,633.4 L834.0,633.6 L834.9,633.8 L835.8,633.9 L836.8,633.9 L837.7,633.8 L838.6,633.7 L839.6,633.4 L840.5,633.1 L841.4,632.6 L842.4,632.1 L843.3,631.5 L844.2,630.9 L845.1,630.1 L846.1,629.3 L847.0,628.4 L847.9,627.4 L848.9,626.3 L849.8,625.2 L850.7,624.0 L851.7,622.7 L852.6,621.3 L853.5,619.9 L854.4,618.5 L855.4,616.9 L856.3,615.3 L857.2,613.7 L858.2,612.0 L859.1,610.2 L860.0,608.4 L860.9,606.6 L861.9,604.8 L862.8,603.0 L863.7,601.2 L864.7,599.4 L865.6,597.8 L866.5,596.2 L867.5,594.6 L868.4,593.2 L869.3,591.9 L870.2,590.8 L871.2,589.8 L872.1,588.9 L873.0,588.3 L874.0,587.8 L874.9,587.5 L875.8,587.5 L876.8,587.7 L877.7,588.0 L878.6,588.5 L879.5,589.1 L880.5,589.7 L881.4,590.4 L882.3,591.0 L883.3,591.6 L884.2,592.1 L885.1,592.4 L886.1,592.6 L887.0,592.6 L887.9,592.4 L888.8,591.9 L889.8,591.1 L890.7,590.1 L891.6,588.8 L892.6,587.2 L893.5,585.4 L894.4,583.4 L895.4,581.1 L896.3,578.6 L897.2,575.8 L898.1,572.8 L899.1,569.6 L900.0,566.1 L900.9,562.4 L901.9,558.5 L902.8,554.3 L903.7,549.8 L904.7,545.2 L905.6,540.5 L906.5,535.7 L907.4,530.9 L908.4,526.2 L909.3,521.5 L910.2,516.9 L911.2,512.5 L912.1,508.3 L913.0,504.2 L913.9,500.3 L914.9,496.6 L915.8,493.0 L916.7,489.7 L917.7,486.5 L918.6,483.6 L919.5,480.8 L920.5,478.2 L921.4,475.9 L922.3,473.8 L923.2,471.9 L924.2,470.2 L925.1,468.8 L926.0,467.6 L927.0,466.7 L927.9,466.0 L928.8,465.6 L929.8,465.4 L930.7,465.5 L931.6,465.8 L932.5,466.4 L933.5,467.1 L934.4,468.1 L935.3,469.2 L936.3,470.4 L937.2,471.9 L938.1,473.4 L939.1,475.1 L940.0,476.9 L940.9,478.7 L941.8,480.7 L942.8,482.7 L943.7,484.7 L944.6,486.8 L945.6,488.9 L946.5,491.0 L947.4,493.1 L948.4,495.2 L949.3,497.2 L950.2,499.2 L951.1,501.1 L952.1,502.9 L953.0,504.6 L953.9,506.2 L954.9,507.7 L955.8,509.1 L956.7,510.3 L957.7,511.3 L958.6,512.1 L959.5,512.7 L960.4,513.2 L961.4,513.3 L962.3,513.3 L963.2,513.1 L964.2,512.6 L965.1,512.0 L966.0,511.2 L966.9,510.3 L967.9,509.2 L968.8,508.1 L969.7,506.8 L970.7,505.5 L971.6,504.1 L972.5,502.7 L973.5,501.2 L974.4,499.8 L975.3,498.3 L976.2,496.9 L977.2,495.6 L978.1,494.3 L979.0,493.0 L980.0,491.9 L980.9,490.9 L981.8,490.1 L982.8,489.3 L983.7,488.8 L984.6,488.4 L985.5,488.2 L986.5,488.3 L987.4,488.6 L988.3,489.1 L989.3,489.9 L990.2,490.8 L991.1,492.0 L992.1,493.3 L993.0,494.8 L993.9,496.4 L994.8,498.2 L995.8,500.1 L996.7,502.2 L997.6,504.3 L998.6,506.5 L999.5,508.7 L1000.4,511.0 L1001.4,513.4 L1002.3,515.8 L1003.2,518.1 L1004.1,520.5 L1005.1,522.9 L1006.0,525.2 L1006.9,527.5 L1007.9,529.7 L1008.8,531.9 L1009.7,533.9 L1010.7,535.9 L1011.6,537.7 L1012.5,539.4 L1013.4,540.9 L1014.4,542.3 L1015.3,543.5 L1016.2,544.6 L1017.2,545.4 L1018.1,546.0 L1019.0,546.4 L1020.0,546.5 L1020.9,546.4 L1021.8,546.0 L1022.7,545.4 L1023.7,544.6 L1024.6,543.5 L1025.5,542.3 L1026.5,540.9 L1027.4,539.4 L1028.3,537.7 L1029.2,535.9 L1030.2,533.9 L1031.1,531.9 L1032.0,529.7 L1033.0,527.5 L1033.9,525.2 L1034.8,522.9 L1035.8,520.5 L1036.7,518.1 L1037.6,515.8 L1038.5,513.4 L1039.5,511.0 L1040.4,508.7 L1041.3,506.5 L1042.3,504.3 L1043.2,502.2 L1044.1,500.1 L1045.1,498.2 L1046.0,496.4 L1046.9,494.8 L1047.8,493.3 L1048.8,492.0 L1049.7,490.8 L1050.6,489.9 L1051.6,489.1 L1052.5,488.6 L1053.4,488.3 L1054.4,488.2 L1055.3,488.4 L1056.2,488.8 L1057.1,489.3 L1058.1,490.1 L1059.0,490.9 L1059.9,491.9 L1060.9,493.0 L1061.8,494.3 L1062.7,495.6 L1063.7,496.9 L1064.6,498.3 L1065.5,499.8 L1066.4,501.2 L1067.4,502.7 L1068.3,504.1 L1069.2,505.5 L1070.2,506.8 L1071.1,508.1 L1072.0,509.2 L1073.0,510.3 L1073.9,511.2 L1074.8,512.0 L1075.7,512.6 L1076.7,513.1 L1077.6,513.3 L1078.5,513.3 L1079.5,513.2 L1080.4,512.7 L1081.3,512.1 L1082.2,511.3 L1083.2,510.3 L1084.1,509.1 L1085.0,507.7 L1086.0,506.2 L1086.9,504.6 L1087.8,502.9 L1088.8,501.1 L1089.7,499.2 L1090.6,497.2 L1091.5,495.2 L1092.5,493.1 L1093.4,491.0 L1094.3,488.9 L1095.3,486.8 L1096.2,484.7 L1097.1,482.7 L1098.1,480.7 L1099.0,478.7 L1099.9,476.9 L1100.8,475.1 L1101.8,473.4 L1102.7,471.9 L1103.6,470.4 L1104.6,469.2 L1105.5,468.1 L1106.4,467.1 L1107.4,466.4 L1108.3,465.8 L1109.2,465.5 L1110.1,465.4 L1111.1,465.6 L1112.0,466.0 L1112.9,466.7 L1113.9,467.6 L1114.8,468.8 L1115.7,470.2 L1116.7,471.9 L1117.6,473.8 L1118.5,475.9 L1119.4,478.2 L1120.4,480.8 L1121.3,483.6 L1122.2,486.5 L1123.2,489.7 L1124.1,493.0 L1125.0,496.6 L1126.0,500.3 L1126.9,504.2 L1127.8,508.3 L1128.7,512.5 L1129.7,516.9 L1130.6,521.5 L1131.5,526.2 L1132.5,530.9 L1133.4,535.7 L1134.3,540.5 L1135.2,545.2 L1136.2,549.8 L1137.1,554.3 L1138.0,558.5 L1139.0,562.4 L1139.9,566.1 L1140.8,569.6 L1141.8,572.8 L1142.7,575.8 L1143.6,578.6 L1144.5,581.1 L1145.5,583.4 L1146.4,585.4 L1147.3,587.2 L1148.3,588.8 L1149.2,590.1 L1150.1,591.1 L1151.1,591.9 L1152.0,592.4 L1152.9,592.6 L1153.8,592.6 L1154.8,592.4 L1155.7,592.1 L1156.6,591.6 L1157.6,591.0 L1158.5,590.4 L1159.4,589.7 L1160.4,589.1 L1161.3,588.5 L1162.2,588.0 L1163.1,587.7 L1164.1,587.5 L1165.0,587.5 L1165.9,587.8 L1166.9,588.3 L1167.8,588.9 L1168.7,589.8 L1169.7,590.8 L1170.6,591.9 L1171.5,593.2 L1172.4,594.6 L1173.4,596.2 L1174.3,597.8 L1175.2,599.4 L1176.2,601.2 L1177.1,603.0 L1178.0,604.8 L1179.0,606.6 L1179.9,608.4 L1180.8,610.2 L1181.7,612.0 L1182.7,613.7 L1183.6,615.3 L1184.5,616.9 L1185.5,618.5 L1186.4,619.9 L1187.3,621.3 L1188.2,622.7 L1189.2,624.0 L1190.1,625.2 L1191.0,626.3 L1192.0,627.4 L1192.9,628.4 L1193.8,629.3 L1194.8,630.1 L1195.7,630.9 L1196.6,631.5 L1197.5,632.1 L1198.5,632.6 L1199.4,633.1 L1200.3,633.4 L1201.3,633.7 L1202.2,633.8 L1203.1,633.9 L1204.1,633.9 L1205.0,633.8 L1205.9,633.6 L1206.8,633.4 L1207.8,633.1 L1208.7,632.7 L1209.6,632.3 L1210.6,631.9 L1211.5,631.4 L1212.4,630.9 L1213.4,630.3 L1214.3,629.8 L1215.2,629.2 L1216.1,628.6 L1217.1,628.0 L1218.0,627.5 L1218.9,626.9 L1219.9,626.4 L1220.8,625.9 L1221.7,625.4 L1222.7,625.0 L1223.6,624.6 L1224.5,624.3 L1225.4,624.0 L1226.4,623.8 L1227.3,623.7 L1228.2,623.7 L1229.2,623.7 L1230.1,623.8 L1231.0,624.0 L1232.0,624.2 L1232.9,624.5 L1233.8,624.8 L1234.7,625.2 L1235.7,625.6 L1236.6,626.1 L1237.5,626.6 L1238.5,627.1 L1239.4,627.6 L1240.3,628.2 L1241.3,628.7 L1242.2,629.3 L1243.1,629.9 L1244.0,630.4 L1245.0,631.0 L1245.9,631.5 L1246.8,632.0 L1247.8,632.5 L1248.7,633.0 L1249.6,633.4 L1250.5,633.8 L1251.5,634.2 L1252.4,634.4 L1253.3,634.7 L1254.3,634.9 L1255.2,635.0 L1256.1,635.0 L1257.1,635.0 L1258.0,634.9 L1258.9,634.7 L1259.8,634.4 L1260.8,634.1 L1261.7,633.7 L1262.6,633.3 L1263.6,632.8 L1264.5,632.3 L1265.4,631.8 L1266.4,631.2 L1267.3,630.5 L1268.2,629.9 L1269.1,629.2 L1270.1,628.5 L1271.0,627.8 L1271.9,627.0 L1272.9,626.3 L1273.8,625.6 L1274.7,624.9 L1275.7,624.1 L1276.6,623.4 L1277.5,622.7 L1278.4,622.1 L1279.4,621.4 L1280.3,620.8 L1281.2,620.3 L1282.2,619.7 L1283.1,619.3 L1284.0,618.8 L1285.0,618.4 L1285.9,618.1 L1286.8,617.8 L1287.7,617.6 L1288.7,617.5 L1289.6,617.5 L1290.5,617.5 L1291.5,617.6 L1292.4,617.7 L1293.3,617.9 L1294.3,618.2 L1295.2,618.5 L1296.1,618.8 L1297.0,619.1 L1298.0,619.4 L1298.9,619.8" stroke="#0000ff" stroke-width="2.7"/>
<path d="M741.0,633.1 L741.9,632.7 L742.9,632.4 L743.8,632.1 L744.7,631.9 L745.6,631.7 L746.6,631.5 L747.5,631.3 L748.4,631.3 L749.4,631.3 L750.3,631.3 L751.2,631.5 L752.2,631.7 L753.1,632.0 L754.0,632.4 L754.9,632.8 L755.9,633.2 L756.8,633.7 L757.7,634.3 L758.7,634.9 L759.6,635.5 L760.5,636.2 L761.5,636.9 L762.4,637.6 L763.3,638.3 L764.2,639.0 L765.2,639.7 L766.1,640.4 L767.0,641.1 L768.0,641.8 L768.9,642.5 L769.8,643.2 L770.8,643.8 L771.7,644.4 L772.6,645.0 L773.5,645.5 L774.5,646.0 L775.4,646.5 L776.3,646.8 L777.3,647.2 L778.2,647.4 L779.1,647.6 L780.1,647.7 L781.0,647.7 L781.9,647.7 L782.8,647.6 L783.8,647.4 L784.7,647.2 L785.6,646.9 L786.6,646.5 L787.5,646.1 L788.4,645.6 L789.4,645.1 L790.3,644.5 L791.2,643.9 L792.1,643.2 L793.1,642.6 L794.0,641.8 L794.9,641.1 L795.9,640.3 L796.8,639.4 L797.7,638.6 L798.6,637.7 L799.6,636.9 L800.5,636.0 L801.4,635.1 L802.4,634.2 L803.3,633.3 L804.2,632.4 L805.2,631.6 L806.1,630.8 L807.0,630.1 L807.9,629.4 L808.9,628.7 L809.8,628.2 L810.7,627.7 L811.7,627.2 L812.6,626.9 L813.5,626.7 L814.5,626.6 L815.4,626.5 L816.3,626.6 L817.2,626.8 L818.2,627.0 L819.1,627.3 L820.0,627.7 L821.0,628.2 L821.9,628.7 L822.8,629.2 L823.8,629.8 L824.7,630.4 L825.6,631.0 L826.5,631.6 L827.5,632.3 L828.4,632.9 L829.3,633.5 L830.3,634.0 L831.2,634.6 L832.1,635.1 L833.1,635.5 L834.0,635.9 L834.9,636.2 L835.8,636.4 L836.8,636.6 L837.7,636.6 L838.6,636.6 L839.6,636.5 L840.5,636.3 L841.4,636.0 L842.4,635.6 L843.3,635.1 L844.2,634.5 L845.1,633.8 L846.1,633.0 L847.0,632.1 L847.9,631.1 L848.9,630.0 L849.8,628.9 L850.7,627.6 L851.7,626.2 L852.6,624.7 L853.5,623.1 L854.4,621.4 L855.4,619.6 L856.3,617.9 L857.2,616.0 L858.2,614.2 L859.1,612.4 L860.0,610.6 L860.9,608.8 L861.9,607.1 L862.8,605.5 L863.7,603.9 L864.7,602.5 L865.6,601.0 L866.5,599.7 L867.5,598.5 L868.4,597.3 L869.3,596.3 L870.2,595.4 L871.2,594.5 L872.1,593.8 L873.0,593.2 L874.0,592.7 L874.9,592.3 L875.8,592.0 L876.8,591.9 L877.7,591.9 L878.6,592.0 L879.5,592.2 L880.5,592.5 L881.4,592.8 L882.3,593.2 L883.3,593.5 L884.2,593.8 L885.1,594.1 L886.1,594.2 L887.0,594.2 L887.9,594.0 L888.8,593.7 L889.8,593.2 L890.7,592.5 L891.6,591.5 L892.6,590.4 L893.5,589.2 L894.4,587.7 L895.4,586.1 L896.3,584.3 L897.2,582.3 L898.1,580.2 L899.1,577.9 L900.0,575.5 L900.9,572.8 L901.9,569.7 L902.8,566.1 L903.7,561.9 L904.7,557.2 L905.6,552.2 L906.5,547.1 L907.4,542.0 L908.4,536.8 L909.3,531.6 L910.2,526.5 L911.2,521.5 L912.1,516.6 L913.0,511.9 L913.9,507.3 L914.9,502.9 L915.8,498.8 L916.7,494.8 L917.7,491.1 L918.6,487.5 L919.5,484.2 L920.5,481.2 L921.4,478.5 L922.3,476.3 L923.2,474.4 L924.2,472.9 L925.1,471.7 L926.0,470.8 L927.0,470.2 L927.9,469.8 L928.8,469.6 L929.8,469.5 L930.7,469.6 L931.6,469.8 L932.5,470.2 L933.5,470.8 L934.4,471.5 L935.3,472.3 L936.3,473.3 L937.2,474.4 L938.1,475.7 L939.1,477.0 L940.0,478.5 L940.9,480.0 L941.8,481.5 L942.8,483.1 L943.7,484.7 L944.6,486.4 L945.6,488.0 L946.5,489.7 L947.4,491.4 L948.4,493.0 L949.3,494.6 L950.2,496.2 L951.1,497.7 L952.1,499.1 L953.0,500.4 L953.9,501.7 L954.9,502.8 L955.8,503.9 L956.7,504.8 L957.7,505.6 L958.6,506.2 L959.5,506.7 L960.4,507.1 L961.4,507.2 L962.3,507.2 L963.2,507.1 L964.2,506.7 L965.1,506.2 L966.0,505.6 L966.9,504.8 L967.9,503.9 L968.8,502.9 L969.7,501.8 L970.7,500.7 L971.6,499.5 L972.5,498.3 L973.5,497.0 L974.4,495.7 L975.3,494.5 L976.2,493.2 L977.2,492.0 L978.1,490.8 L979.0,489.7 L980.0,488.7 L980.9,487.7 L981.8,486.9 L982.8,486.1 L983.7,485.6 L984.6,485.1 L985.5,484.8 L986.5,484.7 L987.4,484.8 L988.3,485.1 L989.3,485.6 L990.2,486.2 L991.1,487.1 L992.1,488.1 L993.0,489.2 L993.9,490.4 L994.8,491.8 L995.8,493.2 L996.7,494.8 L997.6,496.4 L998.6,498.0 L999.5,499.7 L1000.4,501.5 L1001.4,503.2 L1002.3,504.9 L1003.2,506.7 L1004.1,508.4 L1005.1,510.0 L1006.0,511.6 L1006.9,513.1 L1007.9,514.6 L1008.8,515.9 L1009.7,517.1 L1010.7,518.3 L1011.6,519.3 L1012.5,520.2 L1013.4,521.0 L1014.4,521.6 L1015.3,522.2 L1016.2,522.7 L1017.2,523.1 L1018.1,523.3 L1019.0,523.5 L1020.0,523.5 L1020.9,523.5 L1021.8,523.3 L1022.7,523.1 L1023.7,522.7 L1024.6,522.2 L1025.5,521.6 L1026.5,521.0 L1027.4,520.2 L1028.3,519.3 L1029.2,518.3 L1030.2,517.1 L1031.1,515.9 L1032.0,514.6 L1033.0,513.1 L1033.9,511.6 L1034.8,510.0 L1035.8,508.4 L1036.7,506.7 L1037.6,504.9 L1038.5,503.2 L1039.5,501.5 L1040.4,499.7 L1041.3,498.0 L1042.3,496.4 L1043.2,494.8 L1044.1,493.2 L1045.1,491.8 L1046.0,490.4 L1046.9,489.2 L1047.8,488.1 L1048.8,487.1 L1049.7,486.2 L1050.6,485.6 L1051.6,485.1 L1052.5,484.8 L1053.4,484.7 L1054.4,484.8 L1055.3,485.1 L1056.2,485.6 L1057.1,486.1 L1058.1,486.9 L1059.0,487.7 L1059.9,488.7 L1060.9,489.7 L1061.8,490.8 L1062.7,492.0 L1063.7,493.2 L1064.6,494.5 L1065.5,495.7 L1066.4,497.0 L1067.4,498.3 L1068.3,499.5 L1069.2,500.7 L1070.2,501.8 L1071.1,502.9 L1072.0,503.9 L1073.0,504.8 L1073.9,505.6 L1074.8,506.2 L1075.7,506.7 L1076.7,507.1 L1077.6,507.2 L1078.5,507.2 L1079.5,507.1 L1080.4,506.7 L1081.3,506.2 L1082.2,505.6 L1083.2,504.8 L1084.1,503.9 L1085.0,502.8 L1086.0,501.7 L1086.9,500.4 L1087.8,499.1 L1088.8,497.7 L1089.7,496.2 L1090.6,494.6 L1091.5,493.0 L1092.5,491.4 L1093.4,489.7 L1094.3,488.0 L1095.3,486.4 L1096.2,484.7 L1097.1,483.1 L1098.1,481.5 L1099.0,480.0 L1099.9,478.5 L1100.8,477.0 L1101.8,475.7 L1102.7,474.4 L1103.6,473.3 L1104.6,472.3 L1105.5,471.5 L1106.4,470.8 L1107.4,470.2 L1108.3,469.8 L1109.2,469.6 L1110.1,469.5 L1111.1,469.6 L1112.0,469.8 L1112.9,470.2 L1113.9,470.8 L1114.8,471.7 L1115.7,472.9 L1116.7,474.4 L1117.6,476.3 L1118.5,478.5 L1119.4,481.2 L1120.4,484.2 L1121.3,487.5 L1122.2,491.1 L1123.2,494.8 L1124.1,498.8 L1125.0,502.9 L1126.0,507.3 L1126.9,511.9 L1127.8,516.6 L1128.7,521.5 L1129.7,526.5 L1130.6,531.6 L1131.5,536.8 L1132.5,542.0 L1133.4,547.1 L1134.3,552.2 L1135.2,557.2 L1136.2,561.9 L1137.1,566.1 L1138.0,569.7 L1139.0,572.8 L1139.9,575.5 L1140.8,577.9 L1141.8,580.2 L1142.7,582.3 L1143.6,584.3 L1144.5,586.1 L1145.5,587.7 L1146.4,589.2 L1147.3,590.4 L1148.3,591.5 L1149.2,592.5 L1150.1,593.2 L1151.1,593.7 L1152.0,594.0 L1152.9,594.2 L1153.8,594.2 L1154.8,594.1 L1155.7,593.8 L1156.6,593.5 L1157.6,593.2 L1158.5,592.8 L1159.4,592.5 L1160.4,592.2 L1161.3,592.0 L1162.2,591.9 L1163.1,591.9 L1164.1,592.0 L1165.0,592.3 L1165.9,592.7 L1166.9,593.2 L1167.8,593.8 L1168.7,594.5 L1169.7,595.4 L1170.6,596.3 L1171.5,597.3 L1172.4,598.5 L1173.4,599.7 L1174.3,601.0 L1175.2,602.5 L1176.2,603.9 L1177.1,605.5 L1178.0,607.1 L1179.0,608.8 L1179.9,610.6 L1180.8,612.4 L1181.7,614.2 L1182.7,616.0 L1183.6,617.9 L1184.5,619.6 L1185.5,621.4 L1186.4,623.1 L1187.3,624.7 L1188.2,626.2 L1189.2,627.6 L1190.1,628.9 L1191.0,630.0 L1192.0,631.1 L1192.9,632.1 L1193.8,633.0 L1194.8,633.8 L1195.7,634.5 L1196.6,635.1 L1197.5,635.6 L1198.5,636.0 L1199.4,636.3 L1200.3,636.5 L1201.3,636.6 L1202.2,636.6 L1203.1,636.6 L1204.1,636.4 L1205.0,636.2 L1205.9,635.9 L1206.8,635.5 L1207.8,635.1 L1208.7,634.6 L1209.6,634.0 L1210.6,633.5 L1211.5,632.9 L1212.4,632.3 L1213.4,631.6 L1214.3,631.0 L1215.2,630.4 L1216.1,629.8 L1217.1,629.2 L1218.0,628.7 L1218.9,628.2 L1219.9,627.7 L1220.8,627.3 L1221.7,627.0 L1222.7,626.8 L1223.6,626.6 L1224.5,626.5 L1225.4,626.6 L1226.4,626.7 L1227.3,626.9 L1228.2,627.2 L1229.2,627.7 L1230.1,628.2 L1231.0,628.7 L1232.0,629.4 L1232.9,630.1 L1233.8,630.8 L1234.7,631.6 L1235.7,632.4 L1236.6,633.3 L1237.5,634.2 L1238.5,635.1 L1239.4,636.0 L1240.3,636.9 L1241.3,637.7 L1242.2,638.6 L1243.1,639.4 L1244.0,640.3 L1245.0,641.1 L1245.9,641.8 L1246.8,642.6 L1247.8,643.2 L1248.7,643.9 L1249.6,644.5 L1250.5,645.1 L1251.5,645.6 L1252.4,646.1 L1253.3,646.5 L1254.3,646.9 L1255.2,647.2 L1256.1,647.4 L1257.1,647.6 L1258.0,647.7 L1258.9,647.7 L1259.8,647.7 L1260.8,647.6 L1261.7,647.4 L1262.6,647.2 L1263.6,646.8 L1264.5,646.5 L1265.4,646.0 L1266.4,645.5 L1267.3,645.0 L1268.2,644.4 L1269.1,643.8 L1270.1,643.2 L1271.0,642.5 L1271.9,641.8 L1272.9,641.1 L1273.8,640.4 L1274.7,639.7 L1275.7,639.0 L1276.6,638.3 L1277.5,637.6 L1278.4,636.9 L1279.4,636.2 L1280.3,635.5 L1281.2,634.9 L1282.2,634.3 L1283.1,633.7 L1284.0,633.2 L1285.0,632.8 L1285.9,632.4 L1286.8,632.0 L1287.7,631.7 L1288.7,631.5 L1289.6,631.3 L1290.5,631.3 L1291.5,631.3 L1292.4,631.3 L1293.3,631.5 L1294.3,631.7 L1295.2,631.9 L1296.1,632.1 L1297.0,632.4 L1298.0,632.7 L1298.9,633.1" stroke="#ff0000" stroke-width="3.1"/>
</g>
<g stroke="#000" stroke-width="1.6" fill="none" stroke-linecap="butt">
<path d="M90.4,44.6 V751.5 M648.9,44.6 V751.5"/>
<path d="M90.4,45.4 H648.9 M90.4,398.0 H648.9 M90.4,750.7 H648.9"/>
<path d="M90.40,398.0 V405.4"/>
<path d="M160.21,398.0 V402.3"/>
<path d="M230.03,398.0 V405.4"/>
<path d="M299.84,398.0 V402.3"/>
<path d="M369.65,398.0 V405.4"/>
<path d="M439.46,398.0 V402.3"/>
<path d="M509.27,398.0 V405.4"/>
<path d="M579.09,398.0 V402.3"/>
<path d="M648.90,398.0 V405.4"/>
<path d="M90.40,750.7 V758.1"/>
<path d="M160.21,750.7 V755.0"/>
<path d="M230.03,750.7 V758.1"/>
<path d="M299.84,750.7 V755.0"/>
<path d="M369.65,750.7 V758.1"/>
<path d="M439.46,750.7 V755.0"/>
<path d="M509.27,750.7 V758.1"/>
<path d="M579.09,750.7 V755.0"/>
<path d="M648.90,750.7 V758.1"/>
<path d="M83.0,398.00 H90.4"/>
<path d="M86.1,327.48 H90.4"/>
<path d="M83.0,256.96 H90.4"/>
<path d="M86.1,186.44 H90.4"/>
<path d="M83.0,115.92 H90.4"/>
<path d="M86.1,45.40 H90.4"/>
<path d="M83.0,750.70 H90.4"/>
<path d="M86.1,680.16 H90.4"/>
<path d="M83.0,609.62 H90.4"/>
<path d="M86.1,539.08 H90.4"/>
<path d="M83.0,468.54 H90.4"/>
<path d="M741.0,44.6 V751.5 M1298.9,44.6 V751.5"/>
<path d="M741.0,45.4 H1298.9 M741.0,398.0 H1298.9 M741.0,750.7 H1298.9"/>
<path d="M741.00,398.0 V405.4"/>
<path d="M810.74,398.0 V402.3"/>
<path d="M880.48,398.0 V405.4"/>
<path d="M950.21,398.0 V402.3"/>
<path d="M1019.95,398.0 V405.4"/>
<path d="M1089.69,398.0 V402.3"/>
<path d="M1159.43,398.0 V405.4"/>
<path d="M1229.16,398.0 V402.3"/>
<path d="M1298.90,398.0 V405.4"/>
<path d="M741.00,750.7 V758.1"/>
<path d="M810.74,750.7 V755.0"/>
<path d="M880.48,750.7 V758.1"/>
<path d="M950.21,750.7 V755.0"/>
<path d="M1019.95,750.7 V758.1"/>
<path d="M1089.69,750.7 V755.0"/>
<path d="M1159.43,750.7 V758.1"/>
<path d="M1229.16,750.7 V755.0"/>
<path d="M1298.90,750.7 V758.1"/>
<path d="M733.6,398.00 H741.0"/>
<path d="M736.7,309.85 H741.0"/>
<path d="M733.6,221.70 H741.0"/>
<path d="M736.7,133.55 H741.0"/>
<path d="M733.6,45.40 H741.0"/>
<path d="M733.6,750.70 H741.0"/>
<path d="M736.7,662.53 H741.0"/>
<path d="M733.6,574.35 H741.0"/>
<path d="M736.7,486.18 H741.0"/>
</g>
<text x="90.0" y="790.2" font-size="29.2" text-anchor="middle" >–30</text>
<text x="229.6" y="790.2" font-size="29.2" text-anchor="middle" >–15</text>
<text x="369.2" y="790.2" font-size="29.2" text-anchor="middle" >0</text>
<text x="508.9" y="790.2" font-size="29.2" text-anchor="middle" >15</text>
<text x="648.5" y="790.2" font-size="29.2" text-anchor="middle" >30</text>
<text x="71.4" y="407.6" font-size="29.2" text-anchor="end" >0</text>
<text x="71.4" y="266.6" font-size="29.2" text-anchor="end" >2</text>
<text x="71.4" y="125.5" font-size="29.2" text-anchor="end" >4</text>
<text x="71.4" y="760.3" font-size="29.2" text-anchor="end" >0</text>
<text x="71.4" y="619.2" font-size="29.2" text-anchor="end" >2</text>
<text x="71.4" y="478.1" font-size="29.2" text-anchor="end" >4</text>
<text x="740.6" y="790.2" font-size="29.2" text-anchor="middle" >–30</text>
<text x="880.1" y="790.2" font-size="29.2" text-anchor="middle" >–15</text>
<text x="1019.6" y="790.2" font-size="29.2" text-anchor="middle" >0</text>
<text x="1159.0" y="790.2" font-size="29.2" text-anchor="middle" >15</text>
<text x="1298.5" y="790.2" font-size="29.2" text-anchor="middle" >30</text>
<text x="722.0" y="407.6" font-size="29.2" text-anchor="end" >0</text>
<text x="722.0" y="231.3" font-size="29.2" text-anchor="end" >2</text>
<text x="722.0" y="55.0" font-size="29.2" text-anchor="end" >4</text>
<text x="722.0" y="760.3" font-size="29.2" text-anchor="end" >0</text>
<text x="722.0" y="584.0" font-size="29.2" text-anchor="end" >2</text>
<text x="369.3" y="838.1" font-size="29.2" text-anchor="middle" >Scattering angle (degree)</text>
<text x="1019.0" y="838.1" font-size="29.2" text-anchor="middle" >Scattering angle (degree)</text>
<text transform="translate(22.1,398.7) rotate(-90)" font-size="29.2" text-anchor="middle">DCS (arb.units)</text>
<text x="142.53" y="21.1" font-size="29.2">H</text>
<text x="163.24" y="29.7" font-size="21">2</text>
<text x="180.68" y="21.1" font-size="29.2">(</text>
<text x="192.62" y="21.1" font-size="29.2" font-style="italic">v</text>
<path d="M209.70,7.70 L211.20,8.00 L215.85,1.40 L214.65,-0.50 L212.75,-0.50 Z" fill="#000"/>
<text x="224.05" y="21.1" font-size="29.2">=</text>
<text x="249.57" y="21.1" font-size="29.2">0</text>
<text x="265.68" y="21.1" font-size="29.2">,</text>
<text x="283.93" y="21.1" font-size="29.2" font-style="italic">j</text>
<path d="M291.70,7.70 L293.20,8.00 L297.85,1.40 L296.65,-0.50 L294.75,-0.50 Z" fill="#000"/>
<text x="307.05" y="21.1" font-size="29.2">=</text>
<text x="331.75" y="21.1" font-size="29.2">11</text>
<text x="372.35" y="21.1" font-size="29.2">and</text>
<text x="431.52" y="21.1" font-size="29.2" font-style="italic">v</text>
<path d="M447.90,7.70 L449.40,8.00 L454.05,1.40 L452.85,-0.50 L450.95,-0.50 Z" fill="#000"/>
<text x="462.85" y="21.1" font-size="29.2">=</text>
<text x="485.95" y="21.1" font-size="29.2">1</text>
<text x="504.27" y="21.1" font-size="29.2">,</text>
<text x="522.42" y="21.1" font-size="29.2" font-style="italic">j</text>
<path d="M530.10,7.70 L531.60,8.00 L536.25,1.40 L535.05,-0.50 L533.15,-0.50 Z" fill="#000"/>
<text x="545.65" y="21.1" font-size="29.2">=</text>
<text x="570.98" y="21.1" font-size="29.2">7</text>
<text x="587.27" y="21.1" font-size="29.2">)</text>
<text x="800.92" y="21.1" font-size="29.2">H</text>
<text x="821.84" y="29.7" font-size="21">2</text>
<text x="838.98" y="21.1" font-size="29.2">(</text>
<text x="850.92" y="21.1" font-size="29.2" font-style="italic">v</text>
<path d="M867.90,7.70 L869.40,8.00 L874.05,1.40 L872.85,-0.50 L870.95,-0.50 Z" fill="#000"/>
<text x="882.45" y="21.1" font-size="29.2">=</text>
<text x="906.00" y="21.1" font-size="29.2">1</text>
<text x="923.92" y="21.1" font-size="29.2">,</text>
<text x="942.23" y="21.1" font-size="29.2" font-style="italic">j</text>
<path d="M950.40,7.70 L951.90,8.00 L956.55,1.40 L955.35,-0.50 L953.45,-0.50 Z" fill="#000"/>
<text x="965.55" y="21.1" font-size="29.2">=</text>
<text x="991.10" y="21.1" font-size="29.2">9</text>
<text x="1014.75" y="21.1" font-size="29.2">and</text>
<text x="1073.92" y="21.1" font-size="29.2" font-style="italic">v</text>
<path d="M1090.30,7.70 L1091.80,8.00 L1096.45,1.40 L1095.25,-0.50 L1093.35,-0.50 Z" fill="#000"/>
<text x="1105.05" y="21.1" font-size="29.2">=</text>
<text x="1130.03" y="21.1" font-size="29.2">2</text>
<text x="1146.47" y="21.1" font-size="29.2">,</text>
<text x="1164.67" y="21.1" font-size="29.2" font-style="italic">j</text>
<path d="M1172.40,7.70 L1173.90,8.00 L1178.55,1.40 L1177.35,-0.50 L1175.45,-0.50 Z" fill="#000"/>
<text x="1187.85" y="21.1" font-size="29.2">=</text>
<text x="1212.97" y="21.1" font-size="29.2">3</text>
<text x="1229.53" y="21.1" font-size="29.2">)</text>
<text x="103.5" y="94.8" font-size="42" font-weight="bold">a</text>
<text x="751.2" y="94.5" font-size="42" font-weight="bold">b</text>
<text x="103.6" y="447.3" font-size="42" font-weight="bold">c</text>
<text x="751.2" y="447.0" font-size="42" font-weight="bold">d</text>
<g stroke-linecap="round" stroke-width="2.8" fill="none"><path d="M489.9,76.2 H559.4" stroke="#0000ff"/><path d="M489.9,114.6 H559.4" stroke="#ff0000"/></g>
<text x="570.4" y="87.2" font-size="29.2" text-anchor="start" >NGP</text>
<text x="570.4" y="125.5" font-size="29.2" text-anchor="start" >EXP</text>
<g stroke-linecap="round" stroke-width="2.8" fill="none"><path d="M1141.0,76.2 H1210.5" stroke="#0000ff"/><path d="M1141.0,114.6 H1210.5" stroke="#ff0000"/></g>
<text x="1220.4" y="87.2" font-size="29.2" text-anchor="start" >NGP</text>
<text x="1220.4" y="125.5" font-size="29.2" text-anchor="start" >EXP</text>
<g stroke-linecap="round" stroke-width="2.8" fill="none"><path d="M492.6,431.7 H562.2" stroke="#0000ff"/><path d="M492.6,470.1 H562.2" stroke="#ff0000"/></g>
<text x="572.4" y="442.9" font-size="29.2" text-anchor="start" >GP</text>
<text x="572.4" y="480.6" font-size="29.2" text-anchor="start" >EXP</text>
<g stroke-linecap="round" stroke-width="2.8" fill="none"><path d="M1144.0,431.7 H1213.3" stroke="#0000ff"/><path d="M1144.0,470.1 H1213.3" stroke="#ff0000"/></g>
<text x="1222.4" y="442.9" font-size="29.2" text-anchor="start" >GP</text>
<text x="1222.4" y="480.6" font-size="29.2" text-anchor="start" >EXP</text>
</svg></body></html>
